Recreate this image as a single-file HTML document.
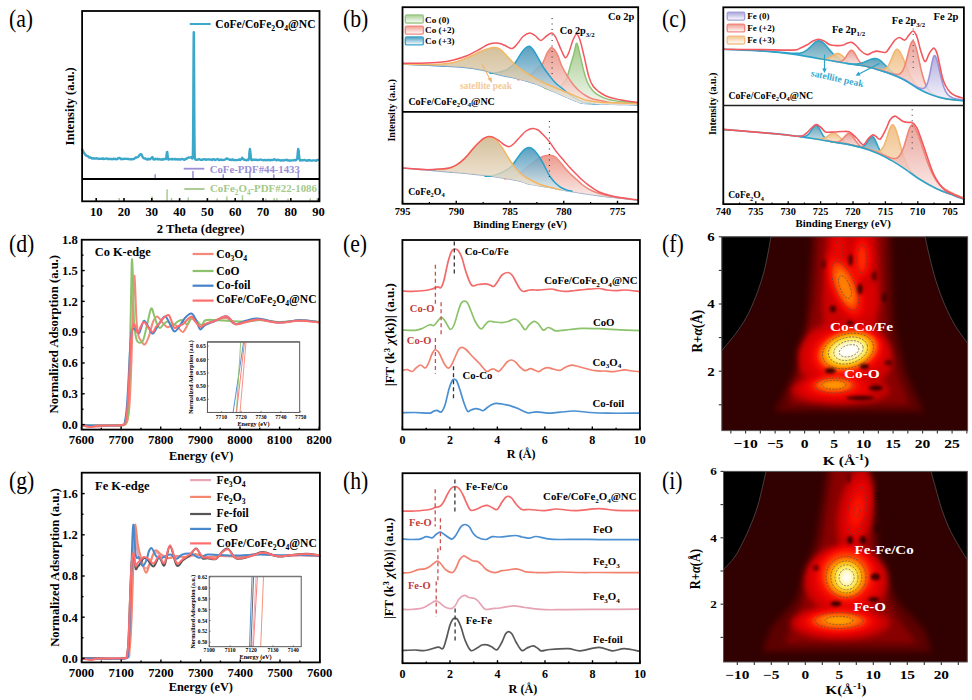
<!DOCTYPE html>
<html><head><meta charset="utf-8"><style>html,body{margin:0;padding:0;background:#fff;}svg{display:block;}
text{font-family:"Liberation Serif", serif;}</style></head><body>
<svg width="972" height="700" viewBox="0 0 972 700">
<defs><linearGradient id="g1" gradientUnits="userSpaceOnUse" x1="0" y1="43.3" x2="0" y2="105"><stop offset="0" stop-color="#93c177" stop-opacity="1.0"/><stop offset="1" stop-color="#f2f6ee" stop-opacity="1.0"/></linearGradient>
<linearGradient id="g2" gradientUnits="userSpaceOnUse" x1="0" y1="47.6" x2="0" y2="104.71"><stop offset="0" stop-color="#e98a7a" stop-opacity="1.0"/><stop offset="1" stop-color="#fbecea" stop-opacity="1.0"/></linearGradient>
<linearGradient id="g3" gradientUnits="userSpaceOnUse" x1="0" y1="46.2" x2="0" y2="103.99"><stop offset="0" stop-color="#3d8fb6" stop-opacity="1.0"/><stop offset="1" stop-color="#e3eff3" stop-opacity="1.0"/></linearGradient>
<linearGradient id="g4" gradientUnits="userSpaceOnUse" x1="0" y1="47.5" x2="0" y2="105"><stop offset="0" stop-color="#c9b184" stop-opacity="1.0"/><stop offset="1" stop-color="#f3e6d6" stop-opacity="1.0"/></linearGradient>
<linearGradient id="g5" gradientUnits="userSpaceOnUse" x1="0" y1="155.2" x2="0" y2="199.41"><stop offset="0" stop-color="#e98a7a" stop-opacity="1.0"/><stop offset="1" stop-color="#fbecea" stop-opacity="1.0"/></linearGradient>
<linearGradient id="g6" gradientUnits="userSpaceOnUse" x1="0" y1="147.4" x2="0" y2="191.72"><stop offset="0" stop-color="#3d8fb6" stop-opacity="1.0"/><stop offset="1" stop-color="#e3eff3" stop-opacity="1.0"/></linearGradient>
<linearGradient id="g7" gradientUnits="userSpaceOnUse" x1="0" y1="137.2" x2="0" y2="189.63"><stop offset="0" stop-color="#c9b184" stop-opacity="1.0"/><stop offset="1" stop-color="#f3e6d6" stop-opacity="1.0"/></linearGradient>
<linearGradient id="g8" gradientUnits="userSpaceOnUse" x1="0" y1="15" x2="0" y2="23"><stop offset="0" stop-color="#a9cf90" stop-opacity="1.0"/><stop offset="1" stop-color="#ffffff" stop-opacity="1.0"/></linearGradient>
<linearGradient id="g9" gradientUnits="userSpaceOnUse" x1="0" y1="26.1" x2="0" y2="34.1"><stop offset="0" stop-color="#f29a8e" stop-opacity="1.0"/><stop offset="1" stop-color="#ffffff" stop-opacity="1.0"/></linearGradient>
<linearGradient id="g10" gradientUnits="userSpaceOnUse" x1="0" y1="36.9" x2="0" y2="44.9"><stop offset="0" stop-color="#4a9cc0" stop-opacity="1.0"/><stop offset="1" stop-color="#ffffff" stop-opacity="1.0"/></linearGradient>
<linearGradient id="g11" gradientUnits="userSpaceOnUse" x1="0" y1="40.79" x2="0" y2="74.08"><stop offset="0" stop-color="#4f98b3" stop-opacity="1.0"/><stop offset="1" stop-color="#cfe3ea" stop-opacity="1.0"/></linearGradient>
<linearGradient id="g12" gradientUnits="userSpaceOnUse" x1="0" y1="53.49" x2="0" y2="65.12"><stop offset="0" stop-color="#efb878" stop-opacity="1.0"/><stop offset="1" stop-color="#fbefe2" stop-opacity="1.0"/></linearGradient>
<linearGradient id="g13" gradientUnits="userSpaceOnUse" x1="0" y1="50.35" x2="0" y2="67.36"><stop offset="0" stop-color="#e58f85" stop-opacity="1.0"/><stop offset="1" stop-color="#fcefed" stop-opacity="1.0"/></linearGradient>
<linearGradient id="g14" gradientUnits="userSpaceOnUse" x1="0" y1="58.56" x2="0" y2="82.21"><stop offset="0" stop-color="#4f98b3" stop-opacity="1.0"/><stop offset="1" stop-color="#cfe3ea" stop-opacity="1.0"/></linearGradient>
<linearGradient id="g15" gradientUnits="userSpaceOnUse" x1="0" y1="49.22" x2="0" y2="100"><stop offset="0" stop-color="#efb878" stop-opacity="1.0"/><stop offset="1" stop-color="#fbefe2" stop-opacity="1.0"/></linearGradient>
<linearGradient id="g16" gradientUnits="userSpaceOnUse" x1="0" y1="41.07" x2="0" y2="100.89"><stop offset="0" stop-color="#e58f85" stop-opacity="1.0"/><stop offset="1" stop-color="#fcefed" stop-opacity="1.0"/></linearGradient>
<linearGradient id="g17" gradientUnits="userSpaceOnUse" x1="0" y1="55.67" x2="0" y2="100.89"><stop offset="0" stop-color="#a7a3d8" stop-opacity="1.0"/><stop offset="1" stop-color="#f3f2fa" stop-opacity="1.0"/></linearGradient>
<linearGradient id="g18" gradientUnits="userSpaceOnUse" x1="0" y1="125.23" x2="0" y2="142.34"><stop offset="0" stop-color="#4f98b3" stop-opacity="1.0"/><stop offset="1" stop-color="#cfe3ea" stop-opacity="1.0"/></linearGradient>
<linearGradient id="g19" gradientUnits="userSpaceOnUse" x1="0" y1="133.17" x2="0" y2="145.96"><stop offset="0" stop-color="#efb878" stop-opacity="1.0"/><stop offset="1" stop-color="#fbefe2" stop-opacity="1.0"/></linearGradient>
<linearGradient id="g20" gradientUnits="userSpaceOnUse" x1="0" y1="133.5" x2="0" y2="149.6"><stop offset="0" stop-color="#e58f85" stop-opacity="1.0"/><stop offset="1" stop-color="#fcefed" stop-opacity="1.0"/></linearGradient>
<linearGradient id="g21" gradientUnits="userSpaceOnUse" x1="0" y1="136.6" x2="0" y2="160.17"><stop offset="0" stop-color="#4f98b3" stop-opacity="1.0"/><stop offset="1" stop-color="#cfe3ea" stop-opacity="1.0"/></linearGradient>
<linearGradient id="g22" gradientUnits="userSpaceOnUse" x1="0" y1="124.85" x2="0" y2="194.11"><stop offset="0" stop-color="#efb878" stop-opacity="1.0"/><stop offset="1" stop-color="#fbefe2" stop-opacity="1.0"/></linearGradient>
<linearGradient id="g23" gradientUnits="userSpaceOnUse" x1="0" y1="124.84" x2="0" y2="198.88"><stop offset="0" stop-color="#e58f85" stop-opacity="1.0"/><stop offset="1" stop-color="#fcefed" stop-opacity="1.0"/></linearGradient>
<linearGradient id="g24" gradientUnits="userSpaceOnUse" x1="0" y1="12.3" x2="0" y2="20.1"><stop offset="0" stop-color="#a9a5dc" stop-opacity="1.0"/><stop offset="1" stop-color="#ffffff" stop-opacity="1.0"/></linearGradient>
<linearGradient id="g25" gradientUnits="userSpaceOnUse" x1="0" y1="24.3" x2="0" y2="31.9"><stop offset="0" stop-color="#f29a8e" stop-opacity="1.0"/><stop offset="1" stop-color="#ffffff" stop-opacity="1.0"/></linearGradient>
<linearGradient id="g26" gradientUnits="userSpaceOnUse" x1="0" y1="36.2" x2="0" y2="44"><stop offset="0" stop-color="#f4c38c" stop-opacity="1.0"/><stop offset="1" stop-color="#ffffff" stop-opacity="1.0"/></linearGradient>
<filter id="bl15" x="-50%" y="-50%" width="200%" height="200%"><feGaussianBlur stdDeviation="1.4"/></filter>
<clipPath id="clipf"><rect x="721.8" y="236.8" width="245.80000000000007" height="193.8"/></clipPath>
<filter id="hotf" x="0" y="0" width="972" height="700" filterUnits="userSpaceOnUse" color-interpolation-filters="sRGB"><feGaussianBlur stdDeviation="3.2"/><feComponentTransfer><feFuncR type="table" tableValues="0.196 0.294 0.412 0.569 0.745 0.902 0.988 1.000 1.000 1.000 1.000"/><feFuncG type="table" tableValues="0.000 0.000 0.000 0.000 0.000 0.000 0.078 0.353 0.667 0.922 1.000"/><feFuncB type="table" tableValues="0.000 0.000 0.000 0.000 0.000 0.000 0.000 0.000 0.000 0.353 1.000"/></feComponentTransfer></filter>
<clipPath id="clipi"><rect x="723.5" y="471.4" width="243.79999999999995" height="190.60000000000002"/></clipPath>
<filter id="hoti" x="0" y="0" width="972" height="700" filterUnits="userSpaceOnUse" color-interpolation-filters="sRGB"><feGaussianBlur stdDeviation="3.2"/><feComponentTransfer><feFuncR type="table" tableValues="0.196 0.294 0.412 0.569 0.745 0.902 0.988 1.000 1.000 1.000 1.000"/><feFuncG type="table" tableValues="0.000 0.000 0.000 0.000 0.000 0.000 0.078 0.353 0.667 0.922 1.000"/><feFuncB type="table" tableValues="0.000 0.000 0.000 0.000 0.000 0.000 0.000 0.000 0.000 0.353 1.000"/></feComponentTransfer></filter></defs>
<rect x="0" y="0" width="972" height="700" fill="#fff"/>
<path d="M82.3,149.36 L83.27,151.77 L84.25,153.24 L85.22,154.7 L86.19,155.68 L87.16,155.9 L88.14,156.42 L89.11,157.59 L90.08,157.4 L91.06,157.63 L92.03,158.51 L93,158.19 L93.98,158.64 L94.95,158.4 L95.92,158.62 L96.89,158.24 L97.87,158.72 L98.84,158.96 L99.81,158.68 L100.79,158.9 L101.76,158.86 L102.73,158.33 L103.71,158.97 L104.68,158.83 L105.65,158.58 L106.62,158.35 L107.6,159.11 L108.57,158.77 L109.54,159 L110.52,159.15 L111.49,159.01 L112.46,159.21 L113.44,158.74 L114.41,159.11 L115.38,158.8 L116.35,159.25 L117.33,159.17 L118.3,158.21 L119.27,157.95 L120.25,158.33 L121.22,159.28 L122.19,158.84 L123.17,159.03 L124.14,158.74 L125.11,158.93 L126.09,158.83 L127.06,158.81 L128.03,159.02 L129,159.03 L129.98,159.31 L130.95,159.1 L131.92,159.27 L132.9,159.08 L133.87,158.98 L134.84,158.34 L135.82,157.41 L136.79,157.51 L137.76,157.07 L138.73,156.29 L139.71,154.86 L140.68,154.22 L141.65,154.63 L142.63,157.05 L143.6,158.17 L144.57,158.5 L145.55,158.53 L146.52,159.34 L147.49,159.51 L148.46,158.73 L149.44,159.38 L150.41,159.03 L151.38,157.97 L152.36,157.06 L153.33,159.29 L154.3,159.48 L155.28,158.75 L156.25,159.27 L157.22,158.76 L158.19,159.37 L159.17,159.03 L160.14,159.54 L161.11,159.63 L162.09,159.21 L163.06,159.66 L164.03,159.05 L165.01,158.85 L165.98,159.11 L166.09,158.4 L166.2,158.2 L166.31,157.84 L166.42,157.25 L166.53,155.85 L166.65,154.58 L166.76,154.13 L166.87,152.57 L166.98,152.42 L167.09,152.1 L167.2,151.9 L167.31,152.71 L167.42,153.82 L167.53,155.13 L167.65,156.25 L167.76,157.22 L167.87,158.05 L167.98,158.88 L168.09,158.84 L168.2,158.98 L168.31,159.35 L168.42,158.98 L168.54,159.06 L168.65,159.68 L168.76,159.28 L168.87,159.3 L168.98,158.82 L169.95,159.19 L170.93,159.35 L171.9,158.85 L172.87,159.39 L173.85,159.42 L174.82,158.91 L175.79,159.43 L176.76,159.29 L177.74,159.49 L178.71,159.2 L179.68,159.53 L180.66,159.56 L181.63,158.93 L182.6,158.97 L183.58,159.53 L184.55,159.76 L185.52,158.98 L186.49,158.72 L187.47,158.12 L188.44,157.44 L189.41,157.68 L190.39,157.41 L191.36,157.11 L192.33,158.54 L192.44,158.34 L192.55,158.27 L192.67,158.05 L192.78,155.85 L192.89,153.02 L193,146.87 L193.11,135.89 L193.22,120.01 L193.33,99.84 L193.44,75.87 L193.56,53.61 L193.67,37.75 L193.78,32.1 L193.89,37.47 L194,53.77 L194.11,76.03 L194.22,99.97 L194.33,120.35 L194.45,136.58 L194.56,146.62 L194.67,153.15 L194.78,156.84 L194.89,158.68 L195,159 L195.11,159.07 L195.22,159.08 L195.33,159.48 L195.45,159.18 L196.42,159.75 L197.39,159.78 L198.37,159.2 L199.34,159.29 L200.31,159.78 L201.28,159.63 L202.26,159.79 L203.23,159.38 L204.2,159.2 L205.18,159.35 L206.15,159.81 L207.12,159.34 L208.1,159.42 L209.07,159.49 L210.04,159.5 L211.01,159.5 L211.99,159.97 L212.96,159.29 L213.93,159.16 L214.91,159.99 L215.88,159.7 L216.85,159.31 L217.83,159.01 L218.8,159.94 L219.77,160.03 L220.74,159.4 L221.72,159.88 L222.69,159.97 L223.66,159.82 L224.64,159.69 L225.61,159.26 L226.58,158.45 L227.56,158.73 L228.53,159.26 L229.5,159.8 L230.47,159.54 L231.45,160.02 L232.42,159.33 L233.39,160.11 L234.37,159.93 L235.34,160.15 L236.31,160.13 L237.29,160.14 L238.26,159.86 L239.23,159.36 L240.2,160.02 L241.18,159.36 L242.15,157.87 L243.12,159.06 L244.1,159.83 L245.07,159.76 L246.04,160.24 L247.02,159.96 L247.99,159.71 L248.1,159.62 L248.21,160.14 L248.32,159.74 L248.43,159.93 L248.54,159.4 L248.66,159.03 L248.77,158.99 L248.88,158.73 L248.99,157.46 L249.1,157.11 L249.21,156.13 L249.32,154.78 L249.43,153.46 L249.54,151.43 L249.66,150.85 L249.77,150.21 L249.88,149.03 L249.99,149.23 L250.1,149.68 L250.21,150.76 L250.32,151.81 L250.43,153.15 L250.55,154.76 L250.66,155.32 L250.77,156.46 L250.88,157.43 L250.99,158.13 L251.1,158.59 L251.21,159.75 L251.32,159.88 L251.44,159.33 L251.55,159.79 L251.66,159.67 L251.77,159.7 L251.88,159.75 L251.99,160.02 L252.1,159.97 L253.08,159.78 L254.05,159.63 L255.02,159.76 L255.99,159.58 L256.97,159.98 L257.94,160.13 L258.91,159.84 L259.89,159.57 L260.86,159.67 L261.83,159.85 L262.81,160.07 L263.78,160.24 L264.75,159.88 L265.72,160.27 L266.7,160.12 L267.67,159.95 L268.64,159.9 L269.62,160.02 L270.59,160.22 L271.56,159.96 L272.54,160.13 L273.51,159.56 L274.48,159.29 L275.45,159.94 L276.43,160.24 L277.4,159.7 L278.37,160.03 L279.35,160.03 L280.32,160.45 L281.29,160.51 L282.27,160.01 L283.24,160.49 L284.21,160.4 L285.18,159.93 L286.16,160.12 L287.13,159.82 L288.1,160.45 L289.08,160.32 L290.05,160.53 L291.02,160.45 L292,160.35 L292.97,160.42 L293.94,160.27 L294.91,159.86 L295.89,160.3 L296.86,159.25 L296.97,159.07 L297.08,159.2 L297.19,157.95 L297.31,157.22 L297.42,156.28 L297.53,155.85 L297.64,153.97 L297.75,152.51 L297.86,151.95 L297.97,150.13 L298.08,149.86 L298.19,149.11 L298.31,149.05 L298.42,149.36 L298.53,149.62 L298.64,150.75 L298.75,151.23 L298.86,153.18 L298.97,154.28 L299.08,155.72 L299.2,156.3 L299.31,157.83 L299.42,158.77 L299.53,158.58 L299.64,159.25 L299.75,159.78 L299.86,160.22 L299.97,159.83 L300.09,159.86 L300.2,159.97 L300.31,160.33 L300.42,160.47 L300.53,160.16 L300.64,160.14 L301.61,160.18 L302.59,160.14 L303.56,160.21 L304.53,159.92 L305.51,160.3 L306.48,160.73 L307.45,160.24 L308.43,160.55 L309.4,160.02 L310.37,160.51 L311.34,160.58 L312.32,160.51 L313.29,160.37 L314.26,160.35 L315.24,160.5 L316.21,160.74 L317.18,160.07 L318.16,160.03" stroke="#3ba7c9" stroke-width="2.4" fill="none" stroke-linejoin="round" stroke-linecap="round"/>
<line x1="155.14" y1="174.3" x2="155.14" y2="179" stroke="#9a8ed6" stroke-width="1.5" stroke-linecap="butt"/>
<line x1="192.94" y1="171" x2="192.94" y2="179" stroke="#9a8ed6" stroke-width="1.5" stroke-linecap="butt"/>
<line x1="223.25" y1="174.3" x2="223.25" y2="179" stroke="#9a8ed6" stroke-width="1.5" stroke-linecap="butt"/>
<line x1="249.93" y1="171" x2="249.93" y2="179" stroke="#9a8ed6" stroke-width="1.5" stroke-linecap="butt"/>
<line x1="273.84" y1="174.3" x2="273.84" y2="179" stroke="#9a8ed6" stroke-width="1.5" stroke-linecap="butt"/>
<line x1="298.31" y1="171" x2="298.31" y2="179" stroke="#9a8ed6" stroke-width="1.5" stroke-linecap="butt"/>
<line x1="183.7" y1="168.7" x2="204.3" y2="168.7" stroke="#9a8ed6" stroke-width="1.8" stroke-linecap="butt"/>
<text x="209.7" y="172.6" font-size="10.75" font-weight="bold" text-anchor="start" fill="#9a8ed6">CoFe-PDF#44-1433</text>
<line x1="119.27" y1="198" x2="119.27" y2="201.3" stroke="#a3c98a" stroke-width="1.4" stroke-linecap="butt"/>
<line x1="152.08" y1="196.5" x2="152.08" y2="201.3" stroke="#a3c98a" stroke-width="1.4" stroke-linecap="butt"/>
<line x1="167.09" y1="189.3" x2="167.09" y2="201.3" stroke="#a3c98a" stroke-width="1.4" stroke-linecap="butt"/>
<line x1="171.54" y1="198" x2="171.54" y2="201.3" stroke="#a3c98a" stroke-width="1.4" stroke-linecap="butt"/>
<line x1="188.22" y1="197.5" x2="188.22" y2="201.3" stroke="#a3c98a" stroke-width="1.4" stroke-linecap="butt"/>
<line x1="217.13" y1="198.3" x2="217.13" y2="201.3" stroke="#a3c98a" stroke-width="1.4" stroke-linecap="butt"/>
<line x1="226.86" y1="196.5" x2="226.86" y2="201.3" stroke="#a3c98a" stroke-width="1.4" stroke-linecap="butt"/>
<line x1="242.43" y1="195.3" x2="242.43" y2="201.3" stroke="#a3c98a" stroke-width="1.4" stroke-linecap="butt"/>
<line x1="265.78" y1="198.5" x2="265.78" y2="201.3" stroke="#a3c98a" stroke-width="1.4" stroke-linecap="butt"/>
<line x1="274.12" y1="198" x2="274.12" y2="201.3" stroke="#a3c98a" stroke-width="1.4" stroke-linecap="butt"/>
<line x1="276.9" y1="198.3" x2="276.9" y2="201.3" stroke="#a3c98a" stroke-width="1.4" stroke-linecap="butt"/>
<line x1="288.02" y1="198.5" x2="288.02" y2="201.3" stroke="#a3c98a" stroke-width="1.4" stroke-linecap="butt"/>
<line x1="310.26" y1="198.3" x2="310.26" y2="201.3" stroke="#a3c98a" stroke-width="1.4" stroke-linecap="butt"/>
<line x1="317.21" y1="198.5" x2="317.21" y2="201.3" stroke="#a3c98a" stroke-width="1.4" stroke-linecap="butt"/>
<line x1="184.3" y1="189" x2="204.5" y2="189" stroke="#a3c98a" stroke-width="1.8" stroke-linecap="butt"/>
<text x="210" y="192.3" font-size="10.9" font-weight="bold" text-anchor="start" fill="#a3c98a">CoFe<tspan font-size="7.19" dy="2.83">2</tspan><tspan dy="-2.83">O</tspan><tspan font-size="7.19" dy="2.83">4</tspan><tspan dy="-2.83">-PDF#22-1086</tspan></text>
<line x1="189.8" y1="24" x2="210.7" y2="24" stroke="#3ba7c9" stroke-width="2" stroke-linecap="butt"/>
<text x="215.3" y="27.6" font-size="11.6" font-weight="bold" text-anchor="start" fill="#000">CoFe/CoFe<tspan font-size="7.66" dy="3.02">2</tspan><tspan dy="-3.02">O</tspan><tspan font-size="7.66" dy="3.02">4</tspan><tspan dy="-3.02">@NC</tspan></text>
<rect x="82.1" y="11" width="237.4" height="190.3" stroke="#000" stroke-width="1.8" fill="none"/>
<line x1="82.1" y1="179" x2="319.5" y2="179" stroke="#000" stroke-width="1.8" stroke-linecap="butt"/>
<line x1="96.2" y1="201.3" x2="96.2" y2="198.1" stroke="#000" stroke-width="1.6" stroke-linecap="butt"/>
<text x="96.2" y="215.8" font-size="12.6" font-weight="bold" text-anchor="middle" fill="#000">10</text>
<line x1="124" y1="201.3" x2="124" y2="198.1" stroke="#000" stroke-width="1.6" stroke-linecap="butt"/>
<text x="124" y="215.8" font-size="12.6" font-weight="bold" text-anchor="middle" fill="#000">20</text>
<line x1="151.8" y1="201.3" x2="151.8" y2="198.1" stroke="#000" stroke-width="1.6" stroke-linecap="butt"/>
<text x="151.8" y="215.8" font-size="12.6" font-weight="bold" text-anchor="middle" fill="#000">30</text>
<line x1="179.6" y1="201.3" x2="179.6" y2="198.1" stroke="#000" stroke-width="1.6" stroke-linecap="butt"/>
<text x="179.6" y="215.8" font-size="12.6" font-weight="bold" text-anchor="middle" fill="#000">40</text>
<line x1="207.4" y1="201.3" x2="207.4" y2="198.1" stroke="#000" stroke-width="1.6" stroke-linecap="butt"/>
<text x="207.4" y="215.8" font-size="12.6" font-weight="bold" text-anchor="middle" fill="#000">50</text>
<line x1="235.2" y1="201.3" x2="235.2" y2="198.1" stroke="#000" stroke-width="1.6" stroke-linecap="butt"/>
<text x="235.2" y="215.8" font-size="12.6" font-weight="bold" text-anchor="middle" fill="#000">60</text>
<line x1="263" y1="201.3" x2="263" y2="198.1" stroke="#000" stroke-width="1.6" stroke-linecap="butt"/>
<text x="263" y="215.8" font-size="12.6" font-weight="bold" text-anchor="middle" fill="#000">70</text>
<line x1="290.8" y1="201.3" x2="290.8" y2="198.1" stroke="#000" stroke-width="1.6" stroke-linecap="butt"/>
<text x="290.8" y="215.8" font-size="12.6" font-weight="bold" text-anchor="middle" fill="#000">80</text>
<line x1="318.6" y1="201.3" x2="318.6" y2="198.1" stroke="#000" stroke-width="1.6" stroke-linecap="butt"/>
<text x="318.6" y="215.8" font-size="12.6" font-weight="bold" text-anchor="middle" fill="#000">90</text>
<text x="200.7" y="232.5" font-size="12.6" font-weight="bold" text-anchor="middle" fill="#000">2 Theta (degree)</text>
<text x="74.5" y="106.3" font-size="12.5" font-weight="bold" text-anchor="middle" fill="#000" transform="rotate(-90 74.5 106.3)">Intensity (a.u.)</text>
<text x="8.9" y="26.7" font-size="24.7" font-weight="normal" text-anchor="start" fill="#000" transform="translate(8.9 0) scale(0.88 1) translate(-8.9 0)">(a)</text>
<path d="M402.5,64.2 C408.75,64.5 428.08,65.25 440,66 C451.92,66.75 464,67.2 474,68.7 C484,70.2 493.2,73.42 500,75 C506.8,76.58 510.68,77.27 514.8,78.2 C518.92,79.13 521,79.55 524.7,80.6 C528.4,81.65 532.88,82.97 537,84.5 C541.12,86.03 545.28,88.02 549.4,89.8 C553.52,91.58 557.6,93.45 561.7,95.2 C565.8,96.95 570.92,99.03 574,100.3 C577.08,101.57 578.13,102.25 580.2,102.8 C582.27,103.35 583.3,103.38 586.4,103.6 C589.5,103.82 593.2,103.93 598.8,104.1 C604.4,104.27 613.43,104.45 620,104.6 C626.57,104.75 635.17,104.93 638.2,105" stroke="#5b9bd5" stroke-width="1.3" fill="none" stroke-linejoin="round" stroke-linecap="round"/>
<path d="M545,88.5 C545.83,88.67 548.23,89.18 550,89.5 C551.77,89.82 553.65,91.07 555.6,90.4 C557.55,89.73 559.85,87.55 561.7,85.5 C563.55,83.45 565.25,81.4 566.7,78.1 C568.15,74.8 569.18,69.82 570.4,65.7 C571.62,61.58 572.93,57.13 574,53.4 C575.07,49.67 575.77,42.88 576.8,43.3 C577.83,43.72 579,51.13 580.2,55.9 C581.4,60.67 582.75,67.38 584,71.9 C585.25,76.42 586.27,79.92 587.7,83 C589.13,86.08 590.75,88.33 592.6,90.4 C594.45,92.47 596.33,93.95 598.8,95.4 C601.27,96.85 603.87,98.08 607.4,99.1 C610.93,100.12 614.9,100.8 620,101.5 C625.1,102.2 635,103 638,103.3 L638,105 L636,104.95 L634,104.91 L632,104.86 L630,104.82 L628,104.78 L626,104.73 L624,104.69 L622,104.65 L620,104.6 L618,104.56 L616,104.51 L614,104.47 L612,104.43 L610,104.38 L608,104.34 L606,104.29 L604,104.24 L602,104.19 L600,104.13 L598,104.08 L596,104.02 L594,103.96 L592,103.89 L590,103.81 L588,103.7 L586,103.57 L584,103.42 L582,103.18 L580,102.75 L578,102.04 L576,101.17 L574,100.3 L572,99.48 L570,98.66 L568,97.84 L566,97.01 L564,96.17 L562,95.33 L560,94.47 L558,93.59 L556,92.71 L554,91.82 L552,90.94 L550,90.06 L548,89.19 L546,88.3 L545,87.85 Z" stroke="none" stroke-width="1" fill="url(#g1)" stroke-linejoin="round" stroke-linecap="round" fill-opacity="0.85"/>
<path d="M545,88.5 C545.83,88.67 548.23,89.18 550,89.5 C551.77,89.82 553.65,91.07 555.6,90.4 C557.55,89.73 559.85,87.55 561.7,85.5 C563.55,83.45 565.25,81.4 566.7,78.1 C568.15,74.8 569.18,69.82 570.4,65.7 C571.62,61.58 572.93,57.13 574,53.4 C575.07,49.67 575.77,42.88 576.8,43.3 C577.83,43.72 579,51.13 580.2,55.9 C581.4,60.67 582.75,67.38 584,71.9 C585.25,76.42 586.27,79.92 587.7,83 C589.13,86.08 590.75,88.33 592.6,90.4 C594.45,92.47 596.33,93.95 598.8,95.4 C601.27,96.85 603.87,98.08 607.4,99.1 C610.93,100.12 614.9,100.8 620,101.5 C625.1,102.2 635,103 638,103.3" stroke="#8dc274" stroke-width="1.5" fill="none" stroke-linejoin="round" stroke-linecap="round"/>
<path d="M518,79.8 C519.33,79.42 523.67,78.55 526,77.5 C528.33,76.45 530.17,75 532,73.5 C533.83,72 535.33,70 537,68.5 C538.67,67 540.35,67.02 542,64.5 C543.65,61.98 545.57,56.02 546.9,53.4 C548.23,50.78 549.13,49.77 550,48.8 C550.87,47.83 551.27,47.32 552.1,47.6 C552.93,47.88 554.02,49.12 555,50.5 C555.98,51.88 556.88,53.37 558,55.9 C559.12,58.43 560.05,62.2 561.7,65.7 C563.35,69.2 565.85,73.6 567.9,76.9 C569.95,80.2 571.95,83.03 574,85.5 C576.05,87.97 578.13,89.95 580.2,91.7 C582.27,93.45 584.43,94.82 586.4,96 C588.37,97.18 589.93,98.08 592,98.8 C594.07,99.52 595.8,99.68 598.8,100.3 C601.8,100.92 605.63,101.88 610,102.5 C614.37,103.12 622.5,103.75 625,104 L625,104.71 L623,104.67 L621,104.62 L619,104.58 L617,104.53 L615,104.49 L613,104.45 L611,104.4 L609,104.36 L607,104.31 L605,104.27 L603,104.22 L601,104.16 L599,104.11 L597,104.05 L595,103.99 L593,103.93 L591,103.85 L589,103.76 L587,103.64 L585,103.5 L583,103.32 L581,102.99 L579,102.42 L577,101.62 L575,100.73 L573,99.89 L571,99.07 L569,98.25 L567,97.42 L565,96.59 L563,95.75 L561,94.9 L559,94.03 L557,93.15 L555,92.27 L553,91.38 L551,90.5 L549,89.63 L547,88.74 L545,87.85 L543,86.97 L541,86.1 L539,85.28 L537,84.5 L535,83.78 L533,83.1 L531,82.46 L529,81.85 L527,81.26 L525,80.69 L523,80.14 L521,79.63 L519,79.15 L518,78.92 Z" stroke="none" stroke-width="1" fill="url(#g2)" stroke-linejoin="round" stroke-linecap="round" fill-opacity="0.85"/>
<path d="M518,79.8 C519.33,79.42 523.67,78.55 526,77.5 C528.33,76.45 530.17,75 532,73.5 C533.83,72 535.33,70 537,68.5 C538.67,67 540.35,67.02 542,64.5 C543.65,61.98 545.57,56.02 546.9,53.4 C548.23,50.78 549.13,49.77 550,48.8 C550.87,47.83 551.27,47.32 552.1,47.6 C552.93,47.88 554.02,49.12 555,50.5 C555.98,51.88 556.88,53.37 558,55.9 C559.12,58.43 560.05,62.2 561.7,65.7 C563.35,69.2 565.85,73.6 567.9,76.9 C569.95,80.2 571.95,83.03 574,85.5 C576.05,87.97 578.13,89.95 580.2,91.7 C582.27,93.45 584.43,94.82 586.4,96 C588.37,97.18 589.93,98.08 592,98.8 C594.07,99.52 595.8,99.68 598.8,100.3 C601.8,100.92 605.63,101.88 610,102.5 C614.37,103.12 622.5,103.75 625,104" stroke="#f0877a" stroke-width="1.5" fill="none" stroke-linejoin="round" stroke-linecap="round"/>
<path d="M490,73.2 C491.17,73.13 494.5,73.25 497,72.8 C499.5,72.35 502.83,71.38 505,70.5 C507.17,69.62 508.37,68.7 510,67.5 C511.63,66.3 512.97,65.65 514.8,63.3 C516.63,60.95 519.22,55.95 521,53.4 C522.78,50.85 524.1,49.2 525.5,48 C526.9,46.8 528.15,45.95 529.4,46.2 C530.65,46.45 531.73,47.88 533,49.5 C534.27,51.12 535.3,52.98 537,55.9 C538.7,58.82 541.13,63.72 543.2,67 C545.27,70.28 547.33,72.93 549.4,75.6 C551.47,78.27 553.55,80.93 555.6,83 C557.65,85.07 559.45,86.15 561.7,88 C563.95,89.85 566.63,92.25 569.1,94.1 C571.57,95.95 573.85,97.7 576.5,99.1 C579.15,100.5 581.92,101.72 585,102.5 C588.08,103.28 593.33,103.58 595,103.8 L595,103.99 L593,103.93 L591,103.85 L589,103.76 L587,103.64 L585,103.5 L583,103.32 L581,102.99 L579,102.42 L577,101.62 L575,100.73 L573,99.89 L571,99.07 L569,98.25 L567,97.42 L565,96.59 L563,95.75 L561,94.9 L559,94.03 L557,93.15 L555,92.27 L553,91.38 L551,90.5 L549,89.63 L547,88.74 L545,87.85 L543,86.97 L541,86.1 L539,85.28 L537,84.5 L535,83.78 L533,83.1 L531,82.46 L529,81.85 L527,81.26 L525,80.69 L523,80.14 L521,79.63 L519,79.15 L517,78.7 L515,78.25 L513,77.8 L511,77.37 L509,76.95 L507,76.53 L505,76.11 L503,75.68 L501,75.23 L499,74.76 L497,74.27 L495,73.75 L493,73.21 L491,72.67 L490,72.39 Z" stroke="none" stroke-width="1" fill="url(#g3)" stroke-linejoin="round" stroke-linecap="round" fill-opacity="0.85"/>
<path d="M490,73.2 C491.17,73.13 494.5,73.25 497,72.8 C499.5,72.35 502.83,71.38 505,70.5 C507.17,69.62 508.37,68.7 510,67.5 C511.63,66.3 512.97,65.65 514.8,63.3 C516.63,60.95 519.22,55.95 521,53.4 C522.78,50.85 524.1,49.2 525.5,48 C526.9,46.8 528.15,45.95 529.4,46.2 C530.65,46.45 531.73,47.88 533,49.5 C534.27,51.12 535.3,52.98 537,55.9 C538.7,58.82 541.13,63.72 543.2,67 C545.27,70.28 547.33,72.93 549.4,75.6 C551.47,78.27 553.55,80.93 555.6,83 C557.65,85.07 559.45,86.15 561.7,88 C563.95,89.85 566.63,92.25 569.1,94.1 C571.57,95.95 573.85,97.7 576.5,99.1 C579.15,100.5 581.92,101.72 585,102.5 C588.08,103.28 593.33,103.58 595,103.8" stroke="#27a0c9" stroke-width="1.5" fill="none" stroke-linejoin="round" stroke-linecap="round"/>
<path d="M403,64 C405.83,64.07 413.82,64.37 420,64.4 C426.18,64.43 434.52,64.52 440.1,64.2 C445.68,63.88 449.03,63.57 453.5,62.5 C457.97,61.43 462.45,59.58 466.9,57.8 C471.35,56.02 476.68,53.33 480.2,51.8 C483.72,50.27 485.53,49.32 488,48.6 C490.47,47.88 493,47.4 495,47.5 C497,47.6 497.93,47.7 500,49.2 C502.07,50.7 504.93,53.95 507.4,56.5 C509.87,59.05 511.92,61.93 514.8,64.5 C517.68,67.07 521,69.43 524.7,71.9 C528.4,74.37 532.88,77.07 537,79.3 C541.12,81.53 545.28,83.45 549.4,85.3 C553.52,87.15 557.6,88.72 561.7,90.4 C565.8,92.08 569.88,93.75 574,95.4 C578.12,97.05 582.07,99.17 586.4,100.3 C590.73,101.43 594.4,101.75 600,102.2 C605.6,102.65 613.67,102.7 620,103 C626.33,103.3 635,103.83 638,104 L638,105 L636,104.95 L634,104.91 L632,104.86 L630,104.82 L628,104.78 L626,104.73 L624,104.69 L622,104.65 L620,104.6 L618,104.56 L616,104.51 L614,104.47 L612,104.43 L610,104.38 L608,104.34 L606,104.29 L604,104.24 L602,104.19 L600,104.13 L598,104.08 L596,104.02 L594,103.96 L592,103.89 L590,103.81 L588,103.7 L586,103.57 L584,103.42 L582,103.18 L580,102.75 L578,102.04 L576,101.17 L574,100.3 L572,99.48 L570,98.66 L568,97.84 L566,97.01 L564,96.17 L562,95.33 L560,94.47 L558,93.59 L556,92.71 L554,91.82 L552,90.94 L550,90.06 L548,89.19 L546,88.3 L544,87.41 L542,86.53 L540,85.68 L538,84.88 L536,84.13 L534,83.44 L532,82.78 L530,82.15 L528,81.55 L526,80.97 L524,80.4 L522,79.88 L520,79.39 L518,78.92 L516,78.47 L514,78.02 L512,77.58 L510,77.16 L508,76.74 L506,76.32 L504,75.89 L502,75.45 L500,75 L498,74.52 L496,74.01 L494,73.48 L492,72.94 L490,72.39 L488,71.85 L486,71.31 L484,70.8 L482,70.3 L480,69.84 L478,69.41 L476,69.03 L474,68.7 L472,68.41 L470,68.16 L468,67.92 L466,67.71 L464,67.52 L462,67.35 L460,67.19 L458,67.05 L456,66.92 L454,66.79 L452,66.68 L450,66.57 L448,66.46 L446,66.35 L444,66.24 L442,66.12 L440,66 L438,65.88 L436,65.76 L434,65.65 L432,65.54 L430,65.44 L428,65.34 L426,65.25 L424,65.15 L422,65.06 L420,64.97 L418,64.89 L416,64.8 L414,64.72 L412,64.63 L410,64.54 L408,64.45 L406,64.36 L404,64.27 L403,64.22 Z" stroke="none" stroke-width="1" fill="url(#g4)" stroke-linejoin="round" stroke-linecap="round" fill-opacity="0.8"/>
<path d="M403,64 C405.83,64.07 413.82,64.37 420,64.4 C426.18,64.43 434.52,64.52 440.1,64.2 C445.68,63.88 449.03,63.57 453.5,62.5 C457.97,61.43 462.45,59.58 466.9,57.8 C471.35,56.02 476.68,53.33 480.2,51.8 C483.72,50.27 485.53,49.32 488,48.6 C490.47,47.88 493,47.4 495,47.5 C497,47.6 497.93,47.7 500,49.2 C502.07,50.7 504.93,53.95 507.4,56.5 C509.87,59.05 511.92,61.93 514.8,64.5 C517.68,67.07 521,69.43 524.7,71.9 C528.4,74.37 532.88,77.07 537,79.3 C541.12,81.53 545.28,83.45 549.4,85.3 C553.52,87.15 557.6,88.72 561.7,90.4 C565.8,92.08 569.88,93.75 574,95.4 C578.12,97.05 582.07,99.17 586.4,100.3 C590.73,101.43 594.4,101.75 600,102.2 C605.6,102.65 613.67,102.7 620,103 C626.33,103.3 635,103.83 638,104" stroke="#f3b763" stroke-width="1.5" fill="none" stroke-linejoin="round" stroke-linecap="round"/>
<path d="M402.5,63.3 C405.42,63.3 413.75,63.47 420,63.3 C426.25,63.13 434.42,62.85 440,62.3 C445.58,61.75 449.02,61.08 453.5,60 C457.98,58.92 462.45,57.63 466.9,55.8 C471.35,53.97 476.68,50.88 480.2,49 C483.72,47.12 485.53,45.5 488,44.5 C490.47,43.5 493,43.17 495,43 C497,42.83 498.17,43 500,43.5 C501.83,44 503.95,45.17 506,46 C508.05,46.83 510.3,49 512.3,48.5 C514.3,48 516.22,45 518,43 C519.78,41 521.07,38.17 523,36.5 C524.93,34.83 527.6,33.17 529.6,33 C531.6,32.83 533.15,34.27 535,35.5 C536.85,36.73 538.87,40.23 540.7,40.4 C542.53,40.57 544.13,37.73 546,36.5 C547.87,35.27 550.23,32.75 551.9,33 C553.57,33.25 554.48,35.25 556,38 C557.52,40.75 559.43,46.22 561,49.5 C562.57,52.78 564.07,57.28 565.4,57.7 C566.73,58.12 567.73,54.95 569,52 C570.27,49.05 571.75,42.95 573,40 C574.25,37.05 575.33,34.3 576.5,34.3 C577.67,34.3 578.75,36.4 580,40 C581.25,43.6 582.52,49.75 584,55.9 C585.48,62.05 587.4,71.88 588.9,76.9 C590.4,81.92 591.35,83.53 593,86 C594.65,88.47 596.8,90.12 598.8,91.7 C600.8,93.28 602.95,94.48 605,95.5 C607.05,96.52 608.6,97.1 611.1,97.8 C613.6,98.5 616.85,99.08 620,99.7 C623.15,100.32 627,101.03 630,101.5 C633,101.97 636.67,102.33 638,102.5" stroke="#f2585e" stroke-width="1.5" fill="none" stroke-linejoin="round" stroke-linecap="round"/>
<line x1="552.1" y1="18" x2="552.1" y2="75" stroke="#333" stroke-width="1.1" stroke-dasharray="1 4.5" stroke-linecap="butt"/>
<path d="M402.5,168.1 C406.2,168.4 416.88,169.25 424.7,169.9 C432.52,170.55 441.18,171.27 449.4,172 C457.62,172.73 465.77,173.42 474,174.3 C482.23,175.18 491.13,176.18 498.8,177.3 C506.47,178.42 515.3,179.95 520,181 C524.7,182.05 523.77,182.8 527,183.6 C530.23,184.4 535.57,185.13 539.4,185.8 C543.23,186.47 545.9,186.83 550,187.6 C554.1,188.37 559.6,189.6 564,190.4 C568.4,191.2 572.27,191.75 576.4,192.4 C580.53,193.05 584.7,193.7 588.8,194.3 C592.9,194.9 597.47,195.52 601,196 C604.53,196.48 603.8,196.48 610,197.2 C616.2,197.92 633.5,199.78 638.2,200.3" stroke="#8fa9c8" stroke-width="1.3" fill="none" stroke-linejoin="round" stroke-linecap="round"/>
<path d="M505,179 C506.67,178.5 512,177.42 515,176 C518,174.58 520.38,172.43 523,170.5 C525.62,168.57 528.2,166.32 530.7,164.4 C533.2,162.48 535.78,160.4 538,159 C540.22,157.6 542.02,156.63 544,156 C545.98,155.37 547.9,154.95 549.9,155.2 C551.9,155.45 553.65,155.55 556,157.5 C558.35,159.45 561.67,164.23 564,166.9 C566.33,169.57 567.93,171.43 570,173.5 C572.07,175.57 574.4,177.47 576.4,179.3 C578.4,181.13 579.93,182.87 582,184.5 C584.07,186.13 586.63,187.85 588.8,189.1 C590.97,190.35 592.97,191.18 595,192 C597.03,192.82 598.5,193.3 601,194 C603.5,194.7 606.83,195.57 610,196.2 C613.17,196.83 616.67,197.3 620,197.8 C623.33,198.3 628.33,198.97 630,199.2 L630,199.41 L628,199.19 L626,198.98 L624,198.76 L622,198.54 L620,198.32 L618,198.1 L616,197.88 L614,197.66 L612,197.43 L610,197.2 L608,196.96 L606,196.69 L604,196.42 L602,196.14 L600,195.86 L598,195.59 L596,195.32 L594,195.04 L592,194.76 L590,194.47 L588,194.18 L586,193.88 L584,193.58 L582,193.27 L580,192.96 L578,192.65 L576,192.34 L574,192.03 L572,191.72 L570,191.41 L568,191.09 L566,190.75 L564,190.4 L562,190.02 L560,189.63 L558,189.22 L556,188.8 L554,188.39 L552,187.99 L550,187.6 L548,187.24 L546,186.9 L544,186.57 L542,186.24 L540,185.9 L538,185.57 L536,185.25 L534,184.94 L532,184.62 L530,184.25 L528,183.84 L526,183.3 L524,182.5 L522,181.64 L520,181 L518,180.57 L516,180.16 L514,179.77 L512,179.4 L510,179.05 L508,178.71 L506,178.39 L505,178.23 Z" stroke="none" stroke-width="1" fill="url(#g5)" stroke-linejoin="round" stroke-linecap="round" fill-opacity="0.85"/>
<path d="M505,179 C506.67,178.5 512,177.42 515,176 C518,174.58 520.38,172.43 523,170.5 C525.62,168.57 528.2,166.32 530.7,164.4 C533.2,162.48 535.78,160.4 538,159 C540.22,157.6 542.02,156.63 544,156 C545.98,155.37 547.9,154.95 549.9,155.2 C551.9,155.45 553.65,155.55 556,157.5 C558.35,159.45 561.67,164.23 564,166.9 C566.33,169.57 567.93,171.43 570,173.5 C572.07,175.57 574.4,177.47 576.4,179.3 C578.4,181.13 579.93,182.87 582,184.5 C584.07,186.13 586.63,187.85 588.8,189.1 C590.97,190.35 592.97,191.18 595,192 C597.03,192.82 598.5,193.3 601,194 C603.5,194.7 606.83,195.57 610,196.2 C613.17,196.83 616.67,197.3 620,197.8 C623.33,198.3 628.33,198.97 630,199.2" stroke="#f0877a" stroke-width="1.5" fill="none" stroke-linejoin="round" stroke-linecap="round"/>
<path d="M485,176.2 C486.47,176.08 490.8,176.2 493.8,175.5 C496.8,174.8 500.13,173.43 503,172 C505.87,170.57 509.33,168.17 511,166.9 C512.67,165.63 511.5,166.47 513,164.4 C514.5,162.33 518.08,157.02 520,154.5 C521.92,151.98 522.95,150.48 524.5,149.3 C526.05,148.12 527.72,147.28 529.3,147.4 C530.88,147.52 532.32,148.4 534,150 C535.68,151.6 537.73,154.5 539.4,157 C541.07,159.5 542.57,162.33 544,165 C545.43,167.67 546.75,170.75 548,173 C549.25,175.25 550.27,176.83 551.5,178.5 C552.73,180.17 553.98,181.62 555.4,183 C556.82,184.38 558.57,185.8 560,186.8 C561.43,187.8 562.67,188.4 564,189 C565.33,189.6 566.67,190.03 568,190.4 C569.33,190.77 571.33,191.07 572,191.2 L572,191.72 L570,191.41 L568,191.09 L566,190.75 L564,190.4 L562,190.02 L560,189.63 L558,189.22 L556,188.8 L554,188.39 L552,187.99 L550,187.6 L548,187.24 L546,186.9 L544,186.57 L542,186.24 L540,185.9 L538,185.57 L536,185.25 L534,184.94 L532,184.62 L530,184.25 L528,183.84 L526,183.3 L524,182.5 L522,181.64 L520,181 L518,180.57 L516,180.16 L514,179.77 L512,179.4 L510,179.05 L508,178.71 L506,178.39 L504,178.07 L502,177.77 L500,177.48 L498,177.18 L496,176.9 L494,176.63 L492,176.37 L490,176.12 L488,175.87 L486,175.63 L485,175.52 Z" stroke="none" stroke-width="1" fill="url(#g6)" stroke-linejoin="round" stroke-linecap="round" fill-opacity="0.85"/>
<path d="M485,176.2 C486.47,176.08 490.8,176.2 493.8,175.5 C496.8,174.8 500.13,173.43 503,172 C505.87,170.57 509.33,168.17 511,166.9 C512.67,165.63 511.5,166.47 513,164.4 C514.5,162.33 518.08,157.02 520,154.5 C521.92,151.98 522.95,150.48 524.5,149.3 C526.05,148.12 527.72,147.28 529.3,147.4 C530.88,147.52 532.32,148.4 534,150 C535.68,151.6 537.73,154.5 539.4,157 C541.07,159.5 542.57,162.33 544,165 C545.43,167.67 546.75,170.75 548,173 C549.25,175.25 550.27,176.83 551.5,178.5 C552.73,180.17 553.98,181.62 555.4,183 C556.82,184.38 558.57,185.8 560,186.8 C561.43,187.8 562.67,188.4 564,189 C565.33,189.6 566.67,190.03 568,190.4 C569.33,190.77 571.33,191.07 572,191.2" stroke="#27a0c9" stroke-width="1.5" fill="none" stroke-linejoin="round" stroke-linecap="round"/>
<path d="M436,169.6 C436.78,169.53 438.47,169.45 440.7,169.2 C442.93,168.95 446.92,168.7 449.4,168.1 C451.88,167.5 453.55,166.73 455.6,165.6 C457.65,164.47 459.65,163.05 461.7,161.3 C463.75,159.55 465.83,157.37 467.9,155.1 C469.97,152.83 472.05,149.97 474.1,147.7 C476.15,145.43 478.15,143.2 480.2,141.5 C482.25,139.8 484.75,138.22 486.4,137.5 C488.05,136.78 488.45,136.73 490.1,137.2 C491.75,137.67 494.23,138.45 496.3,140.3 C498.37,142.15 500.45,145.32 502.5,148.3 C504.55,151.28 506.75,155.32 508.6,158.2 C510.45,161.08 511.7,163.13 513.6,165.6 C515.5,168.07 517.77,170.93 520,173 C522.23,175.07 523.77,176.13 527,178 C530.23,179.87 535.57,182.67 539.4,184.2 C543.23,185.73 546.57,186.3 550,187.2 C553.43,188.1 558.33,189.2 560,189.6 L560,189.63 L558,189.22 L556,188.8 L554,188.39 L552,187.99 L550,187.6 L548,187.24 L546,186.9 L544,186.57 L542,186.24 L540,185.9 L538,185.57 L536,185.25 L534,184.94 L532,184.62 L530,184.25 L528,183.84 L526,183.3 L524,182.5 L522,181.64 L520,181 L518,180.57 L516,180.16 L514,179.77 L512,179.4 L510,179.05 L508,178.71 L506,178.39 L504,178.07 L502,177.77 L500,177.48 L498,177.18 L496,176.9 L494,176.63 L492,176.37 L490,176.12 L488,175.87 L486,175.63 L484,175.4 L482,175.17 L480,174.95 L478,174.73 L476,174.52 L474,174.3 L472,174.09 L470,173.89 L468,173.69 L466,173.49 L464,173.31 L462,173.12 L460,172.94 L458,172.76 L456,172.58 L454,172.41 L452,172.23 L450,172.05 L448,171.88 L446,171.7 L444,171.53 L442,171.35 L440,171.18 L438,171.01 L436,170.84 Z" stroke="none" stroke-width="1" fill="url(#g7)" stroke-linejoin="round" stroke-linecap="round" fill-opacity="0.8"/>
<path d="M436,169.6 C436.78,169.53 438.47,169.45 440.7,169.2 C442.93,168.95 446.92,168.7 449.4,168.1 C451.88,167.5 453.55,166.73 455.6,165.6 C457.65,164.47 459.65,163.05 461.7,161.3 C463.75,159.55 465.83,157.37 467.9,155.1 C469.97,152.83 472.05,149.97 474.1,147.7 C476.15,145.43 478.15,143.2 480.2,141.5 C482.25,139.8 484.75,138.22 486.4,137.5 C488.05,136.78 488.45,136.73 490.1,137.2 C491.75,137.67 494.23,138.45 496.3,140.3 C498.37,142.15 500.45,145.32 502.5,148.3 C504.55,151.28 506.75,155.32 508.6,158.2 C510.45,161.08 511.7,163.13 513.6,165.6 C515.5,168.07 517.77,170.93 520,173 C522.23,175.07 523.77,176.13 527,178 C530.23,179.87 535.57,182.67 539.4,184.2 C543.23,185.73 546.57,186.3 550,187.2 C553.43,188.1 558.33,189.2 560,189.6" stroke="#f3b763" stroke-width="1.5" fill="none" stroke-linejoin="round" stroke-linecap="round"/>
<path d="M402.5,168 C406.2,168.27 418.33,169.43 424.7,169.6 C431.07,169.77 436.58,169.28 440.7,169 C444.82,168.72 446.92,168.5 449.4,167.9 C451.88,167.3 453.55,166.53 455.6,165.4 C457.65,164.27 459.65,162.85 461.7,161.1 C463.75,159.35 465.83,157.18 467.9,154.9 C469.97,152.62 472.05,149.68 474.1,147.4 C476.15,145.12 478.47,142.77 480.2,141.2 C481.93,139.63 483.05,138.77 484.5,138 C485.95,137.23 487.32,136.67 488.9,136.6 C490.48,136.53 492.15,136.78 494,137.6 C495.85,138.42 498.25,140.27 500,141.5 C501.75,142.73 502.92,144.15 504.5,145 C506.08,145.85 507.92,146.85 509.5,146.6 C511.08,146.35 512.17,145.18 514,143.5 C515.83,141.82 518.5,138.58 520.5,136.5 C522.5,134.42 524.03,132.33 526,131 C527.97,129.67 530.3,128.67 532.3,128.5 C534.3,128.33 536.38,129.15 538,130 C539.62,130.85 540.12,131.67 542,133.6 C543.88,135.53 546.85,138.52 549.3,141.6 C551.75,144.68 554.25,148.92 556.7,152.1 C559.15,155.28 561.78,158.08 564,160.7 C566.22,163.32 567.93,165.53 570,167.8 C572.07,170.07 574.32,172.22 576.4,174.3 C578.48,176.38 580.43,178.45 582.5,180.3 C584.57,182.15 586.72,183.85 588.8,185.4 C590.88,186.95 592.97,188.37 595,189.6 C597.03,190.83 598.5,191.82 601,192.8 C603.5,193.78 606.83,194.7 610,195.5 C613.17,196.3 615.33,196.83 620,197.6 C624.67,198.37 635,199.68 638,200.1" stroke="#f2585e" stroke-width="1.5" fill="none" stroke-linejoin="round" stroke-linecap="round"/>
<line x1="549.4" y1="121" x2="549.4" y2="178" stroke="#333" stroke-width="1.1" stroke-dasharray="1 4.5" stroke-linecap="butt"/>
<rect x="405.3" y="15" width="18.1" height="8" rx="1.5" fill="url(#g8)" stroke="#9dc88a" stroke-width="1.4"/>
<rect x="405.3" y="26.1" width="18.1" height="8" rx="1.5" fill="url(#g9)" stroke="#f08a80" stroke-width="1.4"/>
<rect x="405.3" y="36.9" width="18.1" height="8" rx="1.5" fill="url(#g10)" stroke="#3aa5cc" stroke-width="1.4"/>
<text x="425.1" y="22.6" font-size="9.2" font-weight="bold" text-anchor="start" fill="#000">Co (0)</text>
<text x="425.1" y="33.2" font-size="9.2" font-weight="bold" text-anchor="start" fill="#000">Co (+2)</text>
<text x="425.1" y="43.9" font-size="9.2" font-weight="bold" text-anchor="start" fill="#000">Co (+3)</text>
<text x="607.9" y="20" font-size="10.4" font-weight="bold" text-anchor="start" fill="#000">Co 2p</text>
<text x="559.8" y="33.9" font-size="10.3" font-weight="bold" text-anchor="start" fill="#000">Co 2p<tspan font-size="6.8" dy="2.68">3/2</tspan></text>
<text x="460" y="88.9" font-size="9.3" font-weight="bold" text-anchor="start" fill="#f3c99b">satellite peak</text>
<line x1="482" y1="64.2" x2="490.2" y2="79.5" stroke="#f0b56a" stroke-width="1.1" stroke-linecap="butt"/>
<path d="M492,83 L487.4,78.6 L491.6,77.4 Z" stroke="none" stroke-width="1" fill="#f0b56a" stroke-linejoin="round" stroke-linecap="round"/>
<text x="408.4" y="104.8" font-size="10" font-weight="bold" text-anchor="start" fill="#000">CoFe/CoFe<tspan font-size="6.6" dy="2.6">2</tspan><tspan dy="-2.6">O</tspan><tspan font-size="6.6" dy="2.6">4</tspan><tspan dy="-2.6">@NC</tspan></text>
<text x="408.3" y="194.7" font-size="9.8" font-weight="bold" text-anchor="start" fill="#000">CoFe<tspan font-size="6.47" dy="2.55">2</tspan><tspan dy="-2.55">O</tspan><tspan font-size="6.47" dy="2.55">4</tspan></text>
<rect x="402.5" y="7.2" width="235.7" height="196.6" stroke="#000" stroke-width="1.8" fill="none"/>
<line x1="402.5" y1="111.8" x2="638.2" y2="111.8" stroke="#000" stroke-width="1.8" stroke-linecap="butt"/>
<line x1="402.5" y1="203.8" x2="402.5" y2="200.8" stroke="#000" stroke-width="1.4" stroke-linecap="butt"/>
<text x="402.5" y="214.7" font-size="10.5" font-weight="bold" text-anchor="middle" fill="#000">795</text>
<line x1="456.25" y1="203.8" x2="456.25" y2="200.8" stroke="#000" stroke-width="1.4" stroke-linecap="butt"/>
<text x="456.25" y="214.7" font-size="10.5" font-weight="bold" text-anchor="middle" fill="#000">790</text>
<line x1="510" y1="203.8" x2="510" y2="200.8" stroke="#000" stroke-width="1.4" stroke-linecap="butt"/>
<text x="510" y="214.7" font-size="10.5" font-weight="bold" text-anchor="middle" fill="#000">785</text>
<line x1="563.75" y1="203.8" x2="563.75" y2="200.8" stroke="#000" stroke-width="1.4" stroke-linecap="butt"/>
<text x="563.75" y="214.7" font-size="10.5" font-weight="bold" text-anchor="middle" fill="#000">780</text>
<line x1="617.5" y1="203.8" x2="617.5" y2="200.8" stroke="#000" stroke-width="1.4" stroke-linecap="butt"/>
<text x="617.5" y="214.7" font-size="10.5" font-weight="bold" text-anchor="middle" fill="#000">775</text>
<line x1="429.38" y1="203.8" x2="429.38" y2="202" stroke="#000" stroke-width="1.2" stroke-linecap="butt"/>
<line x1="483.12" y1="203.8" x2="483.12" y2="202" stroke="#000" stroke-width="1.2" stroke-linecap="butt"/>
<line x1="536.88" y1="203.8" x2="536.88" y2="202" stroke="#000" stroke-width="1.2" stroke-linecap="butt"/>
<line x1="590.62" y1="203.8" x2="590.62" y2="202" stroke="#000" stroke-width="1.2" stroke-linecap="butt"/>
<text x="520.1" y="227.5" font-size="10.6" font-weight="bold" text-anchor="middle" fill="#000">Binding Energy (eV)</text>
<text x="395.5" y="110.3" font-size="10" font-weight="bold" text-anchor="middle" fill="#000" transform="rotate(-90 395.5 110.3)">Intensity (a.u.)</text>
<text x="343" y="26.7" font-size="24.7" font-weight="normal" text-anchor="start" fill="#000" transform="translate(343 0) scale(0.88 1) translate(-343 0)">(b)</text>
<path d="M759,50.7 L760,50.76 L761,50.81 L762,50.87 L763,50.93 L764,50.99 L765,51.05 L766,51.12 L767,51.18 L768,51.25 L769,51.32 L770,51.39 L771,51.47 L772,51.54 L773,51.62 L774,51.7 L775,51.78 L776,51.86 L777,51.95 L778,52.03 L779,52.12 L780,52.21 L781,52.3 L782,52.39 L783,52.48 L784,52.57 L785,52.66 L786,52.75 L787,52.85 L788,52.94 L789,53.03 L790,53.11 L791,53.19 L792,53.26 L793,53.32 L794,53.37 L795,53.4 L796,53.41 L797,53.39 L798,53.34 L799,53.24 L800,53.09 L801,52.88 L802,52.6 L803,52.24 L804,51.79 L805,51.25 L806,50.62 L807,49.89 L808,49.08 L809,48.18 L810,47.22 L811,46.22 L812,45.2 L813,44.2 L814,43.24 L815,42.38 L816,41.66 L817,41.13 L818,40.83 L819,40.79 L820,41 L821,41.41 L822,41.99 L823,42.74 L824,43.62 L825,44.62 L826,45.7 L827,46.84 L828,48.01 L829,49.2 L830,50.37 L831,51.52 L832,52.64 L833,53.7 L834,54.71 L835,55.66 L836,56.54 L837,57.35 L838,58.09 L839,58.77 L840,59.39 L841,59.96 L842,60.46 L843,60.92 L844,61.34 L845,61.72 L846,62.06 L847,62.38 L848,62.67 L849,62.94 L850,63.19 L851,63.42 L852,63.62 L853,63.79 L854,63.96 L855,64.11 L856,64.25 L857,64.39 L858,64.52 L859,64.66 L860,64.81 L861,64.96 L862,65.13 L863,65.32 L864,65.52 L865,65.74 L866,65.99 L867,66.26 L868,66.53 L869,66.8 L870,67.08 L871,67.36 L872,67.65 L873,67.95 L874,68.25 L875,68.55 L876,68.86 L877,69.17 L878,69.49 L879,69.81 L880,70.13 L881,70.46 L882,70.79 L883,71.13 L884,71.47 L885,71.81 L886,72.16 L887,72.51 L888,72.86 L889,73.21 L890,73.57 L891,73.93 L891,74.08 L890,73.72 L889,73.37 L888,73.02 L887,72.67 L886,72.32 L885,71.98 L884,71.65 L883,71.31 L882,70.98 L881,70.66 L880,70.33 L879,70.01 L878,69.7 L877,69.39 L876,69.09 L875,68.79 L874,68.49 L873,68.2 L872,67.92 L871,67.64 L870,67.36 L869,67.09 L868,66.83 L867,66.58 L866,66.32 L865,66.09 L864,65.88 L863,65.69 L862,65.52 L861,65.37 L860,65.24 L859,65.12 L858,65 L857,64.89 L856,64.78 L855,64.67 L854,64.56 L853,64.45 L852,64.32 L851,64.18 L850,64.03 L849,63.87 L848,63.7 L847,63.53 L846,63.36 L845,63.19 L844,63.02 L843,62.85 L842,62.67 L841,62.5 L840,62.32 L839,62.14 L838,61.97 L837,61.79 L836,61.61 L835,61.43 L834,61.25 L833,61.07 L832,60.89 L831,60.71 L830,60.53 L829,60.35 L828,60.17 L827,59.99 L826,59.81 L825,59.63 L824,59.46 L823,59.28 L822,59.1 L821,58.93 L820,58.75 L819,58.58 L818,58.4 L817,58.22 L816,58.03 L815,57.85 L814,57.67 L813,57.48 L812,57.3 L811,57.11 L810,56.93 L809,56.75 L808,56.56 L807,56.38 L806,56.2 L805,56.02 L804,55.85 L803,55.67 L802,55.5 L801,55.33 L800,55.17 L799,55 L798,54.84 L797,54.69 L796,54.53 L795,54.38 L794,54.24 L793,54.1 L792,53.96 L791,53.83 L790,53.7 L789,53.57 L788,53.45 L787,53.32 L786,53.2 L785,53.08 L784,52.97 L783,52.86 L782,52.75 L781,52.64 L780,52.53 L779,52.43 L778,52.33 L777,52.23 L776,52.13 L775,52.04 L774,51.95 L773,51.86 L772,51.77 L771,51.69 L770,51.61 L769,51.53 L768,51.45 L767,51.37 L766,51.3 L765,51.23 L764,51.16 L763,51.09 L762,51.03 L761,50.97 L760,50.9 L759,50.85 Z" stroke="none" stroke-width="1" fill="url(#g11)" stroke-linejoin="round" stroke-linecap="round" fill-opacity="0.9"/>
<path d="M759,50.7 L760,50.76 L761,50.81 L762,50.87 L763,50.93 L764,50.99 L765,51.05 L766,51.12 L767,51.18 L768,51.25 L769,51.32 L770,51.39 L771,51.47 L772,51.54 L773,51.62 L774,51.7 L775,51.78 L776,51.86 L777,51.95 L778,52.03 L779,52.12 L780,52.21 L781,52.3 L782,52.39 L783,52.48 L784,52.57 L785,52.66 L786,52.75 L787,52.85 L788,52.94 L789,53.03 L790,53.11 L791,53.19 L792,53.26 L793,53.32 L794,53.37 L795,53.4 L796,53.41 L797,53.39 L798,53.34 L799,53.24 L800,53.09 L801,52.88 L802,52.6 L803,52.24 L804,51.79 L805,51.25 L806,50.62 L807,49.89 L808,49.08 L809,48.18 L810,47.22 L811,46.22 L812,45.2 L813,44.2 L814,43.24 L815,42.38 L816,41.66 L817,41.13 L818,40.83 L819,40.79 L820,41 L821,41.41 L822,41.99 L823,42.74 L824,43.62 L825,44.62 L826,45.7 L827,46.84 L828,48.01 L829,49.2 L830,50.37 L831,51.52 L832,52.64 L833,53.7 L834,54.71 L835,55.66 L836,56.54 L837,57.35 L838,58.09 L839,58.77 L840,59.39 L841,59.96 L842,60.46 L843,60.92 L844,61.34 L845,61.72 L846,62.06 L847,62.38 L848,62.67 L849,62.94 L850,63.19 L851,63.42 L852,63.62 L853,63.79 L854,63.96 L855,64.11 L856,64.25 L857,64.39 L858,64.52 L859,64.66 L860,64.81 L861,64.96 L862,65.13 L863,65.32 L864,65.52 L865,65.74 L866,65.99 L867,66.26 L868,66.53 L869,66.8 L870,67.08 L871,67.36 L872,67.65 L873,67.95 L874,68.25 L875,68.55 L876,68.86 L877,69.17 L878,69.49 L879,69.81 L880,70.13 L881,70.46 L882,70.79 L883,71.13 L884,71.47 L885,71.81 L886,72.16 L887,72.51 L888,72.86 L889,73.21 L890,73.57 L891,73.93" stroke="#2ea3c9" stroke-width="1.6" fill="none" stroke-linejoin="round" stroke-linecap="round"/>
<path d="M818,58.29 L819,58.44 L820,58.58 L821,58.71 L822,58.8 L823,58.87 L824,58.89 L825,58.85 L826,58.74 L827,58.54 L828,58.25 L829,57.85 L830,57.36 L831,56.78 L832,56.14 L833,55.47 L834,54.82 L835,54.24 L836,53.8 L837,53.53 L838,53.49 L839,53.69 L840,54.14 L841,54.8 L842,55.63 L843,56.58 L844,57.59 L845,58.61 L846,59.6 L847,60.51 L848,61.33 L849,62.05 L850,62.67 L851,63.17 L852,63.59 L853,63.91 L854,64.18 L855,64.39 L856,64.57 L857,64.73 L858,64.87 L859,65.01 L859,65.12 L858,65 L857,64.89 L856,64.78 L855,64.67 L854,64.56 L853,64.45 L852,64.32 L851,64.18 L850,64.03 L849,63.87 L848,63.7 L847,63.53 L846,63.36 L845,63.19 L844,63.02 L843,62.85 L842,62.67 L841,62.5 L840,62.32 L839,62.14 L838,61.97 L837,61.79 L836,61.61 L835,61.43 L834,61.25 L833,61.07 L832,60.89 L831,60.71 L830,60.53 L829,60.35 L828,60.17 L827,59.99 L826,59.81 L825,59.63 L824,59.46 L823,59.28 L822,59.1 L821,58.93 L820,58.75 L819,58.58 L818,58.4 Z" stroke="none" stroke-width="1" fill="url(#g12)" stroke-linejoin="round" stroke-linecap="round" fill-opacity="0.85"/>
<path d="M818,58.29 L819,58.44 L820,58.58 L821,58.71 L822,58.8 L823,58.87 L824,58.89 L825,58.85 L826,58.74 L827,58.54 L828,58.25 L829,57.85 L830,57.36 L831,56.78 L832,56.14 L833,55.47 L834,54.82 L835,54.24 L836,53.8 L837,53.53 L838,53.49 L839,53.69 L840,54.14 L841,54.8 L842,55.63 L843,56.58 L844,57.59 L845,58.61 L846,59.6 L847,60.51 L848,61.33 L849,62.05 L850,62.67 L851,63.17 L852,63.59 L853,63.91 L854,64.18 L855,64.39 L856,64.57 L857,64.73 L858,64.87 L859,65.01" stroke="#f0b870" stroke-width="1.6" fill="none" stroke-linejoin="round" stroke-linecap="round"/>
<path d="M833,60.95 L834,61.12 L835,61.27 L836,61.41 L837,61.53 L838,61.6 L839,61.61 L840,61.52 L841,61.29 L842,60.87 L843,60.22 L844,59.31 L845,58.13 L846,56.7 L847,55.13 L848,53.53 L849,52.08 L850,50.96 L851,50.35 L852,50.35 L853,51 L854,52.21 L855,53.83 L856,55.67 L857,57.54 L858,59.32 L859,60.89 L860,62.21 L861,63.28 L862,64.11 L863,64.75 L864,65.25 L865,65.67 L866,66.03 L867,66.36 L868,66.66 L869,66.95 L870,67.24 L870,67.36 L869,67.09 L868,66.83 L867,66.58 L866,66.32 L865,66.09 L864,65.88 L863,65.69 L862,65.52 L861,65.37 L860,65.24 L859,65.12 L858,65 L857,64.89 L856,64.78 L855,64.67 L854,64.56 L853,64.45 L852,64.32 L851,64.18 L850,64.03 L849,63.87 L848,63.7 L847,63.53 L846,63.36 L845,63.19 L844,63.02 L843,62.85 L842,62.67 L841,62.5 L840,62.32 L839,62.14 L838,61.97 L837,61.79 L836,61.61 L835,61.43 L834,61.25 L833,61.07 Z" stroke="none" stroke-width="1" fill="url(#g13)" stroke-linejoin="round" stroke-linecap="round" fill-opacity="0.85"/>
<path d="M833,60.95 L834,61.12 L835,61.27 L836,61.41 L837,61.53 L838,61.6 L839,61.61 L840,61.52 L841,61.29 L842,60.87 L843,60.22 L844,59.31 L845,58.13 L846,56.7 L847,55.13 L848,53.53 L849,52.08 L850,50.96 L851,50.35 L852,50.35 L853,51 L854,52.21 L855,53.83 L856,55.67 L857,57.54 L858,59.32 L859,60.89 L860,62.21 L861,63.28 L862,64.11 L863,64.75 L864,65.25 L865,65.67 L866,66.03 L867,66.36 L868,66.66 L869,66.95 L870,67.24" stroke="#ee8676" stroke-width="1.6" fill="none" stroke-linejoin="round" stroke-linecap="round"/>
<path d="M846,63.23 L847,63.39 L848,63.53 L849,63.67 L850,63.8 L851,63.9 L852,63.98 L853,64.03 L854,64.04 L855,64.03 L856,63.98 L857,63.9 L858,63.78 L859,63.62 L860,63.41 L861,63.17 L862,62.88 L863,62.56 L864,62.2 L865,61.81 L866,61.41 L867,60.99 L868,60.55 L869,60.11 L870,59.69 L871,59.31 L872,58.99 L873,58.74 L874,58.59 L875,58.56 L876,58.66 L877,58.89 L878,59.27 L879,59.79 L880,60.43 L881,61.19 L882,62.05 L883,62.98 L884,63.97 L885,65 L886,66.04 L887,67.08 L888,68.1 L889,69.09 L890,70.04 L891,70.94 L892,71.79 L893,72.6 L894,73.37 L895,74.1 L896,74.79 L897,75.45 L898,76.09 L899,76.71 L900,77.31 L901,77.9 L902,78.48 L903,79.06 L904,79.63 L905,80.21 L906,80.81 L907,81.43 L908,82.08 L908,82.21 L907,81.58 L906,80.98 L905,80.41 L904,79.87 L903,79.34 L902,78.82 L901,78.32 L900,77.83 L899,77.35 L898,76.89 L897,76.44 L896,76.01 L895,75.59 L894,75.19 L893,74.81 L892,74.44 L891,74.08 L890,73.72 L889,73.37 L888,73.02 L887,72.67 L886,72.32 L885,71.98 L884,71.65 L883,71.31 L882,70.98 L881,70.66 L880,70.33 L879,70.01 L878,69.7 L877,69.39 L876,69.09 L875,68.79 L874,68.49 L873,68.2 L872,67.92 L871,67.64 L870,67.36 L869,67.09 L868,66.83 L867,66.58 L866,66.32 L865,66.09 L864,65.88 L863,65.69 L862,65.52 L861,65.37 L860,65.24 L859,65.12 L858,65 L857,64.89 L856,64.78 L855,64.67 L854,64.56 L853,64.45 L852,64.32 L851,64.18 L850,64.03 L849,63.87 L848,63.7 L847,63.53 L846,63.36 Z" stroke="none" stroke-width="1" fill="url(#g14)" stroke-linejoin="round" stroke-linecap="round" fill-opacity="0.9"/>
<path d="M846,63.23 L847,63.39 L848,63.53 L849,63.67 L850,63.8 L851,63.9 L852,63.98 L853,64.03 L854,64.04 L855,64.03 L856,63.98 L857,63.9 L858,63.78 L859,63.62 L860,63.41 L861,63.17 L862,62.88 L863,62.56 L864,62.2 L865,61.81 L866,61.41 L867,60.99 L868,60.55 L869,60.11 L870,59.69 L871,59.31 L872,58.99 L873,58.74 L874,58.59 L875,58.56 L876,58.66 L877,58.89 L878,59.27 L879,59.79 L880,60.43 L881,61.19 L882,62.05 L883,62.98 L884,63.97 L885,65 L886,66.04 L887,67.08 L888,68.1 L889,69.09 L890,70.04 L891,70.94 L892,71.79 L893,72.6 L894,73.37 L895,74.1 L896,74.79 L897,75.45 L898,76.09 L899,76.71 L900,77.31 L901,77.9 L902,78.48 L903,79.06 L904,79.63 L905,80.21 L906,80.81 L907,81.43 L908,82.08" stroke="#2ea3c9" stroke-width="1.6" fill="none" stroke-linejoin="round" stroke-linecap="round"/>
<path d="M857,64.75 L858,64.86 L859,64.96 L860,65.08 L861,65.21 L862,65.35 L863,65.5 L864,65.68 L865,65.88 L866,66.1 L867,66.34 L868,66.58 L869,66.82 L870,67.07 L871,67.33 L872,67.58 L873,67.84 L874,68.1 L875,68.36 L876,68.61 L877,68.86 L878,69.1 L879,69.32 L880,69.51 L881,69.65 L882,69.71 L883,69.66 L884,69.46 L885,69.05 L886,68.4 L887,67.43 L888,66.13 L889,64.46 L890,62.45 L891,60.15 L892,57.67 L893,55.16 L894,52.84 L895,50.92 L896,49.65 L897,49.22 L898,49.67 L899,50.63 L900,52.02 L901,53.78 L902,55.84 L903,58.12 L904,60.56 L905,63.07 L906,65.6 L907,68.12 L908,70.56 L909,72.9 L910,75.09 L911,77.13 L912,78.99 L913,80.69 L914,82.21 L915,83.58 L916,84.79 L917,85.87 L918,86.81 L919,87.66 L920,88.42 L921,89.12 L922,89.77 L923,90.37 L924,90.94 L925,91.47 L926,91.98 L927,92.46 L928,92.92 L929,93.37 L930,93.8 L931,94.21 L932,94.6 L933,94.99 L934,95.36 L935,95.72 L936,96.06 L937,96.39 L938,96.71 L939,97.01 L940,97.29 L941,97.56 L942,97.8 L943,98.03 L944,98.24 L945,98.43 L946,98.62 L947,98.79 L948,98.95 L949,99.1 L950,99.24 L951,99.37 L952,99.5 L953,99.62 L954,99.74 L955,99.86 L955,100 L954,99.89 L953,99.78 L952,99.66 L951,99.54 L950,99.41 L949,99.28 L948,99.13 L947,98.98 L946,98.82 L945,98.64 L944,98.46 L943,98.26 L942,98.04 L941,97.8 L940,97.55 L939,97.28 L938,96.99 L937,96.69 L936,96.38 L935,96.05 L934,95.71 L933,95.35 L932,94.99 L931,94.61 L930,94.23 L929,93.83 L928,93.42 L927,93 L926,92.56 L925,92.11 L924,91.65 L923,91.18 L922,90.69 L921,90.19 L920,89.67 L919,89.15 L918,88.61 L917,88.05 L916,87.46 L915,86.84 L914,86.19 L913,85.53 L912,84.86 L911,84.19 L910,83.52 L909,82.86 L908,82.21 L907,81.58 L906,80.98 L905,80.41 L904,79.87 L903,79.34 L902,78.82 L901,78.32 L900,77.83 L899,77.35 L898,76.89 L897,76.44 L896,76.01 L895,75.59 L894,75.19 L893,74.81 L892,74.44 L891,74.08 L890,73.72 L889,73.37 L888,73.02 L887,72.67 L886,72.32 L885,71.98 L884,71.65 L883,71.31 L882,70.98 L881,70.66 L880,70.33 L879,70.01 L878,69.7 L877,69.39 L876,69.09 L875,68.79 L874,68.49 L873,68.2 L872,67.92 L871,67.64 L870,67.36 L869,67.09 L868,66.83 L867,66.58 L866,66.32 L865,66.09 L864,65.88 L863,65.69 L862,65.52 L861,65.37 L860,65.24 L859,65.12 L858,65 L857,64.89 Z" stroke="none" stroke-width="1" fill="url(#g15)" stroke-linejoin="round" stroke-linecap="round" fill-opacity="0.85"/>
<path d="M857,64.75 L858,64.86 L859,64.96 L860,65.08 L861,65.21 L862,65.35 L863,65.5 L864,65.68 L865,65.88 L866,66.1 L867,66.34 L868,66.58 L869,66.82 L870,67.07 L871,67.33 L872,67.58 L873,67.84 L874,68.1 L875,68.36 L876,68.61 L877,68.86 L878,69.1 L879,69.32 L880,69.51 L881,69.65 L882,69.71 L883,69.66 L884,69.46 L885,69.05 L886,68.4 L887,67.43 L888,66.13 L889,64.46 L890,62.45 L891,60.15 L892,57.67 L893,55.16 L894,52.84 L895,50.92 L896,49.65 L897,49.22 L898,49.67 L899,50.63 L900,52.02 L901,53.78 L902,55.84 L903,58.12 L904,60.56 L905,63.07 L906,65.6 L907,68.12 L908,70.56 L909,72.9 L910,75.09 L911,77.13 L912,78.99 L913,80.69 L914,82.21 L915,83.58 L916,84.79 L917,85.87 L918,86.81 L919,87.66 L920,88.42 L921,89.12 L922,89.77 L923,90.37 L924,90.94 L925,91.47 L926,91.98 L927,92.46 L928,92.92 L929,93.37 L930,93.8 L931,94.21 L932,94.6 L933,94.99 L934,95.36 L935,95.72 L936,96.06 L937,96.39 L938,96.71 L939,97.01 L940,97.29 L941,97.56 L942,97.8 L943,98.03 L944,98.24 L945,98.43 L946,98.62 L947,98.79 L948,98.95 L949,99.1 L950,99.24 L951,99.37 L952,99.5 L953,99.62 L954,99.74 L955,99.86" stroke="#f0b870" stroke-width="1.6" fill="none" stroke-linejoin="round" stroke-linecap="round"/>
<path d="M856,64.64 L857,64.74 L858,64.85 L859,64.96 L860,65.08 L861,65.21 L862,65.35 L863,65.51 L864,65.69 L865,65.89 L866,66.12 L867,66.36 L868,66.61 L869,66.86 L870,67.12 L871,67.38 L872,67.65 L873,67.92 L874,68.19 L875,68.47 L876,68.76 L877,69.04 L878,69.33 L879,69.63 L880,69.92 L881,70.22 L882,70.52 L883,70.82 L884,71.12 L885,71.42 L886,71.72 L887,72.02 L888,72.32 L889,72.62 L890,72.91 L891,73.19 L892,73.46 L893,73.72 L894,73.97 L895,74.19 L896,74.36 L897,74.45 L898,74.42 L899,74.21 L900,73.75 L901,72.96 L902,71.76 L903,70.07 L904,67.84 L905,65.04 L906,61.73 L907,57.99 L908,54.01 L909,50.02 L910,46.35 L911,43.38 L912,41.51 L913,41.07 L914,42.08 L915,44.25 L916,47.39 L917,51.26 L918,55.59 L919,60.14 L920,64.69 L921,69.07 L922,73.16 L923,76.85 L924,80.1 L925,82.91 L926,85.29 L927,87.27 L928,88.9 L929,90.25 L930,91.35 L931,92.26 L932,93.03 L933,93.69 L934,94.26 L935,94.77 L936,95.23 L937,95.66 L938,96.04 L939,96.4 L940,96.74 L941,97.05 L942,97.33 L943,97.59 L944,97.84 L945,98.06 L946,98.26 L947,98.46 L948,98.64 L949,98.81 L950,98.97 L951,99.12 L952,99.26 L953,99.4 L954,99.53 L955,99.65 L956,99.78 L957,99.9 L958,100.02 L959,100.14 L960,100.26 L961,100.38 L962,100.51 L963,100.64 L963,100.89 L962,100.77 L961,100.65 L960,100.54 L959,100.43 L958,100.32 L957,100.22 L956,100.11 L955,100 L954,99.89 L953,99.78 L952,99.66 L951,99.54 L950,99.41 L949,99.28 L948,99.13 L947,98.98 L946,98.82 L945,98.64 L944,98.46 L943,98.26 L942,98.04 L941,97.8 L940,97.55 L939,97.28 L938,96.99 L937,96.69 L936,96.38 L935,96.05 L934,95.71 L933,95.35 L932,94.99 L931,94.61 L930,94.23 L929,93.83 L928,93.42 L927,93 L926,92.56 L925,92.11 L924,91.65 L923,91.18 L922,90.69 L921,90.19 L920,89.67 L919,89.15 L918,88.61 L917,88.05 L916,87.46 L915,86.84 L914,86.19 L913,85.53 L912,84.86 L911,84.19 L910,83.52 L909,82.86 L908,82.21 L907,81.58 L906,80.98 L905,80.41 L904,79.87 L903,79.34 L902,78.82 L901,78.32 L900,77.83 L899,77.35 L898,76.89 L897,76.44 L896,76.01 L895,75.59 L894,75.19 L893,74.81 L892,74.44 L891,74.08 L890,73.72 L889,73.37 L888,73.02 L887,72.67 L886,72.32 L885,71.98 L884,71.65 L883,71.31 L882,70.98 L881,70.66 L880,70.33 L879,70.01 L878,69.7 L877,69.39 L876,69.09 L875,68.79 L874,68.49 L873,68.2 L872,67.92 L871,67.64 L870,67.36 L869,67.09 L868,66.83 L867,66.58 L866,66.32 L865,66.09 L864,65.88 L863,65.69 L862,65.52 L861,65.37 L860,65.24 L859,65.12 L858,65 L857,64.89 L856,64.78 Z" stroke="none" stroke-width="1" fill="url(#g16)" stroke-linejoin="round" stroke-linecap="round" fill-opacity="0.8"/>
<path d="M856,64.64 L857,64.74 L858,64.85 L859,64.96 L860,65.08 L861,65.21 L862,65.35 L863,65.51 L864,65.69 L865,65.89 L866,66.12 L867,66.36 L868,66.61 L869,66.86 L870,67.12 L871,67.38 L872,67.65 L873,67.92 L874,68.19 L875,68.47 L876,68.76 L877,69.04 L878,69.33 L879,69.63 L880,69.92 L881,70.22 L882,70.52 L883,70.82 L884,71.12 L885,71.42 L886,71.72 L887,72.02 L888,72.32 L889,72.62 L890,72.91 L891,73.19 L892,73.46 L893,73.72 L894,73.97 L895,74.19 L896,74.36 L897,74.45 L898,74.42 L899,74.21 L900,73.75 L901,72.96 L902,71.76 L903,70.07 L904,67.84 L905,65.04 L906,61.73 L907,57.99 L908,54.01 L909,50.02 L910,46.35 L911,43.38 L912,41.51 L913,41.07 L914,42.08 L915,44.25 L916,47.39 L917,51.26 L918,55.59 L919,60.14 L920,64.69 L921,69.07 L922,73.16 L923,76.85 L924,80.1 L925,82.91 L926,85.29 L927,87.27 L928,88.9 L929,90.25 L930,91.35 L931,92.26 L932,93.03 L933,93.69 L934,94.26 L935,94.77 L936,95.23 L937,95.66 L938,96.04 L939,96.4 L940,96.74 L941,97.05 L942,97.33 L943,97.59 L944,97.84 L945,98.06 L946,98.26 L947,98.46 L948,98.64 L949,98.81 L950,98.97 L951,99.12 L952,99.26 L953,99.4 L954,99.53 L955,99.65 L956,99.78 L957,99.9 L958,100.02 L959,100.14 L960,100.26 L961,100.38 L962,100.51 L963,100.64" stroke="#ee8676" stroke-width="1.6" fill="none" stroke-linejoin="round" stroke-linecap="round"/>
<path d="M884,71.5 L885,71.84 L886,72.17 L887,72.51 L888,72.85 L889,73.19 L890,73.54 L891,73.89 L892,74.24 L893,74.6 L894,74.97 L895,75.36 L896,75.77 L897,76.19 L898,76.62 L899,77.07 L900,77.53 L901,78 L902,78.49 L903,78.98 L904,79.49 L905,80 L906,80.54 L907,81.12 L908,81.71 L909,82.32 L910,82.94 L911,83.56 L912,84.18 L913,84.79 L914,85.37 L915,85.94 L916,86.46 L917,86.95 L918,87.38 L919,87.76 L920,88.09 L921,88.34 L922,88.49 L923,88.46 L924,88.17 L925,87.49 L926,86.27 L927,84.33 L928,81.52 L929,77.78 L930,73.18 L931,68.01 L932,62.78 L933,58.34 L934,55.73 L935,55.67 L936,57.36 L937,60.33 L938,64.17 L939,68.48 L940,72.9 L941,77.17 L942,81.09 L943,84.55 L944,87.52 L945,89.97 L946,91.96 L947,93.54 L948,94.77 L949,95.72 L950,96.46 L951,97.05 L952,97.51 L953,97.89 L954,98.21 L955,98.48 L956,98.73 L957,98.95 L958,99.16 L959,99.35 L960,99.54 L961,99.72 L962,99.9 L963,100.08 L963,100.89 L962,100.77 L961,100.65 L960,100.54 L959,100.43 L958,100.32 L957,100.22 L956,100.11 L955,100 L954,99.89 L953,99.78 L952,99.66 L951,99.54 L950,99.41 L949,99.28 L948,99.13 L947,98.98 L946,98.82 L945,98.64 L944,98.46 L943,98.26 L942,98.04 L941,97.8 L940,97.55 L939,97.28 L938,96.99 L937,96.69 L936,96.38 L935,96.05 L934,95.71 L933,95.35 L932,94.99 L931,94.61 L930,94.23 L929,93.83 L928,93.42 L927,93 L926,92.56 L925,92.11 L924,91.65 L923,91.18 L922,90.69 L921,90.19 L920,89.67 L919,89.15 L918,88.61 L917,88.05 L916,87.46 L915,86.84 L914,86.19 L913,85.53 L912,84.86 L911,84.19 L910,83.52 L909,82.86 L908,82.21 L907,81.58 L906,80.98 L905,80.41 L904,79.87 L903,79.34 L902,78.82 L901,78.32 L900,77.83 L899,77.35 L898,76.89 L897,76.44 L896,76.01 L895,75.59 L894,75.19 L893,74.81 L892,74.44 L891,74.08 L890,73.72 L889,73.37 L888,73.02 L887,72.67 L886,72.32 L885,71.98 L884,71.65 Z" stroke="none" stroke-width="1" fill="url(#g17)" stroke-linejoin="round" stroke-linecap="round" fill-opacity="0.85"/>
<path d="M884,71.5 L885,71.84 L886,72.17 L887,72.51 L888,72.85 L889,73.19 L890,73.54 L891,73.89 L892,74.24 L893,74.6 L894,74.97 L895,75.36 L896,75.77 L897,76.19 L898,76.62 L899,77.07 L900,77.53 L901,78 L902,78.49 L903,78.98 L904,79.49 L905,80 L906,80.54 L907,81.12 L908,81.71 L909,82.32 L910,82.94 L911,83.56 L912,84.18 L913,84.79 L914,85.37 L915,85.94 L916,86.46 L917,86.95 L918,87.38 L919,87.76 L920,88.09 L921,88.34 L922,88.49 L923,88.46 L924,88.17 L925,87.49 L926,86.27 L927,84.33 L928,81.52 L929,77.78 L930,73.18 L931,68.01 L932,62.78 L933,58.34 L934,55.73 L935,55.67 L936,57.36 L937,60.33 L938,64.17 L939,68.48 L940,72.9 L941,77.17 L942,81.09 L943,84.55 L944,87.52 L945,89.97 L946,91.96 L947,93.54 L948,94.77 L949,95.72 L950,96.46 L951,97.05 L952,97.51 L953,97.89 L954,98.21 L955,98.48 L956,98.73 L957,98.95 L958,99.16 L959,99.35 L960,99.54 L961,99.72 L962,99.9 L963,100.08" stroke="#9a95d8" stroke-width="1.6" fill="none" stroke-linejoin="round" stroke-linecap="round"/>
<path d="M723.5,49.3 C730.35,49.62 753.02,50.4 764.6,51.2 C776.18,52 783.53,52.8 793,54.1 C802.47,55.4 811.93,57.35 821.4,59 C830.87,60.65 842.38,62.78 849.8,64 C857.22,65.22 858.88,64.57 865.9,66.3 C872.92,68.03 885.42,72.07 891.9,74.4 C898.38,76.73 900.48,77.95 904.8,80.3 C909.12,82.65 913.48,86.13 917.8,88.5 C922.12,90.87 926.38,92.85 930.7,94.5 C935.02,96.15 938.17,97.32 943.7,98.4 C949.23,99.48 960.53,100.57 963.9,101" stroke="#2ea3c9" stroke-width="1.6" fill="none" stroke-linejoin="round" stroke-linecap="round"/>
<path d="M723.5,49.2 C729.58,49.27 748.42,49.45 760,49.6 C771.58,49.75 786.33,50.33 793,50.1 C799.67,49.87 797.63,49.08 800,48.2 C802.37,47.32 805.03,46 807.2,44.8 C809.37,43.6 811.12,41.93 813,41 C814.88,40.07 816.67,39.2 818.5,39.2 C820.33,39.2 822.1,40.07 824,41 C825.9,41.93 827.9,44.03 829.9,44.8 C831.9,45.57 833.87,45.52 836,45.6 C838.13,45.68 840.87,45.68 842.7,45.3 C844.53,44.92 845.5,43.78 847,43.3 C848.5,42.82 850.2,42.03 851.7,42.4 C853.2,42.77 854.45,44.07 856,45.5 C857.55,46.93 859.13,49.48 861,51 C862.87,52.52 865.37,54.35 867.2,54.6 C869.03,54.85 870.37,53.08 872,52.5 C873.63,51.92 874.77,51.12 877,51.1 C879.23,51.08 883.23,53.08 885.4,52.4 C887.57,51.72 888.4,49.07 890,47 C891.6,44.93 893.4,41.58 895,40 C896.6,38.42 897.97,37.48 899.6,37.5 C901.23,37.52 903.23,40.52 904.8,40.1 C906.37,39.68 907.6,36.52 909,35 C910.4,33.48 911.87,30.67 913.2,31 C914.53,31.33 915.78,33.83 917,37 C918.22,40.17 919.18,45.92 920.5,50 C921.82,54.08 923.48,60.83 924.9,61.5 C926.32,62.17 927.82,56 929,54 C930.18,52 931.07,50.42 932,49.5 C932.93,48.58 933.68,47.58 934.6,48.5 C935.52,49.42 936.2,50.17 937.5,55 C938.8,59.83 940.98,72.25 942.4,77.5 C943.82,82.75 944.7,84.03 946,86.5 C947.3,88.97 948.53,90.72 950.2,92.3 C951.87,93.88 953.72,94.98 956,96 C958.28,97.02 962.58,98 963.9,98.4" stroke="#f2585e" stroke-width="1.6" fill="none" stroke-linejoin="round" stroke-linecap="round"/>
<line x1="913.2" y1="28.4" x2="913.2" y2="68.6" stroke="#444" stroke-width="1.1" stroke-dasharray="1 4.5" stroke-linecap="butt"/>
<path d="M798,136.23 L799,136.33 L800,136.43 L801,136.51 L802,136.56 L803,136.57 L804,136.5 L805,136.32 L806,135.98 L807,135.43 L808,134.65 L809,133.6 L810,132.29 L811,130.8 L812,129.21 L813,127.68 L814,126.39 L815,125.52 L816,125.23 L817,125.59 L818,126.57 L819,128.04 L820,129.83 L821,131.75 L822,133.63 L823,135.36 L824,136.85 L825,138.07 L826,139.04 L827,139.78 L828,140.34 L829,140.77 L830,141.11 L831,141.39 L832,141.63 L833,141.84 L834,142.04 L835,142.22 L835,142.34 L834,142.17 L833,141.99 L832,141.82 L831,141.64 L830,141.46 L829,141.28 L828,141.1 L827,140.92 L826,140.74 L825,140.56 L824,140.39 L823,140.21 L822,140.03 L821,139.86 L820,139.69 L819,139.52 L818,139.35 L817,139.18 L816,139.02 L815,138.86 L814,138.69 L813,138.53 L812,138.37 L811,138.21 L810,138.05 L809,137.89 L808,137.74 L807,137.58 L806,137.43 L805,137.29 L804,137.14 L803,137 L802,136.86 L801,136.73 L800,136.6 L799,136.47 L798,136.35 Z" stroke="none" stroke-width="1" fill="url(#g18)" stroke-linejoin="round" stroke-linecap="round" fill-opacity="0.9"/>
<path d="M798,136.23 L799,136.33 L800,136.43 L801,136.51 L802,136.56 L803,136.57 L804,136.5 L805,136.32 L806,135.98 L807,135.43 L808,134.65 L809,133.6 L810,132.29 L811,130.8 L812,129.21 L813,127.68 L814,126.39 L815,125.52 L816,125.23 L817,125.59 L818,126.57 L819,128.04 L820,129.83 L821,131.75 L822,133.63 L823,135.36 L824,136.85 L825,138.07 L826,139.04 L827,139.78 L828,140.34 L829,140.77 L830,141.11 L831,141.39 L832,141.63 L833,141.84 L834,142.04 L835,142.22" stroke="#2ea3c9" stroke-width="1.6" fill="none" stroke-linejoin="round" stroke-linecap="round"/>
<path d="M814,138.57 L815,138.71 L816,138.83 L817,138.93 L818,139.01 L819,139.05 L820,139.04 L821,138.97 L822,138.82 L823,138.58 L824,138.24 L825,137.79 L826,137.23 L827,136.59 L828,135.89 L829,135.18 L830,134.49 L831,133.89 L832,133.43 L833,133.18 L834,133.17 L835,133.42 L836,133.92 L837,134.64 L838,135.52 L839,136.52 L840,137.56 L841,138.61 L842,139.61 L843,140.54 L844,141.37 L845,142.1 L846,142.73 L847,143.26 L848,143.72 L849,144.11 L850,144.46 L851,144.77 L852,145.06 L853,145.34 L854,145.59 L855,145.85 L855,145.96 L854,145.73 L853,145.5 L852,145.28 L851,145.06 L850,144.84 L849,144.64 L848,144.45 L847,144.27 L846,144.09 L845,143.92 L844,143.76 L843,143.6 L842,143.44 L841,143.29 L840,143.13 L839,142.98 L838,142.82 L837,142.66 L836,142.5 L835,142.34 L834,142.17 L833,141.99 L832,141.82 L831,141.64 L830,141.46 L829,141.28 L828,141.1 L827,140.92 L826,140.74 L825,140.56 L824,140.39 L823,140.21 L822,140.03 L821,139.86 L820,139.69 L819,139.52 L818,139.35 L817,139.18 L816,139.02 L815,138.86 L814,138.69 Z" stroke="none" stroke-width="1" fill="url(#g19)" stroke-linejoin="round" stroke-linecap="round" fill-opacity="0.85"/>
<path d="M814,138.57 L815,138.71 L816,138.83 L817,138.93 L818,139.01 L819,139.05 L820,139.04 L821,138.97 L822,138.82 L823,138.58 L824,138.24 L825,137.79 L826,137.23 L827,136.59 L828,135.89 L829,135.18 L830,134.49 L831,133.89 L832,133.43 L833,133.18 L834,133.17 L835,133.42 L836,133.92 L837,134.64 L838,135.52 L839,136.52 L840,137.56 L841,138.61 L842,139.61 L843,140.54 L844,141.37 L845,142.1 L846,142.73 L847,143.26 L848,143.72 L849,144.11 L850,144.46 L851,144.77 L852,145.06 L853,145.34 L854,145.59 L855,145.85" stroke="#f0b870" stroke-width="1.6" fill="none" stroke-linejoin="round" stroke-linecap="round"/>
<path d="M831,141.52 L832,141.67 L833,141.81 L834,141.92 L835,142 L836,142.02 L837,141.96 L838,141.79 L839,141.49 L840,141.04 L841,140.41 L842,139.59 L843,138.61 L844,137.52 L845,136.38 L846,135.29 L847,134.38 L848,133.74 L849,133.5 L850,133.7 L851,134.35 L852,135.39 L853,136.7 L854,138.18 L855,139.72 L856,141.21 L857,142.58 L858,143.79 L859,144.83 L860,145.7 L861,146.42 L862,147.02 L863,147.53 L864,147.97 L865,148.37 L866,148.74 L867,149.11 L868,149.47 L868,149.6 L867,149.25 L866,148.93 L865,148.61 L864,148.31 L863,148.01 L862,147.73 L861,147.45 L860,147.19 L859,146.93 L858,146.67 L857,146.43 L856,146.19 L855,145.96 L854,145.73 L853,145.5 L852,145.28 L851,145.06 L850,144.84 L849,144.64 L848,144.45 L847,144.27 L846,144.09 L845,143.92 L844,143.76 L843,143.6 L842,143.44 L841,143.29 L840,143.13 L839,142.98 L838,142.82 L837,142.66 L836,142.5 L835,142.34 L834,142.17 L833,141.99 L832,141.82 L831,141.64 Z" stroke="none" stroke-width="1" fill="url(#g20)" stroke-linejoin="round" stroke-linecap="round" fill-opacity="0.85"/>
<path d="M831,141.52 L832,141.67 L833,141.81 L834,141.92 L835,142 L836,142.02 L837,141.96 L838,141.79 L839,141.49 L840,141.04 L841,140.41 L842,139.59 L843,138.61 L844,137.52 L845,136.38 L846,135.29 L847,134.38 L848,133.74 L849,133.5 L850,133.7 L851,134.35 L852,135.39 L853,136.7 L854,138.18 L855,139.72 L856,141.21 L857,142.58 L858,143.79 L859,144.83 L860,145.7 L861,146.42 L862,147.02 L863,147.53 L864,147.97 L865,148.37 L866,148.74 L867,149.11 L868,149.47" stroke="#ee8676" stroke-width="1.6" fill="none" stroke-linejoin="round" stroke-linecap="round"/>
<path d="M855,145.83 L856,146.04 L857,146.25 L858,146.45 L859,146.61 L860,146.73 L861,146.76 L862,146.66 L863,146.38 L864,145.86 L865,145.07 L866,143.97 L867,142.6 L868,141.05 L869,139.47 L870,138.05 L871,137.03 L872,136.6 L873,136.92 L874,137.98 L875,139.69 L876,141.83 L877,144.18 L878,146.53 L879,148.72 L880,150.66 L881,152.29 L882,153.63 L883,154.73 L884,155.63 L885,156.4 L886,157.07 L887,157.7 L888,158.29 L889,158.88 L890,159.47 L891,160.06 L891,160.17 L890,159.6 L889,159.03 L888,158.48 L887,157.94 L886,157.41 L885,156.89 L884,156.39 L883,155.89 L882,155.41 L881,154.93 L880,154.46 L879,154 L878,153.55 L877,153.12 L876,152.69 L875,152.27 L874,151.86 L873,151.45 L872,151.06 L871,150.68 L870,150.31 L869,149.95 L868,149.6 L867,149.25 L866,148.93 L865,148.61 L864,148.31 L863,148.01 L862,147.73 L861,147.45 L860,147.19 L859,146.93 L858,146.67 L857,146.43 L856,146.19 L855,145.96 Z" stroke="none" stroke-width="1" fill="url(#g21)" stroke-linejoin="round" stroke-linecap="round" fill-opacity="0.9"/>
<path d="M855,145.83 L856,146.04 L857,146.25 L858,146.45 L859,146.61 L860,146.73 L861,146.76 L862,146.66 L863,146.38 L864,145.86 L865,145.07 L866,143.97 L867,142.6 L868,141.05 L869,139.47 L870,138.05 L871,137.03 L872,136.6 L873,136.92 L874,137.98 L875,139.69 L876,141.83 L877,144.18 L878,146.53 L879,148.72 L880,150.66 L881,152.29 L882,153.63 L883,154.73 L884,155.63 L885,156.4 L886,157.07 L887,157.7 L888,158.29 L889,158.88 L890,159.47 L891,160.06" stroke="#2ea3c9" stroke-width="1.6" fill="none" stroke-linejoin="round" stroke-linecap="round"/>
<path d="M845,143.78 L846,143.95 L847,144.11 L848,144.29 L849,144.48 L850,144.67 L851,144.87 L852,145.08 L853,145.3 L854,145.51 L855,145.73 L856,145.96 L857,146.18 L858,146.41 L859,146.65 L860,146.89 L861,147.14 L862,147.4 L863,147.66 L864,147.93 L865,148.21 L866,148.5 L867,148.8 L868,149.1 L869,149.41 L870,149.73 L871,150.04 L872,150.35 L873,150.65 L874,150.93 L875,151.17 L876,151.36 L877,151.46 L878,151.43 L879,151.22 L880,150.78 L881,150.05 L882,148.95 L883,147.45 L884,145.51 L885,143.14 L886,140.38 L887,137.34 L888,134.18 L889,131.09 L890,128.34 L891,126.21 L892,124.97 L893,124.85 L894,125.79 L895,127.56 L896,130.06 L897,133.12 L898,136.59 L899,140.29 L900,144.07 L901,147.78 L902,151.33 L903,154.64 L904,157.68 L905,160.41 L906,162.84 L907,164.98 L908,166.84 L909,168.48 L910,169.92 L911,171.19 L912,172.32 L913,173.35 L914,174.3 L915,175.19 L916,176.01 L917,176.8 L918,177.55 L919,178.26 L920,178.95 L921,179.61 L922,180.26 L923,180.9 L924,181.52 L925,182.13 L926,182.73 L927,183.32 L928,183.9 L929,184.47 L930,185.03 L931,185.58 L932,186.12 L933,186.65 L934,187.16 L935,187.67 L936,188.17 L937,188.65 L938,189.12 L939,189.58 L940,190.02 L941,190.45 L942,190.87 L943,191.28 L944,191.67 L945,192.07 L946,192.45 L947,192.83 L948,193.21 L949,193.59 L950,193.97 L950,194.11 L949,193.74 L948,193.36 L947,192.99 L946,192.62 L945,192.24 L944,191.85 L943,191.46 L942,191.06 L941,190.65 L940,190.23 L939,189.8 L938,189.35 L937,188.89 L936,188.41 L935,187.93 L934,187.43 L933,186.93 L932,186.41 L931,185.89 L930,185.36 L929,184.82 L928,184.27 L927,183.71 L926,183.14 L925,182.56 L924,181.98 L923,181.38 L922,180.78 L921,180.17 L920,179.55 L919,178.92 L918,178.27 L917,177.6 L916,176.91 L915,176.21 L914,175.49 L913,174.77 L912,174.04 L911,173.31 L910,172.58 L909,171.84 L908,171.12 L907,170.39 L906,169.68 L905,168.98 L904,168.3 L903,167.63 L902,166.98 L901,166.33 L900,165.69 L899,165.05 L898,164.42 L897,163.79 L896,163.17 L895,162.55 L894,161.94 L893,161.34 L892,160.75 L891,160.17 L890,159.6 L889,159.03 L888,158.48 L887,157.94 L886,157.41 L885,156.89 L884,156.39 L883,155.89 L882,155.41 L881,154.93 L880,154.46 L879,154 L878,153.55 L877,153.12 L876,152.69 L875,152.27 L874,151.86 L873,151.45 L872,151.06 L871,150.68 L870,150.31 L869,149.95 L868,149.6 L867,149.25 L866,148.93 L865,148.61 L864,148.31 L863,148.01 L862,147.73 L861,147.45 L860,147.19 L859,146.93 L858,146.67 L857,146.43 L856,146.19 L855,145.96 L854,145.73 L853,145.5 L852,145.28 L851,145.06 L850,144.84 L849,144.64 L848,144.45 L847,144.27 L846,144.09 L845,143.92 Z" stroke="none" stroke-width="1" fill="url(#g22)" stroke-linejoin="round" stroke-linecap="round" fill-opacity="0.85"/>
<path d="M845,143.78 L846,143.95 L847,144.11 L848,144.29 L849,144.48 L850,144.67 L851,144.87 L852,145.08 L853,145.3 L854,145.51 L855,145.73 L856,145.96 L857,146.18 L858,146.41 L859,146.65 L860,146.89 L861,147.14 L862,147.4 L863,147.66 L864,147.93 L865,148.21 L866,148.5 L867,148.8 L868,149.1 L869,149.41 L870,149.73 L871,150.04 L872,150.35 L873,150.65 L874,150.93 L875,151.17 L876,151.36 L877,151.46 L878,151.43 L879,151.22 L880,150.78 L881,150.05 L882,148.95 L883,147.45 L884,145.51 L885,143.14 L886,140.38 L887,137.34 L888,134.18 L889,131.09 L890,128.34 L891,126.21 L892,124.97 L893,124.85 L894,125.79 L895,127.56 L896,130.06 L897,133.12 L898,136.59 L899,140.29 L900,144.07 L901,147.78 L902,151.33 L903,154.64 L904,157.68 L905,160.41 L906,162.84 L907,164.98 L908,166.84 L909,168.48 L910,169.92 L911,171.19 L912,172.32 L913,173.35 L914,174.3 L915,175.19 L916,176.01 L917,176.8 L918,177.55 L919,178.26 L920,178.95 L921,179.61 L922,180.26 L923,180.9 L924,181.52 L925,182.13 L926,182.73 L927,183.32 L928,183.9 L929,184.47 L930,185.03 L931,185.58 L932,186.12 L933,186.65 L934,187.16 L935,187.67 L936,188.17 L937,188.65 L938,189.12 L939,189.58 L940,190.02 L941,190.45 L942,190.87 L943,191.28 L944,191.67 L945,192.07 L946,192.45 L947,192.83 L948,193.21 L949,193.59 L950,193.97" stroke="#f0b870" stroke-width="1.6" fill="none" stroke-linejoin="round" stroke-linecap="round"/>
<path d="M826,140.6 L827,140.77 L828,140.95 L829,141.12 L830,141.3 L831,141.47 L832,141.65 L833,141.82 L834,141.99 L835,142.15 L836,142.32 L837,142.47 L838,142.62 L839,142.78 L840,142.92 L841,143.07 L842,143.22 L843,143.37 L844,143.53 L845,143.68 L846,143.85 L847,144.01 L848,144.19 L849,144.37 L850,144.57 L851,144.77 L852,144.98 L853,145.19 L854,145.41 L855,145.63 L856,145.85 L857,146.08 L858,146.31 L859,146.55 L860,146.8 L861,147.05 L862,147.31 L863,147.57 L864,147.85 L865,148.14 L866,148.43 L867,148.74 L868,149.06 L869,149.39 L870,149.72 L871,150.07 L872,150.42 L873,150.78 L874,151.15 L875,151.52 L876,151.9 L877,152.29 L878,152.68 L879,153.08 L880,153.48 L881,153.89 L882,154.3 L883,154.72 L884,155.14 L885,155.55 L886,155.97 L887,156.38 L888,156.79 L889,157.19 L890,157.56 L891,157.9 L892,158.19 L893,158.41 L894,158.53 L895,158.53 L896,158.36 L897,157.99 L898,157.36 L899,156.43 L900,155.16 L901,153.5 L902,151.45 L903,149 L904,146.18 L905,143.06 L906,139.71 L907,136.27 L908,132.91 L909,129.83 L910,127.29 L911,125.55 L912,124.84 L913,125.29 L914,126.36 L915,127.84 L916,129.69 L917,131.88 L918,134.34 L919,137.03 L920,139.87 L921,142.84 L922,145.88 L923,148.94 L924,151.99 L925,155 L926,157.93 L927,160.76 L928,163.48 L929,166.06 L930,168.49 L931,170.78 L932,172.92 L933,174.9 L934,176.74 L935,178.43 L936,179.98 L937,181.4 L938,182.69 L939,183.87 L940,184.93 L941,185.91 L942,186.8 L943,187.61 L944,188.36 L945,189.05 L946,189.7 L947,190.3 L948,190.87 L949,191.42 L950,191.94 L951,192.44 L952,192.93 L953,193.42 L954,193.89 L955,194.36 L956,194.8 L957,195.24 L958,195.66 L959,196.08 L960,196.49 L961,196.9 L962,197.31 L963,197.71 L963,198.88 L962,198.52 L961,198.16 L960,197.81 L959,197.45 L958,197.09 L957,196.73 L956,196.36 L955,195.99 L954,195.62 L953,195.23 L952,194.85 L951,194.48 L950,194.11 L949,193.74 L948,193.36 L947,192.99 L946,192.62 L945,192.24 L944,191.85 L943,191.46 L942,191.06 L941,190.65 L940,190.23 L939,189.8 L938,189.35 L937,188.89 L936,188.41 L935,187.93 L934,187.43 L933,186.93 L932,186.41 L931,185.89 L930,185.36 L929,184.82 L928,184.27 L927,183.71 L926,183.14 L925,182.56 L924,181.98 L923,181.38 L922,180.78 L921,180.17 L920,179.55 L919,178.92 L918,178.27 L917,177.6 L916,176.91 L915,176.21 L914,175.49 L913,174.77 L912,174.04 L911,173.31 L910,172.58 L909,171.84 L908,171.12 L907,170.39 L906,169.68 L905,168.98 L904,168.3 L903,167.63 L902,166.98 L901,166.33 L900,165.69 L899,165.05 L898,164.42 L897,163.79 L896,163.17 L895,162.55 L894,161.94 L893,161.34 L892,160.75 L891,160.17 L890,159.6 L889,159.03 L888,158.48 L887,157.94 L886,157.41 L885,156.89 L884,156.39 L883,155.89 L882,155.41 L881,154.93 L880,154.46 L879,154 L878,153.55 L877,153.12 L876,152.69 L875,152.27 L874,151.86 L873,151.45 L872,151.06 L871,150.68 L870,150.31 L869,149.95 L868,149.6 L867,149.25 L866,148.93 L865,148.61 L864,148.31 L863,148.01 L862,147.73 L861,147.45 L860,147.19 L859,146.93 L858,146.67 L857,146.43 L856,146.19 L855,145.96 L854,145.73 L853,145.5 L852,145.28 L851,145.06 L850,144.84 L849,144.64 L848,144.45 L847,144.27 L846,144.09 L845,143.92 L844,143.76 L843,143.6 L842,143.44 L841,143.29 L840,143.13 L839,142.98 L838,142.82 L837,142.66 L836,142.5 L835,142.34 L834,142.17 L833,141.99 L832,141.82 L831,141.64 L830,141.46 L829,141.28 L828,141.1 L827,140.92 L826,140.74 Z" stroke="none" stroke-width="1" fill="url(#g23)" stroke-linejoin="round" stroke-linecap="round" fill-opacity="0.8"/>
<path d="M826,140.6 L827,140.77 L828,140.95 L829,141.12 L830,141.3 L831,141.47 L832,141.65 L833,141.82 L834,141.99 L835,142.15 L836,142.32 L837,142.47 L838,142.62 L839,142.78 L840,142.92 L841,143.07 L842,143.22 L843,143.37 L844,143.53 L845,143.68 L846,143.85 L847,144.01 L848,144.19 L849,144.37 L850,144.57 L851,144.77 L852,144.98 L853,145.19 L854,145.41 L855,145.63 L856,145.85 L857,146.08 L858,146.31 L859,146.55 L860,146.8 L861,147.05 L862,147.31 L863,147.57 L864,147.85 L865,148.14 L866,148.43 L867,148.74 L868,149.06 L869,149.39 L870,149.72 L871,150.07 L872,150.42 L873,150.78 L874,151.15 L875,151.52 L876,151.9 L877,152.29 L878,152.68 L879,153.08 L880,153.48 L881,153.89 L882,154.3 L883,154.72 L884,155.14 L885,155.55 L886,155.97 L887,156.38 L888,156.79 L889,157.19 L890,157.56 L891,157.9 L892,158.19 L893,158.41 L894,158.53 L895,158.53 L896,158.36 L897,157.99 L898,157.36 L899,156.43 L900,155.16 L901,153.5 L902,151.45 L903,149 L904,146.18 L905,143.06 L906,139.71 L907,136.27 L908,132.91 L909,129.83 L910,127.29 L911,125.55 L912,124.84 L913,125.29 L914,126.36 L915,127.84 L916,129.69 L917,131.88 L918,134.34 L919,137.03 L920,139.87 L921,142.84 L922,145.88 L923,148.94 L924,151.99 L925,155 L926,157.93 L927,160.76 L928,163.48 L929,166.06 L930,168.49 L931,170.78 L932,172.92 L933,174.9 L934,176.74 L935,178.43 L936,179.98 L937,181.4 L938,182.69 L939,183.87 L940,184.93 L941,185.91 L942,186.8 L943,187.61 L944,188.36 L945,189.05 L946,189.7 L947,190.3 L948,190.87 L949,191.42 L950,191.94 L951,192.44 L952,192.93 L953,193.42 L954,193.89 L955,194.36 L956,194.8 L957,195.24 L958,195.66 L959,196.08 L960,196.49 L961,196.9 L962,197.31 L963,197.71" stroke="#ee8676" stroke-width="1.6" fill="none" stroke-linejoin="round" stroke-linecap="round"/>
<path d="M723.5,129.6 C731.48,130.23 758.65,132.23 771.4,133.4 C784.15,134.57 792.38,135.63 800,136.6 C807.62,137.57 811.4,138.27 817.1,139.2 C822.8,140.13 828.52,141.22 834.2,142.2 C839.88,143.18 845.52,143.85 851.2,145.1 C856.88,146.35 862.6,147.7 868.3,149.7 C874,151.7 879.7,154.17 885.4,157.1 C891.1,160.03 896.8,163.6 902.5,167.3 C908.2,171 913.92,175.73 919.6,179.3 C925.28,182.87 930.92,186 936.6,188.7 C942.28,191.4 949.15,193.75 953.7,195.5 C958.25,197.25 962.2,198.58 963.9,199.2" stroke="#2ea3c9" stroke-width="1.6" fill="none" stroke-linejoin="round" stroke-linecap="round"/>
<path d="M723.5,129.4 C732.92,130.2 767.25,133.05 780,134.2 C792.75,135.35 795.67,136.42 800,136.3 C804.33,136.18 804.17,134.8 806,133.5 C807.83,132.2 809.3,129.98 811,128.5 C812.7,127.02 814.53,124.77 816.2,124.6 C817.87,124.43 819.43,126.27 821,127.5 C822.57,128.73 823.4,131.25 825.6,132 C827.8,132.75 831.47,132.08 834.2,132 C836.93,131.92 839.45,131.5 842,131.5 C844.55,131.5 847.17,131 849.5,132 C851.83,133 853.72,135.37 856,137.5 C858.28,139.63 861.2,144.55 863.2,144.8 C865.2,145.05 866.43,140.65 868,139 C869.57,137.35 871.27,135.32 872.6,134.9 C873.93,134.48 874.72,135.82 876,136.5 C877.28,137.18 878.63,140.25 880.3,139 C881.97,137.75 884.38,132.17 886,129 C887.62,125.83 888.53,122.15 890,120 C891.47,117.85 893.3,116.35 894.8,116.1 C896.3,115.85 897.58,117.58 899,118.5 C900.42,119.42 901.8,120.95 903.3,121.6 C904.8,122.25 906.43,122.18 908,122.4 C909.57,122.62 911.2,121.97 912.7,122.9 C914.2,123.83 915.28,124.43 917,128 C918.72,131.57 921.17,139.13 923,144.3 C924.83,149.47 926.3,154.17 928,159 C929.7,163.83 931.37,169.22 933.2,173.3 C935.03,177.38 937,180.65 939,183.5 C941,186.35 942.75,188.53 945.2,190.4 C947.65,192.27 950.58,193.3 953.7,194.7 C956.82,196.1 962.2,198.12 963.9,198.8" stroke="#f2585e" stroke-width="1.6" fill="none" stroke-linejoin="round" stroke-linecap="round"/>
<line x1="912.2" y1="109.3" x2="912.2" y2="149.4" stroke="#444" stroke-width="1.1" stroke-dasharray="1 4.5" stroke-linecap="butt"/>
<rect x="727.2" y="12.3" width="17.5" height="7.8" rx="1.5" fill="url(#g24)" stroke="#a7a3d8" stroke-width="1.4"/>
<rect x="727.2" y="24.3" width="17.5" height="7.6" rx="1.5" fill="url(#g25)" stroke="#f08a80" stroke-width="1.4"/>
<rect x="727.2" y="36.2" width="17.5" height="7.8" rx="1.5" fill="url(#g26)" stroke="#f2c08a" stroke-width="1.4"/>
<text x="747.3" y="19.3" font-size="9" font-weight="bold" text-anchor="start" fill="#000">Fe (0)</text>
<text x="747.3" y="31.1" font-size="9" font-weight="bold" text-anchor="start" fill="#000">Fe (+2)</text>
<text x="747.3" y="42.7" font-size="9" font-weight="bold" text-anchor="start" fill="#000">Fe (+3)</text>
<text x="933.5" y="20" font-size="10.6" font-weight="bold" text-anchor="start" fill="#000">Fe 2p</text>
<text x="891.8" y="24.3" font-size="10.4" font-weight="bold" text-anchor="start" fill="#000">Fe 2p<tspan font-size="6.86" dy="2.7">3/2</tspan></text>
<text x="831.9" y="33.3" font-size="10.4" font-weight="bold" text-anchor="start" fill="#000">Fe 2p<tspan font-size="6.86" dy="2.7">1/2</tspan></text>
<text x="810.5" y="76" font-size="9.6" font-weight="bold" text-anchor="start" fill="#3aa9cd" transform="rotate(12 810.5 76)">satellite peak</text>
<line x1="824.5" y1="54.5" x2="824.5" y2="69.5" stroke="#2ea3c9" stroke-width="1.2" stroke-linecap="butt"/>
<path d="M824.5,73 L822.2,68.5 L826.8,68.5 Z" stroke="none" stroke-width="1" fill="#2ea3c9" stroke-linejoin="round" stroke-linecap="round"/>
<line x1="879.5" y1="63.4" x2="859" y2="74" stroke="#2ea3c9" stroke-width="1.2" stroke-linecap="butt"/>
<path d="M855.6,75.7 L858.5,71.5 L860.6,75.6 Z" stroke="none" stroke-width="1" fill="#2ea3c9" stroke-linejoin="round" stroke-linecap="round"/>
<text x="728.4" y="98.8" font-size="9.8" font-weight="bold" text-anchor="start" fill="#000">CoFe/CoFe<tspan font-size="6.47" dy="2.55">2</tspan><tspan dy="-2.55">O</tspan><tspan font-size="6.47" dy="2.55">4</tspan><tspan dy="-2.55">@NC</tspan></text>
<text x="728.2" y="198.3" font-size="9.6" font-weight="bold" text-anchor="start" fill="#000">CoFe<tspan font-size="6.34" dy="2.5">2</tspan><tspan dy="-2.5">O</tspan><tspan font-size="6.34" dy="2.5">4</tspan></text>
<rect x="723.3" y="7.3" width="240.6" height="196.8" stroke="#000" stroke-width="1.8" fill="none"/>
<line x1="723.3" y1="105.5" x2="963.9" y2="105.5" stroke="#222" stroke-width="1.3" stroke-linecap="butt"/>
<line x1="723.4" y1="204.1" x2="723.4" y2="201.3" stroke="#000" stroke-width="1.3" stroke-linecap="butt"/>
<text x="723.4" y="214.6" font-size="10.3" font-weight="bold" text-anchor="middle" fill="#000">740</text>
<line x1="755.8" y1="204.1" x2="755.8" y2="201.3" stroke="#000" stroke-width="1.3" stroke-linecap="butt"/>
<text x="755.8" y="214.6" font-size="10.3" font-weight="bold" text-anchor="middle" fill="#000">735</text>
<line x1="788.2" y1="204.1" x2="788.2" y2="201.3" stroke="#000" stroke-width="1.3" stroke-linecap="butt"/>
<text x="788.2" y="214.6" font-size="10.3" font-weight="bold" text-anchor="middle" fill="#000">730</text>
<line x1="820.6" y1="204.1" x2="820.6" y2="201.3" stroke="#000" stroke-width="1.3" stroke-linecap="butt"/>
<text x="820.6" y="214.6" font-size="10.3" font-weight="bold" text-anchor="middle" fill="#000">725</text>
<line x1="853" y1="204.1" x2="853" y2="201.3" stroke="#000" stroke-width="1.3" stroke-linecap="butt"/>
<text x="853" y="214.6" font-size="10.3" font-weight="bold" text-anchor="middle" fill="#000">720</text>
<line x1="885.4" y1="204.1" x2="885.4" y2="201.3" stroke="#000" stroke-width="1.3" stroke-linecap="butt"/>
<text x="885.4" y="214.6" font-size="10.3" font-weight="bold" text-anchor="middle" fill="#000">715</text>
<line x1="917.8" y1="204.1" x2="917.8" y2="201.3" stroke="#000" stroke-width="1.3" stroke-linecap="butt"/>
<text x="917.8" y="214.6" font-size="10.3" font-weight="bold" text-anchor="middle" fill="#000">710</text>
<line x1="950.2" y1="204.1" x2="950.2" y2="201.3" stroke="#000" stroke-width="1.3" stroke-linecap="butt"/>
<text x="950.2" y="214.6" font-size="10.3" font-weight="bold" text-anchor="middle" fill="#000">705</text>
<line x1="739.6" y1="204.1" x2="739.6" y2="202.5" stroke="#000" stroke-width="1.1" stroke-linecap="butt"/>
<line x1="772" y1="204.1" x2="772" y2="202.5" stroke="#000" stroke-width="1.1" stroke-linecap="butt"/>
<line x1="804.4" y1="204.1" x2="804.4" y2="202.5" stroke="#000" stroke-width="1.1" stroke-linecap="butt"/>
<line x1="836.8" y1="204.1" x2="836.8" y2="202.5" stroke="#000" stroke-width="1.1" stroke-linecap="butt"/>
<line x1="869.2" y1="204.1" x2="869.2" y2="202.5" stroke="#000" stroke-width="1.1" stroke-linecap="butt"/>
<line x1="901.6" y1="204.1" x2="901.6" y2="202.5" stroke="#000" stroke-width="1.1" stroke-linecap="butt"/>
<line x1="934" y1="204.1" x2="934" y2="202.5" stroke="#000" stroke-width="1.1" stroke-linecap="butt"/>
<text x="843.2" y="227.3" font-size="10.8" font-weight="bold" text-anchor="middle" fill="#000">Binding Energy (eV)</text>
<text x="716.5" y="103.8" font-size="10" font-weight="bold" text-anchor="middle" fill="#000" transform="rotate(-90 716.5 103.8)">Intensity (a.u.)</text>
<text x="662.1" y="26.7" font-size="24.7" font-weight="normal" text-anchor="start" fill="#000" transform="translate(662.1 0) scale(0.88 1) translate(-662.1 0)">(c)</text>
<path d="M82,425 C84.17,425.25 90.33,426.42 95,426.5 C99.67,426.58 105.5,425.67 110,425.5 C114.5,425.33 119.17,426.08 122,425.5 C124.83,424.92 125.75,425.42 127,422 C128.25,418.58 128.75,415.33 129.5,405 C130.25,394.67 130.88,377.5 131.5,360 C132.12,342.5 132.73,314.05 133.2,300 C133.67,285.95 133.95,277.37 134.3,275.7 C134.65,274.03 134.93,282.62 135.3,290 C135.67,297.38 135.97,312.33 136.5,320 C137.03,327.67 137.58,332.33 138.5,336 C139.42,339.67 140.92,340.62 142,342 C143.08,343.38 143.83,345.3 145,344.3 C146.17,343.3 147.67,339.72 149,336 C150.33,332.28 151.65,325.27 153,322 C154.35,318.73 155.6,316.4 157.1,316.4 C158.6,316.4 160.33,320.22 162,322 C163.67,323.78 165.68,326.43 167.1,327.1 C168.52,327.77 169.3,326.47 170.5,326 C171.7,325.53 172.97,323.97 174.3,324.3 C175.63,324.63 177.07,326.7 178.5,328 C179.93,329.3 181.48,332.43 182.9,332.1 C184.32,331.77 185.58,328.25 187,326 C188.42,323.75 189.9,319.27 191.4,318.6 C192.9,317.93 194.33,320.58 196,322 C197.67,323.42 199.07,327.1 201.4,327.1 C203.73,327.1 205.83,323.52 210,322 C214.17,320.48 222.15,317.67 226.4,318 C230.65,318.33 230.28,323.67 235.5,324 C240.72,324.33 250.52,320.25 257.7,320 C264.88,319.75 271.63,322.45 278.6,322.5 C285.57,322.55 292.73,320.35 299.5,320.3 C306.27,320.25 315.92,321.88 319.2,322.2" stroke="#f4897a" stroke-width="2" fill="none" stroke-linejoin="round" stroke-linecap="round"/>
<path d="M82,425.5 C86.67,425.45 103.33,425.23 110,425.2 C116.67,425.17 119.33,425.67 122,425.3 C124.67,424.93 124.92,425.55 126,423 C127.08,420.45 127.83,422.17 128.5,410 C129.17,397.83 129.55,370 130,350 C130.45,330 130.88,305.05 131.2,290 C131.52,274.95 131.63,262.2 131.9,259.7 C132.17,257.2 132.45,264.95 132.8,275 C133.15,285.05 133.52,309.88 134,320 C134.48,330.12 135.03,332.03 135.7,335.7 C136.37,339.37 136.8,341.17 138,342 C139.2,342.83 141.4,343.53 142.9,340.7 C144.4,337.87 145.63,330.35 147,325 C148.37,319.65 149.93,310.27 151.1,308.6 C152.27,306.93 153,312.38 154,315 C155,317.62 156.1,322.15 157.1,324.3 C158.1,326.45 158.93,327.87 160,327.9 C161.07,327.93 162.32,325.58 163.5,324.5 C164.68,323.42 166.02,321.57 167.1,321.4 C168.18,321.23 169.03,322.78 170,323.5 C170.97,324.22 171.73,325.95 172.9,325.7 C174.07,325.45 175.58,322.95 177,322 C178.42,321.05 180.23,320 181.4,320 C182.57,320 183.05,321.28 184,322 C184.95,322.72 186.1,324.63 187.1,324.3 C188.1,323.97 189.03,321.2 190,320 C190.97,318.8 191.73,316.93 192.9,317.1 C194.07,317.27 195.58,319.68 197,321 C198.42,322.32 199.98,325.12 201.4,325 C202.82,324.88 203.23,321.13 205.5,320.3 C207.77,319.47 210.92,319.88 215,320 C219.08,320.12 225,320.75 230,321 C235,321.25 240,321.67 245,321.5 C250,321.33 254.17,319.92 260,320 C265.83,320.08 273.33,321.92 280,322 C286.67,322.08 293.47,320.53 300,320.5 C306.53,320.47 316,321.58 319.2,321.8" stroke="#8cc26b" stroke-width="2" fill="none" stroke-linejoin="round" stroke-linecap="round"/>
<path d="M82,425 C85,425.08 93.33,425.5 100,425.5 C106.67,425.5 117.83,425.75 122,425 C126.17,424.25 124.17,424.33 125,421 C125.83,417.67 126.42,411.83 127,405 C127.58,398.17 128,389.17 128.5,380 C129,370.83 129.5,358 130,350 C130.5,342 130.9,335.57 131.5,332 C132.1,328.43 132.77,328.77 133.6,328.6 C134.43,328.43 135.55,330.28 136.5,331 C137.45,331.72 138.38,333.9 139.3,332.9 C140.22,331.9 141.17,327.03 142,325 C142.83,322.97 143.22,320.37 144.3,320.7 C145.38,321.03 147.07,324.85 148.5,327 C149.93,329.15 151.15,334.1 152.9,333.6 C154.65,333.1 156.98,326.87 159,324 C161.02,321.13 163.17,316.4 165,316.4 C166.83,316.4 168.45,321.5 170,324 C171.55,326.5 172.8,330.9 174.3,331.4 C175.8,331.9 177.22,329.23 179,327 C180.78,324.77 182.93,320.23 185,318 C187.07,315.77 189.57,313.27 191.4,313.6 C193.23,313.93 194.53,317.37 196,320 C197.47,322.63 198.7,328.57 200.2,329.4 C201.7,330.23 202.53,326.4 205,325 C207.47,323.6 211.43,322.45 215,321 C218.57,319.55 222.98,315.77 226.4,316.3 C229.82,316.83 232.4,323.42 235.5,324.2 C238.6,324.98 241.3,321.95 245,321 C248.7,320.05 252.1,318.25 257.7,318.5 C263.3,318.75 271.63,322.2 278.6,322.5 C285.57,322.8 292.73,320.35 299.5,320.3 C306.27,320.25 315.92,321.88 319.2,322.2" stroke="#4682c8" stroke-width="2" fill="none" stroke-linejoin="round" stroke-linecap="round"/>
<path d="M82,425 C83.33,425.33 87,426.92 90,427 C93,427.08 94.67,425.83 100,425.5 C105.33,425.17 117.67,425.92 122,425 C126.33,424.08 125,424.17 126,420 C127,415.83 127.33,410 128,400 C128.67,390 129.42,370.83 130,360 C130.58,349.17 130.9,340.95 131.5,335 C132.1,329.05 132.88,325.47 133.6,324.3 C134.32,323.13 135.08,326.57 135.8,328 C136.52,329.43 137.03,333.23 137.9,332.9 C138.77,332.57 139.93,327.8 141,326 C142.07,324.2 143.05,321.77 144.3,322.1 C145.55,322.43 147.07,326.33 148.5,328 C149.93,329.67 151.68,332.27 152.9,332.1 C154.12,331.93 154.85,328.3 155.8,327 C156.75,325.7 157.32,325.8 158.6,324.3 C159.88,322.8 161.83,319.55 163.5,318 C165.17,316.45 167.27,314.5 168.6,315 C169.93,315.5 170.55,318.85 171.5,321 C172.45,323.15 173.13,327.07 174.3,327.9 C175.47,328.73 177.07,326.6 178.5,326 C179.93,325.4 181.48,325.3 182.9,324.3 C184.32,323.3 185.58,321.32 187,320 C188.42,318.68 190.07,316.23 191.4,316.4 C192.73,316.57 193.8,319.45 195,321 C196.2,322.55 197.6,324.73 198.6,325.7 C199.6,326.67 199.93,327.08 201,326.8 C202.07,326.52 202.67,324.97 205,324 C207.33,323.03 211.43,322.28 215,321 C218.57,319.72 222.98,315.77 226.4,316.3 C229.82,316.83 232.4,323.25 235.5,324.2 C238.6,325.15 241.3,322.77 245,322 C248.7,321.23 252.1,319.52 257.7,319.6 C263.3,319.68 271.63,322.3 278.6,322.5 C285.57,322.7 292.73,320.8 299.5,320.8 C306.27,320.8 315.92,322.22 319.2,322.5" stroke="#ff6e6e" stroke-width="2" fill="none" stroke-linejoin="round" stroke-linecap="round"/>
<line x1="192.6" y1="254" x2="213.5" y2="254" stroke="#f4897a" stroke-width="2.2" stroke-linecap="butt"/>
<line x1="192.6" y1="271" x2="213.5" y2="271" stroke="#8cc26b" stroke-width="2.2" stroke-linecap="butt"/>
<line x1="192.6" y1="285.7" x2="213.5" y2="285.7" stroke="#4682c8" stroke-width="2.2" stroke-linecap="butt"/>
<line x1="192.6" y1="300.6" x2="213.5" y2="300.6" stroke="#ff6e6e" stroke-width="2.2" stroke-linecap="butt"/>
<text x="216.3" y="257.6" font-size="11.6" font-weight="bold" text-anchor="start" fill="#000">Co<tspan font-size="7.66" dy="3.02">3</tspan><tspan dy="-3.02">O</tspan><tspan font-size="7.66" dy="3.02">4</tspan></text>
<text x="216.3" y="274.6" font-size="11.6" font-weight="bold" text-anchor="start" fill="#000">CoO</text>
<text x="216.3" y="289.2" font-size="11.6" font-weight="bold" text-anchor="start" fill="#000">Co-foil</text>
<text x="216.3" y="303.3" font-size="11.6" font-weight="bold" text-anchor="start" fill="#000">CoFe/CoFe<tspan font-size="7.66" dy="3.02">2</tspan><tspan dy="-3.02">O</tspan><tspan font-size="7.66" dy="3.02">4</tspan><tspan dy="-3.02">@NC</tspan></text>
<text x="94.7" y="256.4" font-size="12.4" font-weight="bold" text-anchor="start" fill="#000">Co K-edge</text>
<rect x="207.4" y="341.9" width="92.29999999999998" height="70.5" fill="#fff"/>
<line x1="233.1" y1="412.4" x2="243.6" y2="341.9" stroke="#4682c8" stroke-width="0.9" stroke-linecap="butt"/>
<line x1="236.4" y1="412.4" x2="240.7" y2="341.9" stroke="#8cc26b" stroke-width="0.9" stroke-linecap="butt"/>
<line x1="236.5" y1="412.4" x2="244.5" y2="341.9" stroke="#ff6e6e" stroke-width="0.9" stroke-linecap="butt"/>
<line x1="240" y1="412.4" x2="246" y2="341.9" stroke="#f4897a" stroke-width="0.9" stroke-linecap="butt"/>
<rect x="207.4" y="341.9" width="92.3" height="70.5" stroke="#444" stroke-width="0.9" fill="none"/>
<line x1="207.4" y1="341.9" x2="299.7" y2="341.9" stroke="#777" stroke-width="1.6" stroke-linecap="butt"/>
<text x="205.7" y="348.1" font-size="5.6" font-weight="bold" text-anchor="end" fill="#000">0.65</text>
<line x1="207.4" y1="346.1" x2="208.9" y2="346.1" stroke="#444" stroke-width="0.6" stroke-linecap="butt"/>
<text x="205.7" y="361.6" font-size="5.6" font-weight="bold" text-anchor="end" fill="#000">0.60</text>
<line x1="207.4" y1="359.6" x2="208.9" y2="359.6" stroke="#444" stroke-width="0.6" stroke-linecap="butt"/>
<text x="205.7" y="374.9" font-size="5.6" font-weight="bold" text-anchor="end" fill="#000">0.55</text>
<line x1="207.4" y1="372.9" x2="208.9" y2="372.9" stroke="#444" stroke-width="0.6" stroke-linecap="butt"/>
<text x="205.7" y="388.1" font-size="5.6" font-weight="bold" text-anchor="end" fill="#000">0.50</text>
<line x1="207.4" y1="386.1" x2="208.9" y2="386.1" stroke="#444" stroke-width="0.6" stroke-linecap="butt"/>
<text x="205.7" y="401.3" font-size="5.6" font-weight="bold" text-anchor="end" fill="#000">0.45</text>
<line x1="207.4" y1="399.3" x2="208.9" y2="399.3" stroke="#444" stroke-width="0.6" stroke-linecap="butt"/>
<text x="221.4" y="418.6" font-size="5.6" font-weight="bold" text-anchor="middle" fill="#000">7710</text>
<line x1="221.4" y1="412.4" x2="221.4" y2="410.9" stroke="#444" stroke-width="0.6" stroke-linecap="butt"/>
<text x="241.1" y="418.6" font-size="5.6" font-weight="bold" text-anchor="middle" fill="#000">7720</text>
<line x1="241.1" y1="412.4" x2="241.1" y2="410.9" stroke="#444" stroke-width="0.6" stroke-linecap="butt"/>
<text x="261" y="418.6" font-size="5.6" font-weight="bold" text-anchor="middle" fill="#000">7730</text>
<line x1="261" y1="412.4" x2="261" y2="410.9" stroke="#444" stroke-width="0.6" stroke-linecap="butt"/>
<text x="280.9" y="418.6" font-size="5.6" font-weight="bold" text-anchor="middle" fill="#000">7740</text>
<line x1="280.9" y1="412.4" x2="280.9" y2="410.9" stroke="#444" stroke-width="0.6" stroke-linecap="butt"/>
<text x="300.7" y="418.6" font-size="5.6" font-weight="bold" text-anchor="middle" fill="#000">7750</text>
<line x1="300.7" y1="412.4" x2="300.7" y2="410.9" stroke="#444" stroke-width="0.6" stroke-linecap="butt"/>
<text x="253.5" y="425.5" font-size="6.2" font-weight="bold" text-anchor="middle" fill="#000">Energy (eV)</text>
<text x="192.5" y="377" font-size="5.9" font-weight="bold" text-anchor="middle" fill="#000" transform="rotate(-90 192.5 377)">Normalized Adsorption (a.u.)</text>
<rect x="81.7" y="239.75" width="237.9" height="189.85" stroke="#000" stroke-width="1.8" fill="none"/>
<line x1="81.7" y1="424.6" x2="84.7" y2="424.6" stroke="#000" stroke-width="1.4" stroke-linecap="butt"/>
<line x1="81.7" y1="409.2" x2="83.5" y2="409.2" stroke="#000" stroke-width="1.4" stroke-linecap="butt"/>
<line x1="81.7" y1="393.79" x2="84.7" y2="393.79" stroke="#000" stroke-width="1.4" stroke-linecap="butt"/>
<line x1="81.7" y1="378.39" x2="83.5" y2="378.39" stroke="#000" stroke-width="1.4" stroke-linecap="butt"/>
<line x1="81.7" y1="362.98" x2="84.7" y2="362.98" stroke="#000" stroke-width="1.4" stroke-linecap="butt"/>
<line x1="81.7" y1="347.58" x2="83.5" y2="347.58" stroke="#000" stroke-width="1.4" stroke-linecap="butt"/>
<line x1="81.7" y1="332.17" x2="84.7" y2="332.17" stroke="#000" stroke-width="1.4" stroke-linecap="butt"/>
<line x1="81.7" y1="316.76" x2="83.5" y2="316.76" stroke="#000" stroke-width="1.4" stroke-linecap="butt"/>
<line x1="81.7" y1="301.36" x2="84.7" y2="301.36" stroke="#000" stroke-width="1.4" stroke-linecap="butt"/>
<line x1="81.7" y1="285.96" x2="83.5" y2="285.96" stroke="#000" stroke-width="1.4" stroke-linecap="butt"/>
<line x1="81.7" y1="270.55" x2="84.7" y2="270.55" stroke="#000" stroke-width="1.4" stroke-linecap="butt"/>
<line x1="81.7" y1="255.15" x2="83.5" y2="255.15" stroke="#000" stroke-width="1.4" stroke-linecap="butt"/>
<text x="77.8" y="428.9" font-size="12.6" font-weight="bold" text-anchor="end" fill="#000">0.0</text>
<text x="77.8" y="398.09" font-size="12.6" font-weight="bold" text-anchor="end" fill="#000">0.3</text>
<text x="77.8" y="367.28" font-size="12.6" font-weight="bold" text-anchor="end" fill="#000">0.6</text>
<text x="77.8" y="336.47" font-size="12.6" font-weight="bold" text-anchor="end" fill="#000">0.9</text>
<text x="77.8" y="305.66" font-size="12.6" font-weight="bold" text-anchor="end" fill="#000">1.2</text>
<text x="77.8" y="274.85" font-size="12.6" font-weight="bold" text-anchor="end" fill="#000">1.5</text>
<text x="77.8" y="244.04" font-size="12.6" font-weight="bold" text-anchor="end" fill="#000">1.8</text>
<line x1="81.5" y1="429.6" x2="81.5" y2="426.6" stroke="#000" stroke-width="1.4" stroke-linecap="butt"/>
<line x1="101.31" y1="429.6" x2="101.31" y2="427.8" stroke="#000" stroke-width="1.4" stroke-linecap="butt"/>
<line x1="121.12" y1="429.6" x2="121.12" y2="426.6" stroke="#000" stroke-width="1.4" stroke-linecap="butt"/>
<line x1="140.93" y1="429.6" x2="140.93" y2="427.8" stroke="#000" stroke-width="1.4" stroke-linecap="butt"/>
<line x1="160.74" y1="429.6" x2="160.74" y2="426.6" stroke="#000" stroke-width="1.4" stroke-linecap="butt"/>
<line x1="180.55" y1="429.6" x2="180.55" y2="427.8" stroke="#000" stroke-width="1.4" stroke-linecap="butt"/>
<line x1="200.36" y1="429.6" x2="200.36" y2="426.6" stroke="#000" stroke-width="1.4" stroke-linecap="butt"/>
<line x1="220.17" y1="429.6" x2="220.17" y2="427.8" stroke="#000" stroke-width="1.4" stroke-linecap="butt"/>
<line x1="239.98" y1="429.6" x2="239.98" y2="426.6" stroke="#000" stroke-width="1.4" stroke-linecap="butt"/>
<line x1="259.79" y1="429.6" x2="259.79" y2="427.8" stroke="#000" stroke-width="1.4" stroke-linecap="butt"/>
<line x1="279.6" y1="429.6" x2="279.6" y2="426.6" stroke="#000" stroke-width="1.4" stroke-linecap="butt"/>
<line x1="299.41" y1="429.6" x2="299.41" y2="427.8" stroke="#000" stroke-width="1.4" stroke-linecap="butt"/>
<line x1="319.22" y1="429.6" x2="319.22" y2="426.6" stroke="#000" stroke-width="1.4" stroke-linecap="butt"/>
<text x="81.5" y="443.9" font-size="12.7" font-weight="bold" text-anchor="middle" fill="#000">7600</text>
<text x="121.12" y="443.9" font-size="12.7" font-weight="bold" text-anchor="middle" fill="#000">7700</text>
<text x="160.74" y="443.9" font-size="12.7" font-weight="bold" text-anchor="middle" fill="#000">7800</text>
<text x="200.36" y="443.9" font-size="12.7" font-weight="bold" text-anchor="middle" fill="#000">7900</text>
<text x="239.98" y="443.9" font-size="12.7" font-weight="bold" text-anchor="middle" fill="#000">8000</text>
<text x="279.6" y="443.9" font-size="12.7" font-weight="bold" text-anchor="middle" fill="#000">8100</text>
<text x="319.22" y="443.9" font-size="12.7" font-weight="bold" text-anchor="middle" fill="#000">8200</text>
<text x="201.1" y="460.3" font-size="12.4" font-weight="bold" text-anchor="middle" fill="#000">Energy (eV)</text>
<text x="58.5" y="334.2" font-size="12.7" font-weight="bold" text-anchor="middle" fill="#000" transform="rotate(-90 58.5 334.2)">Normalized Adsorption (a.u.)</text>
<text x="8.9" y="251.9" font-size="24.7" font-weight="normal" text-anchor="start" fill="#000" transform="translate(8.9 0) scale(0.88 1) translate(-8.9 0)">(d)</text>
<path d="M402.5,291 C404.08,291.05 408.25,291.38 412,291.3 C415.75,291.22 421.67,290.88 425,290.5 C428.33,290.12 429.85,289.6 432,289 C434.15,288.4 436.4,287.15 437.9,286.9 C439.4,286.65 439.98,288.65 441,287.5 C442.02,286.35 442.83,284.25 444,280 C445.17,275.75 446.75,266.75 448,262 C449.25,257.25 450.32,253.67 451.5,251.5 C452.68,249.33 453.93,249.08 455.1,249 C456.27,248.92 457.35,249.5 458.5,251 C459.65,252.5 460.75,254.5 462,258 C463.25,261.5 464.4,267.47 466,272 C467.6,276.53 469.6,283.12 471.6,285.2 C473.6,287.28 475.67,284.72 478,284.5 C480.33,284.28 483.6,283.82 485.6,283.9 C487.6,283.98 488.63,284.58 490,285 C491.37,285.42 492.47,287.07 493.8,286.4 C495.13,285.73 496.63,282.9 498,281 C499.37,279.1 500.37,276.42 502,275 C503.63,273.58 506.13,272.5 507.8,272.5 C509.47,272.5 510.63,273.42 512,275 C513.37,276.58 514.67,279.67 516,282 C517.33,284.33 518.75,287.42 520,289 C521.25,290.58 521.83,291.33 523.5,291.5 C525.17,291.67 527.25,290.25 530,290 C532.75,289.75 536.45,290.17 540,290 C543.55,289.83 548.3,288.92 551.3,289 C554.3,289.08 555.73,290.1 558,290.5 C560.27,290.9 562.07,291.4 564.9,291.4 C567.73,291.4 571.65,290.82 575,290.5 C578.35,290.18 581.03,289.83 585,289.5 C588.97,289.17 595.13,288.42 598.8,288.5 C602.47,288.58 604.17,289.63 607,290 C609.83,290.37 612.8,290.7 615.8,290.7 C618.8,290.7 621.03,289.87 625,290 C628.97,290.13 637.17,291.25 639.6,291.5" stroke="#f36a6a" stroke-width="1.7" fill="none" stroke-linejoin="round" stroke-linecap="round"/>
<path d="M402.5,330.1 C404.58,330.15 411.75,330.67 415,330.4 C418.25,330.13 419.57,329.45 422,328.5 C424.43,327.55 427.65,325.2 429.6,324.7 C431.55,324.2 432.47,325.95 433.7,325.5 C434.93,325.05 435.75,323.37 437,322 C438.25,320.63 439.87,317.47 441.2,317.3 C442.53,317.13 443.5,319 445,321 C446.5,323 448.7,328.63 450.2,329.3 C451.7,329.97 452.7,327.88 454,325 C455.3,322.12 456.83,315.58 458,312 C459.17,308.42 459.97,305.3 461,303.5 C462.03,301.7 463.12,301.28 464.2,301.2 C465.28,301.12 466.37,301.37 467.5,303 C468.63,304.63 469.75,308 471,311 C472.25,314 473.38,318.03 475,321 C476.62,323.97 479.03,328.13 480.7,328.8 C482.37,329.47 483.63,326.23 485,325 C486.37,323.77 487.23,321.9 488.9,321.4 C490.57,320.9 492.82,321.8 495,322 C497.18,322.2 499.83,322.68 502,322.6 C504.17,322.52 505.8,322.1 508,321.5 C510.2,320.9 513.2,318.75 515.2,319 C517.2,319.25 518.35,321.23 520,323 C521.65,324.77 523.6,329.27 525.1,329.6 C526.6,329.93 527.48,326.37 529,325 C530.52,323.63 532.62,321.57 534.2,321.4 C535.78,321.23 537,322.55 538.5,324 C540,325.45 541.63,329.52 543.2,330.1 C544.77,330.68 546.43,327.68 547.9,327.5 C549.37,327.32 550.58,328.43 552,329 C553.42,329.57 553.4,330.82 556.4,330.9 C559.4,330.98 565.75,329.92 570,329.5 C574.25,329.08 577.1,328.53 581.9,328.4 C586.7,328.27 592.45,328.47 598.8,328.7 C605.15,328.93 613.2,329.48 620,329.8 C626.8,330.12 636.33,330.47 639.6,330.6" stroke="#8cc26b" stroke-width="1.7" fill="none" stroke-linejoin="round" stroke-linecap="round"/>
<path d="M402.5,370.3 C403.25,370.17 405.37,369.3 407,369.5 C408.63,369.7 410.8,371.75 412.3,371.5 C413.8,371.25 414.62,369.08 416,368 C417.38,366.92 419.02,365.02 420.6,365 C422.18,364.98 424.1,368.4 425.5,367.9 C426.9,367.4 427.92,364.32 429,362 C430.08,359.68 430.98,356.03 432,354 C433.02,351.97 434.02,350.13 435.1,349.8 C436.18,349.47 437.35,350.47 438.5,352 C439.65,353.53 440.92,356.83 442,359 C443.08,361.17 443.9,363.47 445,365 C446.1,366.53 447.43,368.37 448.6,368.2 C449.77,368.03 450.77,366.2 452,364 C453.23,361.8 454.83,357.5 456,355 C457.17,352.5 457.97,350.28 459,349 C460.03,347.72 461.03,347.22 462.2,347.3 C463.37,347.38 464.37,348.05 466,349.5 C467.63,350.95 469.83,353.75 472,356 C474.17,358.25 476.6,360.47 479,363 C481.4,365.53 484.57,370.03 486.4,371.2 C488.23,372.37 488.77,370.37 490,370 C491.23,369.63 492.33,368.75 493.8,369 C495.27,369.25 497.27,371.83 498.8,371.5 C500.33,371.17 501.63,368.58 503,367 C504.37,365.42 505.52,363.17 507,362 C508.48,360.83 510.4,359.92 511.9,360 C513.4,360.08 514.65,361.33 516,362.5 C517.35,363.67 518.5,365.63 520,367 C521.5,368.37 523.18,370.42 525,370.7 C526.82,370.98 528.63,368.55 530.9,368.7 C533.17,368.85 536.58,371.55 538.6,371.6 C540.62,371.65 541.45,369.65 543,369 C544.55,368.35 546.23,367.7 547.9,367.7 C549.57,367.7 551.02,368.55 553,369 C554.98,369.45 557.8,370.65 559.8,370.4 C561.8,370.15 563.02,368.38 565,367.5 C566.98,366.62 569.2,365.18 571.7,365.1 C574.2,365.02 576.05,366.07 580,367 C583.95,367.93 591.23,370.03 595.4,370.7 C599.57,371.37 601.88,370.85 605,371 C608.12,371.15 610.88,371.78 614.1,371.6 C617.32,371.42 621.32,370 624.3,369.9 C627.28,369.8 629.45,370.72 632,371 C634.55,371.28 638.33,371.5 639.6,371.6" stroke="#f2826f" stroke-width="1.7" fill="none" stroke-linejoin="round" stroke-linecap="round"/>
<path d="M402.5,412.8 C404.58,412.75 410.48,412.45 415,412.5 C419.52,412.55 426.6,413.27 429.6,413.1 C432.6,412.93 431.77,411.97 433,411.5 C434.23,411.03 435.63,410.22 437,410.3 C438.37,410.38 439.87,412.88 441.2,412 C442.53,411.12 443.7,408.83 445,405 C446.3,401.17 447.83,393 449,389 C450.17,385 451.17,382.6 452,381 C452.83,379.4 453.25,379.48 454,379.4 C454.75,379.32 455.5,378.73 456.5,380.5 C457.5,382.27 458.75,386.25 460,390 C461.25,393.75 462.75,399.47 464,403 C465.25,406.53 466.33,410.03 467.5,411.2 C468.67,412.37 469.63,410.42 471,410 C472.37,409.58 474.2,408.78 475.7,408.7 C477.2,408.62 478.77,409.17 480,409.5 C481.23,409.83 481.77,411.12 483.1,410.7 C484.43,410.28 486.52,408.03 488,407 C489.48,405.97 490.62,405.12 492,404.5 C493.38,403.88 494.63,403.38 496.3,403.3 C497.97,403.22 499.62,403.57 502,404 C504.38,404.43 507.93,405.15 510.6,405.9 C513.27,406.65 515.77,407.57 518,408.5 C520.23,409.43 522.27,410.75 524,411.5 C525.73,412.25 526.3,412.95 528.4,413 C530.5,413.05 533.35,411.77 536.6,411.8 C539.85,411.83 544,413.13 547.9,413.2 C551.8,413.27 555.62,412.57 560,412.2 C564.38,411.83 569.2,410.95 574.2,411 C579.2,411.05 584.48,412.13 590,412.5 C595.52,412.87 599.03,413.08 607.3,413.2 C615.57,413.32 634.22,413.2 639.6,413.2" stroke="#4a8fd2" stroke-width="1.7" fill="none" stroke-linejoin="round" stroke-linecap="round"/>
<line x1="454.3" y1="241.6" x2="454.3" y2="275.3" stroke="#333" stroke-width="1.3" stroke-dasharray="4 3" stroke-linecap="butt"/>
<line x1="453.5" y1="366.2" x2="453.5" y2="400.8" stroke="#333" stroke-width="1.3" stroke-dasharray="4 3" stroke-linecap="butt"/>
<line x1="435.4" y1="264.8" x2="435.4" y2="305" stroke="#c85050" stroke-width="1.3" stroke-dasharray="4 3" stroke-linecap="butt"/>
<line x1="441.1" y1="302.3" x2="441.1" y2="337.1" stroke="#c85050" stroke-width="1.3" stroke-dasharray="4 3" stroke-linecap="butt"/>
<line x1="435.4" y1="338" x2="435.4" y2="373.8" stroke="#c85050" stroke-width="1.3" stroke-dasharray="4 3" stroke-linecap="butt"/>
<text x="464.7" y="254.8" font-size="10.7" font-weight="bold" text-anchor="start" fill="#000">Co-Co/Fe</text>
<text x="544.2" y="283.9" font-size="10.8" font-weight="bold" text-anchor="start" fill="#000">CoFe/CoFe<tspan font-size="7.13" dy="2.81">2</tspan><tspan dy="-2.81">O</tspan><tspan font-size="7.13" dy="2.81">4</tspan><tspan dy="-2.81">@NC</tspan></text>
<text x="592.9" y="325.8" font-size="10.8" font-weight="bold" text-anchor="start" fill="#000">CoO</text>
<text x="592.5" y="365.6" font-size="10.8" font-weight="bold" text-anchor="start" fill="#000">Co<tspan font-size="7.13" dy="2.81">3</tspan><tspan dy="-2.81">O</tspan><tspan font-size="7.13" dy="2.81">4</tspan></text>
<text x="592.5" y="407.2" font-size="10.8" font-weight="bold" text-anchor="start" fill="#000">Co-foil</text>
<text x="409.8" y="312.1" font-size="10.5" font-weight="bold" text-anchor="start" fill="#c23b3b">Co-O</text>
<text x="406.8" y="343.9" font-size="10.5" font-weight="bold" text-anchor="start" fill="#c23b3b">Co-O</text>
<text x="462.6" y="379.4" font-size="10.7" font-weight="bold" text-anchor="start" fill="#000">Co-Co</text>
<rect x="402.4" y="240" width="237.5" height="189.5" stroke="#000" stroke-width="1.8" fill="none"/>
<line x1="402.4" y1="429.5" x2="402.4" y2="426.5" stroke="#000" stroke-width="1.4" stroke-linecap="butt"/>
<line x1="426.14" y1="429.5" x2="426.14" y2="427.7" stroke="#000" stroke-width="1.4" stroke-linecap="butt"/>
<line x1="449.88" y1="429.5" x2="449.88" y2="426.5" stroke="#000" stroke-width="1.4" stroke-linecap="butt"/>
<line x1="473.62" y1="429.5" x2="473.62" y2="427.7" stroke="#000" stroke-width="1.4" stroke-linecap="butt"/>
<line x1="497.36" y1="429.5" x2="497.36" y2="426.5" stroke="#000" stroke-width="1.4" stroke-linecap="butt"/>
<line x1="521.1" y1="429.5" x2="521.1" y2="427.7" stroke="#000" stroke-width="1.4" stroke-linecap="butt"/>
<line x1="544.84" y1="429.5" x2="544.84" y2="426.5" stroke="#000" stroke-width="1.4" stroke-linecap="butt"/>
<line x1="568.58" y1="429.5" x2="568.58" y2="427.7" stroke="#000" stroke-width="1.4" stroke-linecap="butt"/>
<line x1="592.32" y1="429.5" x2="592.32" y2="426.5" stroke="#000" stroke-width="1.4" stroke-linecap="butt"/>
<line x1="616.06" y1="429.5" x2="616.06" y2="427.7" stroke="#000" stroke-width="1.4" stroke-linecap="butt"/>
<line x1="639.8" y1="429.5" x2="639.8" y2="426.5" stroke="#000" stroke-width="1.4" stroke-linecap="butt"/>
<text x="402.4" y="443.7" font-size="12" font-weight="bold" text-anchor="middle" fill="#000">0</text>
<text x="449.88" y="443.7" font-size="12" font-weight="bold" text-anchor="middle" fill="#000">2</text>
<text x="497.36" y="443.7" font-size="12" font-weight="bold" text-anchor="middle" fill="#000">4</text>
<text x="544.84" y="443.7" font-size="12" font-weight="bold" text-anchor="middle" fill="#000">6</text>
<text x="592.32" y="443.7" font-size="12" font-weight="bold" text-anchor="middle" fill="#000">8</text>
<text x="639.8" y="443.7" font-size="12" font-weight="bold" text-anchor="middle" fill="#000">10</text>
<text x="521.2" y="458.3" font-size="12.2" font-weight="bold" text-anchor="middle" fill="#000">R (Å)</text>
<text x="394.2" y="334.7" font-size="12" font-weight="bold" text-anchor="middle" fill="#000" transform="rotate(-90 394.2 334.7)" textLength="103" lengthAdjust="spacingAndGlyphs">|FT (k<tspan font-size="8.16" dy="-4.56">3</tspan><tspan dy="4.56"> </tspan><tspan font-style="italic">χ</tspan>(k))| (a.u.)</text>
<text x="343" y="251.9" font-size="24.7" font-weight="normal" text-anchor="start" fill="#000" transform="translate(343 0) scale(0.88 1) translate(-343 0)">(e)</text>
<g clip-path="url(#clipf)">
<g filter="url(#hotf)">
<rect x="701.8" y="216.8" width="285.8" height="233.8" stroke="none" stroke-width="0" fill="#000"/>
<path d="M774,412 L924,412 L906,372 L894,322 L891,230 L812,230 L806,322 L794,372 Z" stroke="none" stroke-width="1" fill="#292929" stroke-linejoin="round" stroke-linecap="round"/>
<path d="M788,405 L910,405 L899,376 L887,332 L885,230 L818,230 L813,300 L803,348 Z" stroke="none" stroke-width="1" fill="#474747" stroke-linejoin="round" stroke-linecap="round"/>
<ellipse cx="845" cy="357" rx="48" ry="36" fill="#737373"/>
<ellipse cx="840" cy="390" rx="50" ry="16" fill="#6b6b6b"/>
<path d="M828,230 L876,230 L880,300 L874,335 L824,335 L822,300 Z" stroke="none" stroke-width="1" fill="#707070" stroke-linejoin="round" stroke-linecap="round"/>
<ellipse cx="846" cy="353" rx="38" ry="27" fill="#878787" transform="rotate(-10 846 353)"/>
<ellipse cx="836" cy="388" rx="36" ry="12.5" fill="#858585"/>
<ellipse cx="845" cy="285" rx="15" ry="36" fill="#8c8c8c" transform="rotate(-22 845 285)"/>
<ellipse cx="862" cy="257" rx="9" ry="22" fill="#8c8c8c"/>
<ellipse cx="839" cy="250" rx="7" ry="16" fill="#878787"/>
<ellipse cx="870" cy="300" rx="6" ry="18" fill="#787878"/>
<ellipse cx="848" cy="351" rx="33" ry="21" fill="#a1a1a1" transform="rotate(-15 848 351)"/>
<ellipse cx="834.5" cy="385.5" rx="24" ry="8.5" fill="#a3a3a3"/>
<ellipse cx="845" cy="286" rx="11" ry="27" fill="#ababab" transform="rotate(-22 845 286)"/>
<ellipse cx="862" cy="259" rx="6" ry="15" fill="#a3a3a3"/>
<ellipse cx="848" cy="350.5" rx="30" ry="19.5" fill="#bdbdbd" transform="rotate(-15 848 350.5)"/>
<ellipse cx="845" cy="287" rx="7" ry="19" fill="#bfbfbf" transform="rotate(-22 845 287)"/>
<ellipse cx="834" cy="384.8" rx="19" ry="7" fill="#bababa"/>
<ellipse cx="848" cy="350.5" rx="23.5" ry="15" fill="#d9d9d9" transform="rotate(-15 848 350.5)"/>
<ellipse cx="834" cy="384.8" rx="13" ry="4.5" fill="#c9c9c9"/>
<ellipse cx="848.5" cy="350.5" rx="19" ry="12" fill="#f0f0f0" transform="rotate(-15 848.5 350.5)"/>
<ellipse cx="849" cy="350.8" rx="13.5" ry="7.5" fill="#ffffff" transform="rotate(-15 849 350.8)"/>
</g>
<g filter="url(#bl15)" fill="#1e0000">
<ellipse cx="830.4" cy="370.8" rx="5.5" ry="2.8" opacity="0.9"/>
<ellipse cx="864.4" cy="366.5" rx="4.5" ry="2.4" opacity="0.9"/>
<ellipse cx="875.8" cy="388" rx="7" ry="2.4" opacity="0.85"/>
<ellipse cx="860" cy="398" rx="14" ry="2.2" opacity="0.8"/>
<ellipse cx="888.5" cy="362.7" rx="4" ry="3" opacity="0.6"/>
<ellipse cx="850.5" cy="260" rx="2" ry="6" opacity="0.8"/>
<ellipse cx="860" cy="289" rx="2.5" ry="5.5" opacity="0.85"/>
<ellipse cx="832.9" cy="308.9" rx="3.2" ry="3.5" opacity="0.75"/>
<ellipse cx="874.3" cy="276" rx="2.5" ry="5" opacity="0.6"/>
<ellipse cx="884.3" cy="297.4" rx="2.5" ry="5" opacity="0.6"/>
<ellipse cx="823.8" cy="264" rx="2" ry="4.5" opacity="0.5"/>
<ellipse cx="850" cy="323" rx="3.5" ry="2.5" opacity="0.7"/>
</g>
<ellipse cx="849" cy="350.8" rx="10" ry="5.8" fill="none" stroke="#4a4a4a" stroke-width="0.7" stroke-dasharray="2 1.3" transform="rotate(-15 849 350.8)" opacity="0.85"/>
<ellipse cx="848.5" cy="350.5" rx="15" ry="9.5" fill="none" stroke="#4a4a4a" stroke-width="0.7" stroke-dasharray="2 1.3" transform="rotate(-15 848.5 350.5)" opacity="0.85"/>
<ellipse cx="848" cy="350.5" rx="20" ry="13" fill="none" stroke="#4a4a4a" stroke-width="0.7" stroke-dasharray="2 1.3" transform="rotate(-15 848 350.5)" opacity="0.85"/>
<ellipse cx="848" cy="351" rx="26" ry="17" fill="none" stroke="#4a4a4a" stroke-width="0.7" stroke-dasharray="2 1.3" transform="rotate(-15 848 351)" opacity="0.85"/>
<ellipse cx="834" cy="384.8" rx="12" ry="4.5" fill="none" stroke="#4a4a4a" stroke-width="0.7" stroke-dasharray="2 1.3" transform="rotate(0 834 384.8)" opacity="0.85"/>
<ellipse cx="834" cy="385.5" rx="19" ry="7.5" fill="none" stroke="#4a4a4a" stroke-width="0.7" stroke-dasharray="2 1.3" transform="rotate(0 834 385.5)" opacity="0.85"/>
<ellipse cx="845" cy="287" rx="5" ry="12" fill="none" stroke="#4a4a4a" stroke-width="0.7" stroke-dasharray="2 1.3" transform="rotate(-22 845 287)" opacity="0.85"/>
<ellipse cx="845" cy="286" rx="10" ry="26" fill="none" stroke="#4a4a4a" stroke-width="0.7" stroke-dasharray="2 1.3" transform="rotate(-22 845 286)" opacity="0.85"/>
<ellipse cx="862" cy="259" rx="5" ry="14" fill="none" stroke="#4a4a4a" stroke-width="0.7" stroke-dasharray="2 1.3" transform="rotate(0 862 259)" opacity="0.85"/>
<ellipse cx="839" cy="251" rx="4" ry="11" fill="none" stroke="#4a4a4a" stroke-width="0.7" stroke-dasharray="2 1.3" transform="rotate(0 839 251)" opacity="0.85"/>
<path d="M771,236 C770.6,238.32 769.75,244.02 768.6,249.9 C767.45,255.78 765.88,264.47 764.1,271.3 C762.32,278.13 760.43,284.05 757.9,290.9 C755.37,297.75 752.18,305.85 748.9,312.4 C745.62,318.95 742.37,324.25 738.2,330.2 C734.03,336.15 726.93,344.38 723.9,348.1 C720.87,351.82 720.65,351.77 720,352.5 L720,236 Z" stroke="#666" stroke-width="0.6" fill="#000" stroke-linejoin="round" stroke-linecap="round"/>
<path d="M924.9,236 C925.65,239.37 927.58,248.8 929.4,256.2 C931.22,263.6 933.25,272.32 935.8,280.4 C938.35,288.48 941.47,297.17 944.7,304.7 C947.93,312.23 951.57,319.42 955.2,325.6 C958.83,331.78 964.2,338.57 966.5,341.8 C968.8,345.03 968.58,344.47 969,345 L969,236 Z" stroke="#666" stroke-width="0.6" fill="#000" stroke-linejoin="round" stroke-linecap="round"/>
</g>
<rect x="721.8" y="236.8" width="245.8" height="193.8" stroke="#555" stroke-width="1" fill="none"/>
<text x="830" y="331" font-size="12.8" font-weight="bold" text-anchor="start" fill="#fff" transform="translate(830 0) scale(1.2 1) translate(-830 0)">Co-Co/Fe</text>
<text x="844" y="378" font-size="12.8" font-weight="bold" text-anchor="start" fill="#fff" transform="translate(844 0) scale(1.2 1) translate(-844 0)">Co-O</text>
<line x1="718.8" y1="404.8" x2="721.8" y2="404.8" stroke="#333" stroke-width="1.1" stroke-linecap="butt"/>
<line x1="718.8" y1="371.2" x2="721.8" y2="371.2" stroke="#333" stroke-width="1.1" stroke-linecap="butt"/>
<line x1="718.8" y1="337.6" x2="721.8" y2="337.6" stroke="#333" stroke-width="1.1" stroke-linecap="butt"/>
<line x1="718.8" y1="304" x2="721.8" y2="304" stroke="#333" stroke-width="1.1" stroke-linecap="butt"/>
<line x1="718.8" y1="270.4" x2="721.8" y2="270.4" stroke="#333" stroke-width="1.1" stroke-linecap="butt"/>
<line x1="718.8" y1="236.8" x2="721.8" y2="236.8" stroke="#333" stroke-width="1.1" stroke-linecap="butt"/>
<text x="711" y="375.6" font-size="13" font-weight="bold" text-anchor="middle" fill="#000" transform="translate(711 0) scale(1.15 1) translate(-711 0)">2</text>
<text x="711" y="308.4" font-size="13" font-weight="bold" text-anchor="middle" fill="#000" transform="translate(711 0) scale(1.15 1) translate(-711 0)">4</text>
<text x="711" y="241.2" font-size="13" font-weight="bold" text-anchor="middle" fill="#000" transform="translate(711 0) scale(1.15 1) translate(-711 0)">6</text>
<line x1="730.85" y1="430.6" x2="730.85" y2="433.6" stroke="#333" stroke-width="1.1" stroke-linecap="butt"/>
<line x1="745.6" y1="430.6" x2="745.6" y2="433.6" stroke="#333" stroke-width="1.1" stroke-linecap="butt"/>
<line x1="760.35" y1="430.6" x2="760.35" y2="433.6" stroke="#333" stroke-width="1.1" stroke-linecap="butt"/>
<line x1="775.1" y1="430.6" x2="775.1" y2="433.6" stroke="#333" stroke-width="1.1" stroke-linecap="butt"/>
<line x1="789.85" y1="430.6" x2="789.85" y2="433.6" stroke="#333" stroke-width="1.1" stroke-linecap="butt"/>
<line x1="804.6" y1="430.6" x2="804.6" y2="433.6" stroke="#333" stroke-width="1.1" stroke-linecap="butt"/>
<line x1="819.35" y1="430.6" x2="819.35" y2="433.6" stroke="#333" stroke-width="1.1" stroke-linecap="butt"/>
<line x1="834.1" y1="430.6" x2="834.1" y2="433.6" stroke="#333" stroke-width="1.1" stroke-linecap="butt"/>
<line x1="848.85" y1="430.6" x2="848.85" y2="433.6" stroke="#333" stroke-width="1.1" stroke-linecap="butt"/>
<line x1="863.6" y1="430.6" x2="863.6" y2="433.6" stroke="#333" stroke-width="1.1" stroke-linecap="butt"/>
<line x1="878.35" y1="430.6" x2="878.35" y2="433.6" stroke="#333" stroke-width="1.1" stroke-linecap="butt"/>
<line x1="893.1" y1="430.6" x2="893.1" y2="433.6" stroke="#333" stroke-width="1.1" stroke-linecap="butt"/>
<line x1="907.85" y1="430.6" x2="907.85" y2="433.6" stroke="#333" stroke-width="1.1" stroke-linecap="butt"/>
<line x1="922.6" y1="430.6" x2="922.6" y2="433.6" stroke="#333" stroke-width="1.1" stroke-linecap="butt"/>
<line x1="937.35" y1="430.6" x2="937.35" y2="433.6" stroke="#333" stroke-width="1.1" stroke-linecap="butt"/>
<line x1="952.1" y1="430.6" x2="952.1" y2="433.6" stroke="#333" stroke-width="1.1" stroke-linecap="butt"/>
<line x1="966.85" y1="430.6" x2="966.85" y2="433.6" stroke="#333" stroke-width="1.1" stroke-linecap="butt"/>
<text x="745.6" y="448.3" font-size="13" font-weight="bold" text-anchor="middle" fill="#000" transform="translate(745.6 0) scale(1.2 1) translate(-745.6 0)">−10</text>
<text x="775.1" y="448.3" font-size="13" font-weight="bold" text-anchor="middle" fill="#000" transform="translate(775.1 0) scale(1.2 1) translate(-775.1 0)">−5</text>
<text x="804.6" y="448.3" font-size="13" font-weight="bold" text-anchor="middle" fill="#000" transform="translate(804.6 0) scale(1.2 1) translate(-804.6 0)">0</text>
<text x="834.1" y="448.3" font-size="13" font-weight="bold" text-anchor="middle" fill="#000" transform="translate(834.1 0) scale(1.2 1) translate(-834.1 0)">5</text>
<text x="863.6" y="448.3" font-size="13" font-weight="bold" text-anchor="middle" fill="#000" transform="translate(863.6 0) scale(1.2 1) translate(-863.6 0)">10</text>
<text x="893.1" y="448.3" font-size="13" font-weight="bold" text-anchor="middle" fill="#000" transform="translate(893.1 0) scale(1.2 1) translate(-893.1 0)">15</text>
<text x="922.6" y="448.3" font-size="13" font-weight="bold" text-anchor="middle" fill="#000" transform="translate(922.6 0) scale(1.2 1) translate(-922.6 0)">20</text>
<text x="952.1" y="448.3" font-size="13" font-weight="bold" text-anchor="middle" fill="#000" transform="translate(952.1 0) scale(1.2 1) translate(-952.1 0)">25</text>
<text x="702" y="331.2" font-size="13.2" font-weight="bold" text-anchor="middle" fill="#000" transform="translate(702 331.2) scale(1.15 1) rotate(-90) translate(-702 -331.2)">R+<tspan font-style="italic">α</tspan>(Å)</text>
<text x="846" y="465" font-size="13" font-weight="bold" text-anchor="middle" fill="#000" transform="translate(846 0) scale(1.2 1) translate(-846 0)">K (Å<tspan font-size="8.84" dy="-4.94">-1</tspan><tspan dy="4.94">)</tspan></text>
<text x="662.1" y="251.9" font-size="24.7" font-weight="normal" text-anchor="start" fill="#000" transform="translate(662.1 0) scale(0.88 1) translate(-662.1 0)">(f)</text>
<path d="M82,658.5 C85,658.47 92.67,658.38 100,658.3 C107.33,658.22 121.08,659.72 126,658 C130.92,656.28 128.58,656 129.5,648 C130.42,640 130.92,626.33 131.5,610 C132.08,593.67 132.58,563.83 133,550 C133.42,536.17 133.67,530.67 134,527 C134.33,523.33 134.58,525 135,528 C135.42,531 135.83,540 136.5,545 C137.17,550 137.92,554.5 139,558 C140.08,561.5 141.67,564.33 143,566 C144.33,567.67 145.67,569 147,568 C148.33,567 149.67,562.67 151,560 C152.33,557.33 153.5,552.83 155,552 C156.5,551.17 157.83,554 160,555 C162.17,556 165.17,557.83 168,558 C170.83,558.17 173.83,556.17 177,556 C180.17,555.83 183.83,557.17 187,557 C190.17,556.83 192.67,555 196,555 C199.33,555 203,556.83 207,557 C211,557.17 214.5,556.17 220,556 C225.5,555.83 233,556.33 240,556 C247,555.67 255.33,554 262,554 C268.67,554 273.67,555.75 280,556 C286.33,556.25 293.42,555.5 300,555.5 C306.58,555.5 316.25,555.92 319.5,556" stroke="#e8a5b6" stroke-width="2" fill="none" stroke-linejoin="round" stroke-linecap="round"/>
<path d="M82,658.5 C85,658.47 92.67,658.38 100,658.3 C107.33,658.22 121.08,659.38 126,658 C130.92,656.62 128.58,656.33 129.5,650 C130.42,643.67 130.83,635 131.5,620 C132.17,605 133,574.17 133.5,560 C134,545.83 134.23,540.87 134.5,535 C134.77,529.13 134.82,525.63 135.1,524.8 C135.38,523.97 135.7,526.48 136.2,530 C136.7,533.52 137.18,540.85 138.1,545.9 C139.02,550.95 140.4,555.85 141.7,560.3 C143,564.75 144.52,572.08 145.9,572.6 C147.28,573.12 148.47,567.08 150,563.4 C151.53,559.72 153.22,551.97 155.1,550.5 C156.98,549.03 159.07,553.32 161.3,554.6 C163.53,555.88 165.93,557.93 168.5,558.2 C171.07,558.47 173.62,556.37 176.7,556.2 C179.78,556.03 183.92,557.55 187,557.2 C190.08,556.85 191.77,554.1 195.2,554.1 C198.63,554.1 203.47,556.88 207.6,557.2 C211.73,557.52 214.6,556.12 220,556 C225.4,555.88 233,556.92 240,556.5 C247,556.08 255.33,553.58 262,553.5 C268.67,553.42 273.67,555.75 280,556 C286.33,556.25 293.42,555 300,555 C306.58,555 316.25,555.83 319.5,556" stroke="#f4876e" stroke-width="2" fill="none" stroke-linejoin="round" stroke-linecap="round"/>
<path d="M82,658.5 C85,658.52 93,658.63 100,658.6 C107,658.57 119.5,658.9 124,658.3 C128.5,657.7 126.25,658.05 127,655 C127.75,651.95 128,649.17 128.5,640 C129,630.83 129.5,612.5 130,600 C130.5,587.5 130.92,572.65 131.5,565 C132.08,557.35 132.82,553.52 133.5,554.1 C134.18,554.68 134.93,566.35 135.6,568.5 C136.27,570.65 136.82,567.68 137.5,567 C138.18,566.32 138.65,565.87 139.7,564.4 C140.75,562.93 142.43,558.88 143.8,558.2 C145.17,557.52 146.27,558.93 147.9,560.3 C149.53,561.67 151.72,566.92 153.6,566.4 C155.48,565.88 157.4,557.37 159.2,557.2 C161,557.03 162.6,567.28 164.4,565.4 C166.2,563.52 167.95,545.9 170,545.9 C172.05,545.9 174.55,563 176.7,565.4 C178.85,567.8 180.67,562.02 182.9,560.3 C185.13,558.58 187.87,557.08 190.1,555.1 C192.33,553.12 194.25,547.88 196.3,548.4 C198.35,548.92 200.52,556.57 202.4,558.2 C204.28,559.83 205.38,558.07 207.6,558.2 C209.82,558.33 213.3,560.03 215.7,559 C218.1,557.97 219.92,553.7 222,552 C224.08,550.3 225.8,547.72 228.2,548.8 C230.6,549.88 232.73,557.25 236.4,558.5 C240.07,559.75 245.8,557.38 250.2,556.3 C254.6,555.22 258.2,551.97 262.8,552 C267.4,552.03 272.93,556 277.8,556.5 C282.67,557 287.18,555.45 292,555 C296.82,554.55 302.12,553.72 306.7,553.8 C311.28,553.88 317.37,555.22 319.5,555.5" stroke="#555555" stroke-width="2" fill="none" stroke-linejoin="round" stroke-linecap="round"/>
<path d="M82,658.5 C85,658.55 92.83,658.8 100,658.8 C107.17,658.8 120.33,659.3 125,658.5 C129.67,657.7 127.25,658.75 128,654 C128.75,649.25 129,642.33 129.5,630 C130,617.67 130.53,595 131,580 C131.47,565 131.92,549.2 132.3,540 C132.68,530.8 132.97,525.63 133.3,524.8 C133.63,523.97 133.92,530.12 134.3,535 C134.68,539.88 135.15,550.27 135.6,554.1 C136.05,557.93 136.48,557.48 137,558 C137.52,558.52 138.12,556.7 138.7,557.2 C139.28,557.7 139.82,559.55 140.5,561 C141.18,562.45 141.82,566.02 142.8,565.9 C143.78,565.78 145.37,562.78 146.4,560.3 C147.43,557.82 148.15,553.07 149,551 C149.85,548.93 150.67,547.73 151.5,547.9 C152.33,548.07 153.22,550.62 154,552 C154.78,553.38 155.15,555.08 156.2,556.2 C157.25,557.32 158.93,558.62 160.3,558.7 C161.67,558.78 162.68,557.38 164.4,556.7 C166.12,556.02 168.55,554.27 170.6,554.6 C172.65,554.93 174.82,558.7 176.7,558.7 C178.58,558.7 179.83,555.45 181.9,554.6 C183.97,553.75 187.22,553.6 189.1,553.6 C190.98,553.6 191.48,553.92 193.2,554.6 C194.92,555.28 197,557.7 199.4,557.7 C201.8,557.7 204.17,555.05 207.6,554.6 C211.03,554.15 214.6,554.85 220,555 C225.4,555.15 233.33,555.58 240,555.5 C246.67,555.42 253.33,554.53 260,554.5 C266.67,554.47 273.33,555.22 280,555.3 C286.67,555.38 293.42,554.97 300,555 C306.58,555.03 316.25,555.42 319.5,555.5" stroke="#4a88cc" stroke-width="2" fill="none" stroke-linejoin="round" stroke-linecap="round"/>
<path d="M82,658.5 C83.33,658.75 87,659.98 90,660 C93,660.02 94.33,658.88 100,658.6 C105.67,658.32 119.5,658.9 124,658.3 C128.5,657.7 126.25,658.05 127,655 C127.75,651.95 128,649.17 128.5,640 C129,630.83 129.5,612.5 130,600 C130.5,587.5 130.92,572.83 131.5,565 C132.08,557.17 132.82,552.83 133.5,553 C134.18,553.17 134.93,564.33 135.6,566 C136.27,567.67 136.82,563.83 137.5,563 C138.18,562.17 138.65,562 139.7,561 C140.75,560 142.43,557.42 143.8,557 C145.17,556.58 146.27,557.42 147.9,558.5 C149.53,559.58 151.72,563.92 153.6,563.5 C155.48,563.08 157.4,556.08 159.2,556 C161,555.92 162.6,564.78 164.4,563 C166.2,561.22 167.95,545.3 170,545.3 C172.05,545.3 174.55,560.72 176.7,563 C178.85,565.28 180.67,560.5 182.9,559 C185.13,557.5 187.87,555.67 190.1,554 C192.33,552.33 194.25,548.5 196.3,549 C198.35,549.5 200.52,555.58 202.4,557 C204.28,558.42 205.38,557.2 207.6,557.5 C209.82,557.8 213.3,559.63 215.7,558.8 C218.1,557.97 219.92,554.07 222,552.5 C224.08,550.93 225.8,548.45 228.2,549.4 C230.6,550.35 232.73,557.05 236.4,558.2 C240.07,559.35 245.8,557.23 250.2,556.3 C254.6,555.37 258.2,552.6 262.8,552.6 C267.4,552.6 272.93,555.9 277.8,556.3 C282.67,556.7 287.18,555.37 292,555 C296.82,554.63 302.12,554.05 306.7,554.1 C311.28,554.15 317.37,555.1 319.5,555.3" stroke="#ff6e6e" stroke-width="2" fill="none" stroke-linejoin="round" stroke-linecap="round"/>
<line x1="190.1" y1="480.1" x2="211" y2="480.1" stroke="#e8a5b6" stroke-width="2.2" stroke-linecap="butt"/>
<line x1="190.1" y1="496.9" x2="211" y2="496.9" stroke="#f4876e" stroke-width="2.2" stroke-linecap="butt"/>
<line x1="190.1" y1="514" x2="211" y2="514" stroke="#555555" stroke-width="2.2" stroke-linecap="butt"/>
<line x1="190.1" y1="528.9" x2="211" y2="528.9" stroke="#4a88cc" stroke-width="2.2" stroke-linecap="butt"/>
<line x1="190.1" y1="543.4" x2="211" y2="543.4" stroke="#ff6e6e" stroke-width="2.2" stroke-linecap="butt"/>
<text x="216.6" y="483.7" font-size="11.6" font-weight="bold" text-anchor="start" fill="#000">Fe<tspan font-size="7.66" dy="3.02">3</tspan><tspan dy="-3.02">O</tspan><tspan font-size="7.66" dy="3.02">4</tspan></text>
<text x="216.6" y="500.6" font-size="11.6" font-weight="bold" text-anchor="start" fill="#000">Fe<tspan font-size="7.66" dy="3.02">2</tspan><tspan dy="-3.02">O</tspan><tspan font-size="7.66" dy="3.02">3</tspan></text>
<text x="216.6" y="517.4" font-size="11.6" font-weight="bold" text-anchor="start" fill="#000">Fe-foil</text>
<text x="216.6" y="531.9" font-size="11.6" font-weight="bold" text-anchor="start" fill="#000">FeO</text>
<text x="216.6" y="547.3" font-size="11.6" font-weight="bold" text-anchor="start" fill="#000">CoFe/CoFe<tspan font-size="7.66" dy="3.02">2</tspan><tspan dy="-3.02">O</tspan><tspan font-size="7.66" dy="3.02">4</tspan><tspan dy="-3.02">@NC</tspan></text>
<text x="95" y="490" font-size="12.5" font-weight="bold" text-anchor="start" fill="#000">Fe K-edge</text>
<rect x="209.2" y="576.5" width="92.0" height="70.20000000000005" fill="#fff"/>
<line x1="249.5" y1="646.7" x2="252" y2="576.5" stroke="#4a88cc" stroke-width="0.9" stroke-linecap="butt"/>
<line x1="251" y1="646.7" x2="253.5" y2="576.5" stroke="#555555" stroke-width="0.9" stroke-linecap="butt"/>
<line x1="253.3" y1="646.7" x2="257.4" y2="576.5" stroke="#ff6e6e" stroke-width="0.9" stroke-linecap="butt"/>
<line x1="252.5" y1="646.7" x2="256" y2="576.5" stroke="#e8a5b6" stroke-width="0.9" stroke-linecap="butt"/>
<line x1="260.7" y1="646.7" x2="263.5" y2="576.5" stroke="#f4876e" stroke-width="0.9" stroke-linecap="butt"/>
<rect x="209.2" y="576.5" width="92" height="70.2" stroke="#444" stroke-width="0.9" fill="none"/>
<line x1="209.2" y1="576.5" x2="301.2" y2="576.5" stroke="#777" stroke-width="1.6" stroke-linecap="butt"/>
<text x="207.3" y="579.1" font-size="5.4" font-weight="bold" text-anchor="end" fill="#000">0.62</text>
<line x1="209.2" y1="577.1" x2="210.7" y2="577.1" stroke="#444" stroke-width="0.6" stroke-linecap="butt"/>
<text x="207.3" y="589.9" font-size="5.4" font-weight="bold" text-anchor="end" fill="#000">0.60</text>
<line x1="209.2" y1="587.9" x2="210.7" y2="587.9" stroke="#444" stroke-width="0.6" stroke-linecap="butt"/>
<text x="207.3" y="600.9" font-size="5.4" font-weight="bold" text-anchor="end" fill="#000">0.58</text>
<line x1="209.2" y1="598.9" x2="210.7" y2="598.9" stroke="#444" stroke-width="0.6" stroke-linecap="butt"/>
<text x="207.3" y="611.6" font-size="5.4" font-weight="bold" text-anchor="end" fill="#000">0.56</text>
<line x1="209.2" y1="609.6" x2="210.7" y2="609.6" stroke="#444" stroke-width="0.6" stroke-linecap="butt"/>
<text x="207.3" y="622.5" font-size="5.4" font-weight="bold" text-anchor="end" fill="#000">0.54</text>
<line x1="209.2" y1="620.5" x2="210.7" y2="620.5" stroke="#444" stroke-width="0.6" stroke-linecap="butt"/>
<text x="207.3" y="633.3" font-size="5.4" font-weight="bold" text-anchor="end" fill="#000">0.52</text>
<line x1="209.2" y1="631.3" x2="210.7" y2="631.3" stroke="#444" stroke-width="0.6" stroke-linecap="butt"/>
<text x="207.3" y="644.2" font-size="5.4" font-weight="bold" text-anchor="end" fill="#000">0.50</text>
<line x1="209.2" y1="642.2" x2="210.7" y2="642.2" stroke="#444" stroke-width="0.6" stroke-linecap="butt"/>
<text x="209.2" y="652.1" font-size="5.6" font-weight="bold" text-anchor="middle" fill="#000">7100</text>
<line x1="209.2" y1="646.7" x2="209.2" y2="645.2" stroke="#444" stroke-width="0.6" stroke-linecap="butt"/>
<text x="230.2" y="652.1" font-size="5.6" font-weight="bold" text-anchor="middle" fill="#000">7110</text>
<line x1="230.2" y1="646.7" x2="230.2" y2="645.2" stroke="#444" stroke-width="0.6" stroke-linecap="butt"/>
<text x="251.2" y="652.1" font-size="5.6" font-weight="bold" text-anchor="middle" fill="#000">7120</text>
<line x1="251.2" y1="646.7" x2="251.2" y2="645.2" stroke="#444" stroke-width="0.6" stroke-linecap="butt"/>
<text x="273" y="652.1" font-size="5.6" font-weight="bold" text-anchor="middle" fill="#000">7130</text>
<line x1="273" y1="646.7" x2="273" y2="645.2" stroke="#444" stroke-width="0.6" stroke-linecap="butt"/>
<text x="293.3" y="652.1" font-size="5.6" font-weight="bold" text-anchor="middle" fill="#000">7140</text>
<line x1="293.3" y1="646.7" x2="293.3" y2="645.2" stroke="#444" stroke-width="0.6" stroke-linecap="butt"/>
<text x="255.6" y="658.9" font-size="6.2" font-weight="bold" text-anchor="middle" fill="#000">Energy (eV)</text>
<text x="195" y="611.7" font-size="5.9" font-weight="bold" text-anchor="middle" fill="#000" transform="rotate(-90 195 611.7)">Normalized Adsorption (a.u.)</text>
<rect x="81.7" y="472.7" width="238.2" height="189.7" stroke="#000" stroke-width="1.8" fill="none"/>
<line x1="81.7" y1="658.4" x2="84.7" y2="658.4" stroke="#000" stroke-width="1.4" stroke-linecap="butt"/>
<line x1="81.7" y1="637.8" x2="83.5" y2="637.8" stroke="#000" stroke-width="1.4" stroke-linecap="butt"/>
<line x1="81.7" y1="617.2" x2="84.7" y2="617.2" stroke="#000" stroke-width="1.4" stroke-linecap="butt"/>
<line x1="81.7" y1="596.6" x2="83.5" y2="596.6" stroke="#000" stroke-width="1.4" stroke-linecap="butt"/>
<line x1="81.7" y1="576" x2="84.7" y2="576" stroke="#000" stroke-width="1.4" stroke-linecap="butt"/>
<line x1="81.7" y1="555.4" x2="83.5" y2="555.4" stroke="#000" stroke-width="1.4" stroke-linecap="butt"/>
<line x1="81.7" y1="534.8" x2="84.7" y2="534.8" stroke="#000" stroke-width="1.4" stroke-linecap="butt"/>
<line x1="81.7" y1="514.2" x2="83.5" y2="514.2" stroke="#000" stroke-width="1.4" stroke-linecap="butt"/>
<line x1="81.7" y1="493.6" x2="84.7" y2="493.6" stroke="#000" stroke-width="1.4" stroke-linecap="butt"/>
<text x="77.8" y="662.7" font-size="12.6" font-weight="bold" text-anchor="end" fill="#000">0.0</text>
<text x="77.8" y="621.5" font-size="12.6" font-weight="bold" text-anchor="end" fill="#000">0.4</text>
<text x="77.8" y="580.3" font-size="12.6" font-weight="bold" text-anchor="end" fill="#000">0.8</text>
<text x="77.8" y="539.1" font-size="12.6" font-weight="bold" text-anchor="end" fill="#000">1.2</text>
<text x="77.8" y="497.9" font-size="12.6" font-weight="bold" text-anchor="end" fill="#000">1.6</text>
<line x1="81.5" y1="662.4" x2="81.5" y2="659.4" stroke="#000" stroke-width="1.4" stroke-linecap="butt"/>
<line x1="101.35" y1="662.4" x2="101.35" y2="660.6" stroke="#000" stroke-width="1.4" stroke-linecap="butt"/>
<line x1="121.2" y1="662.4" x2="121.2" y2="659.4" stroke="#000" stroke-width="1.4" stroke-linecap="butt"/>
<line x1="141.05" y1="662.4" x2="141.05" y2="660.6" stroke="#000" stroke-width="1.4" stroke-linecap="butt"/>
<line x1="160.9" y1="662.4" x2="160.9" y2="659.4" stroke="#000" stroke-width="1.4" stroke-linecap="butt"/>
<line x1="180.75" y1="662.4" x2="180.75" y2="660.6" stroke="#000" stroke-width="1.4" stroke-linecap="butt"/>
<line x1="200.6" y1="662.4" x2="200.6" y2="659.4" stroke="#000" stroke-width="1.4" stroke-linecap="butt"/>
<line x1="220.45" y1="662.4" x2="220.45" y2="660.6" stroke="#000" stroke-width="1.4" stroke-linecap="butt"/>
<line x1="240.3" y1="662.4" x2="240.3" y2="659.4" stroke="#000" stroke-width="1.4" stroke-linecap="butt"/>
<line x1="260.15" y1="662.4" x2="260.15" y2="660.6" stroke="#000" stroke-width="1.4" stroke-linecap="butt"/>
<line x1="280" y1="662.4" x2="280" y2="659.4" stroke="#000" stroke-width="1.4" stroke-linecap="butt"/>
<line x1="299.85" y1="662.4" x2="299.85" y2="660.6" stroke="#000" stroke-width="1.4" stroke-linecap="butt"/>
<line x1="319.7" y1="662.4" x2="319.7" y2="659.4" stroke="#000" stroke-width="1.4" stroke-linecap="butt"/>
<text x="81.5" y="677.3" font-size="12.7" font-weight="bold" text-anchor="middle" fill="#000">7000</text>
<text x="121.2" y="677.3" font-size="12.7" font-weight="bold" text-anchor="middle" fill="#000">7100</text>
<text x="160.9" y="677.3" font-size="12.7" font-weight="bold" text-anchor="middle" fill="#000">7200</text>
<text x="200.6" y="677.3" font-size="12.7" font-weight="bold" text-anchor="middle" fill="#000">7300</text>
<text x="240.3" y="677.3" font-size="12.7" font-weight="bold" text-anchor="middle" fill="#000">7400</text>
<text x="280" y="677.3" font-size="12.7" font-weight="bold" text-anchor="middle" fill="#000">7500</text>
<text x="319.7" y="677.3" font-size="12.7" font-weight="bold" text-anchor="middle" fill="#000">7600</text>
<text x="200.8" y="691.3" font-size="12.4" font-weight="bold" text-anchor="middle" fill="#000">Energy (eV)</text>
<text x="58.5" y="567.5" font-size="12.7" font-weight="bold" text-anchor="middle" fill="#000" transform="rotate(-90 58.5 567.5)">Normalized Adsorption (a.u.)</text>
<text x="8.9" y="489.4" font-size="24.7" font-weight="normal" text-anchor="start" fill="#000" transform="translate(8.9 0) scale(0.88 1) translate(-8.9 0)">(g)</text>
<path d="M402.5,511.2 C404.58,511.17 410.48,511.28 415,511 C419.52,510.72 426.27,510.08 429.6,509.5 C432.93,508.92 433.35,508 435,507.5 C436.65,507 438.17,507.25 439.5,506.5 C440.83,505.75 441.75,504.92 443,503 C444.25,501.08 445.67,497.42 447,495 C448.33,492.58 449.65,489.92 451,488.5 C452.35,487.08 453.77,486.5 455.1,486.5 C456.43,486.5 457.68,487.08 459,488.5 C460.32,489.92 461.67,492.42 463,495 C464.33,497.58 465.7,501.45 467,504 C468.3,506.55 469.13,509.47 470.8,510.3 C472.47,511.13 475.13,509.63 477,509 C478.87,508.37 480.3,507.1 482,506.5 C483.7,505.9 485.53,505.23 487.2,505.4 C488.87,505.57 490.35,506.82 492,507.5 C493.65,508.18 495.43,510.42 497.1,509.5 C498.77,508.58 500.6,504 502,502 C503.4,500 504.4,498.45 505.5,497.5 C506.6,496.55 507.52,496.13 508.6,496.3 C509.68,496.47 510.77,497.22 512,498.5 C513.23,499.78 514.37,502.17 516,504 C517.63,505.83 519.47,508.58 521.8,509.5 C524.13,510.42 526.22,509.3 530,509.5 C533.78,509.7 540.1,510.78 544.5,510.7 C548.9,510.62 551.32,509 556.4,509 C561.48,509 567.93,510.75 575,510.7 C582.07,510.65 592,508.75 598.8,508.7 C605.6,508.65 609,510.07 615.8,510.4 C622.6,510.73 635.63,510.65 639.6,510.7" stroke="#f36a6a" stroke-width="1.7" fill="none" stroke-linejoin="round" stroke-linecap="round"/>
<path d="M402.5,539.1 C403.75,539.17 407.12,539.5 410,539.5 C412.88,539.5 417.08,539.57 419.8,539.1 C422.52,538.63 424.25,536.92 426.3,536.7 C428.35,536.48 430.48,538.17 432.1,537.8 C433.72,537.43 434.63,535.43 436,534.5 C437.37,533.57 438.8,532.12 440.3,532.2 C441.8,532.28 443.07,533.85 445,535 C446.93,536.15 450.07,539.1 451.9,539.1 C453.73,539.1 454.65,536.85 456,535 C457.35,533.15 458.83,529.67 460,528 C461.17,526.33 461.97,525.55 463,525 C464.03,524.45 465.12,524.37 466.2,524.7 C467.28,525.03 468.37,525.62 469.5,527 C470.63,528.38 471.68,531.3 473,533 C474.32,534.7 475.3,536.12 477.4,537.2 C479.5,538.28 483.13,539.58 485.6,539.5 C488.07,539.42 489.8,537.12 492.2,536.7 C494.6,536.28 496.17,537.2 500,537 C503.83,536.8 511.53,535.5 515.2,535.5 C518.87,535.5 519.67,536.55 522,537 C524.33,537.45 526.87,538.28 529.2,538.2 C531.53,538.12 532.88,536.4 536,536.5 C539.12,536.6 543.9,538.3 547.9,538.8 C551.9,539.3 554.65,539.42 560,539.5 C565.35,539.58 573.33,539.28 580,539.3 C586.67,539.32 590.07,539.55 600,539.6 C609.93,539.65 633,539.6 639.6,539.6" stroke="#4a8fd2" stroke-width="1.7" fill="none" stroke-linejoin="round" stroke-linecap="round"/>
<path d="M402.5,572.9 C403.75,572.83 407.4,573.05 410,572.5 C412.6,571.95 415.65,570.22 418.1,569.6 C420.55,568.98 422.88,569.23 424.7,568.8 C426.52,568.37 427.62,567.8 429,567 C430.38,566.2 431.58,565 433,564 C434.42,563 436.17,561 437.5,561 C438.83,561 439.58,562.5 441,564 C442.42,565.5 444.05,568.58 446,570 C447.95,571.42 451.03,572.83 452.7,572.5 C454.37,572.17 454.87,570.08 456,568 C457.13,565.92 458.27,562 459.5,560 C460.73,558 462.15,556.42 463.4,556 C464.65,555.58 465.5,556.7 467,557.5 C468.5,558.3 470.67,560.15 472.4,560.8 C474.13,561.45 475.8,560.7 477.4,561.4 C479,562.1 480.63,563.73 482,565 C483.37,566.27 484.27,567.92 485.6,569 C486.93,570.08 488.38,570.88 490,571.5 C491.62,572.12 493.3,572.83 495.3,572.7 C497.3,572.57 499.88,571.15 502,570.7 C504.12,570.25 505.73,570.32 508,570 C510.27,569.68 513.43,568.8 515.6,568.8 C517.77,568.8 519.3,569.48 521,570 C522.7,570.52 523.47,571.48 525.8,571.9 C528.13,572.32 531.88,572.37 535,572.5 C538.12,572.63 540.33,572.78 544.5,572.7 C548.67,572.62 554.08,572.03 560,572 C565.92,571.97 573.33,572.42 580,572.5 C586.67,572.58 590.07,572.47 600,572.5 C609.93,572.53 633,572.67 639.6,572.7" stroke="#f2826f" stroke-width="1.7" fill="none" stroke-linejoin="round" stroke-linecap="round"/>
<path d="M402.5,609.4 C403.75,609.42 407.12,609.63 410,609.5 C412.88,609.37 417.3,609.02 419.8,608.6 C422.3,608.18 423.3,607.77 425,607 C426.7,606.23 428.18,605.03 430,604 C431.82,602.97 434.23,600.97 435.9,600.8 C437.57,600.63 438.48,601.97 440,603 C441.52,604.03 443.17,606.07 445,607 C446.83,607.93 449.33,608.77 451,608.6 C452.67,608.43 453.67,607.6 455,606 C456.33,604.4 457.47,600.77 459,599 C460.53,597.23 462.53,595.65 464.2,595.4 C465.87,595.15 467.35,597.03 469,597.5 C470.65,597.97 472.6,597.62 474.1,598.2 C475.6,598.78 476.68,599.7 478,601 C479.32,602.3 480.73,604.6 482,606 C483.27,607.4 483.9,608.97 485.6,609.4 C487.3,609.83 489.8,608.83 492.2,608.6 C494.6,608.37 496.37,608.47 500,608 C503.63,607.53 509.83,605.88 514,605.8 C518.17,605.72 519.92,606.87 525,607.5 C530.08,608.13 537.85,609.25 544.5,609.6 C551.15,609.95 555.65,609.63 564.9,609.6 C574.15,609.57 587.55,609.47 600,609.4 C612.45,609.33 633,609.23 639.6,609.2" stroke="#e6a3b3" stroke-width="1.7" fill="none" stroke-linejoin="round" stroke-linecap="round"/>
<path d="M402.5,650.5 C404.58,650.42 411.25,650 415,650 C418.75,650 421.18,650.97 425,650.5 C428.82,650.03 434.93,647.52 437.9,647.2 C440.87,646.88 441.45,649.8 442.8,648.6 C444.15,647.4 444.8,643.93 446,640 C447.2,636.07 448.83,628.5 450,625 C451.17,621.5 452.15,620.1 453,619 C453.85,617.9 454.35,618.32 455.1,618.4 C455.85,618.48 456.52,618.07 457.5,619.5 C458.48,620.93 459.75,623.58 461,627 C462.25,630.42 463.37,636.08 465,640 C466.63,643.92 468.8,649.17 470.8,650.5 C472.8,651.83 475.13,648.92 477,648 C478.87,647.08 480.3,645.53 482,645 C483.7,644.47 485.53,644.47 487.2,644.8 C488.87,645.13 490.35,646.18 492,647 C493.65,647.82 495.43,650.53 497.1,649.7 C498.77,648.87 500.6,644.62 502,642 C503.4,639.38 504.4,635.73 505.5,634 C506.6,632.27 507.52,631.6 508.6,631.6 C509.68,631.6 510.77,632.27 512,634 C513.23,635.73 514.37,639.25 516,642 C517.63,644.75 519.97,649.5 521.8,650.5 C523.63,651.5 525.08,648.77 527,648 C528.92,647.23 531.47,645.82 533.3,645.9 C535.13,645.98 536.62,647.67 538,648.5 C539.38,649.33 539.6,650.73 541.6,650.9 C543.6,651.07 545.55,649.88 550,649.5 C554.45,649.12 563.27,648.38 568.3,648.6 C573.33,648.82 575.12,651 580.2,650.8 C585.28,650.6 593.43,647.4 598.8,647.4 C604.17,647.4 608.15,650.6 612.4,650.8 C616.65,651 619.77,648.53 624.3,648.6 C628.83,648.67 637.05,650.77 639.6,651.2" stroke="#585858" stroke-width="1.7" fill="none" stroke-linejoin="round" stroke-linecap="round"/>
<line x1="454.9" y1="479.5" x2="454.9" y2="513.1" stroke="#333" stroke-width="1.3" stroke-dasharray="4 3" stroke-linecap="butt"/>
<line x1="455.1" y1="608.4" x2="455.1" y2="642.3" stroke="#333" stroke-width="1.3" stroke-dasharray="4 3" stroke-linecap="butt"/>
<line x1="435.2" y1="489.3" x2="435.2" y2="526.6" stroke="#c85050" stroke-width="1.3" stroke-dasharray="4 3" stroke-linecap="butt"/>
<line x1="440.4" y1="518.3" x2="440.4" y2="552.5" stroke="#c85050" stroke-width="1.3" stroke-dasharray="4 3" stroke-linecap="butt"/>
<line x1="437.9" y1="548.3" x2="437.9" y2="583.5" stroke="#c85050" stroke-width="1.3" stroke-dasharray="4 3" stroke-linecap="butt"/>
<line x1="436.2" y1="581.5" x2="436.2" y2="616.7" stroke="#c85050" stroke-width="1.3" stroke-dasharray="4 3" stroke-linecap="butt"/>
<text x="465.8" y="490.1" font-size="10.7" font-weight="bold" text-anchor="start" fill="#000">Fe-Fe/Co</text>
<text x="543.1" y="499.7" font-size="10.8" font-weight="bold" text-anchor="start" fill="#000">CoFe/CoFe<tspan font-size="7.13" dy="2.81">2</tspan><tspan dy="-2.81">O</tspan><tspan font-size="7.13" dy="2.81">4</tspan><tspan dy="-2.81">@NC</tspan></text>
<text x="592.9" y="532.8" font-size="10.8" font-weight="bold" text-anchor="start" fill="#000">FeO</text>
<text x="592.9" y="565.4" font-size="10.8" font-weight="bold" text-anchor="start" fill="#000">Fe<tspan font-size="7.13" dy="2.81">2</tspan><tspan dy="-2.81">O</tspan><tspan font-size="7.13" dy="2.81">3</tspan></text>
<text x="592.9" y="600.4" font-size="10.8" font-weight="bold" text-anchor="start" fill="#000">Fe<tspan font-size="7.13" dy="2.81">3</tspan><tspan dy="-2.81">O</tspan><tspan font-size="7.13" dy="2.81">4</tspan></text>
<text x="592.9" y="642.8" font-size="10.8" font-weight="bold" text-anchor="start" fill="#000">Fe-foil</text>
<text x="409" y="526" font-size="10.5" font-weight="bold" text-anchor="start" fill="#c23b3b">Fe-O</text>
<text x="407.9" y="588.8" font-size="10.5" font-weight="bold" text-anchor="start" fill="#c23b3b">Fe-O</text>
<text x="465.8" y="623.9" font-size="10.7" font-weight="bold" text-anchor="start" fill="#000">Fe-Fe</text>
<rect x="402.5" y="473.2" width="237.4" height="190" stroke="#000" stroke-width="1.8" fill="none"/>
<line x1="402.5" y1="663.2" x2="402.5" y2="660.2" stroke="#000" stroke-width="1.4" stroke-linecap="butt"/>
<line x1="426.25" y1="663.2" x2="426.25" y2="661.4" stroke="#000" stroke-width="1.4" stroke-linecap="butt"/>
<line x1="450" y1="663.2" x2="450" y2="660.2" stroke="#000" stroke-width="1.4" stroke-linecap="butt"/>
<line x1="473.75" y1="663.2" x2="473.75" y2="661.4" stroke="#000" stroke-width="1.4" stroke-linecap="butt"/>
<line x1="497.5" y1="663.2" x2="497.5" y2="660.2" stroke="#000" stroke-width="1.4" stroke-linecap="butt"/>
<line x1="521.25" y1="663.2" x2="521.25" y2="661.4" stroke="#000" stroke-width="1.4" stroke-linecap="butt"/>
<line x1="545" y1="663.2" x2="545" y2="660.2" stroke="#000" stroke-width="1.4" stroke-linecap="butt"/>
<line x1="568.75" y1="663.2" x2="568.75" y2="661.4" stroke="#000" stroke-width="1.4" stroke-linecap="butt"/>
<line x1="592.5" y1="663.2" x2="592.5" y2="660.2" stroke="#000" stroke-width="1.4" stroke-linecap="butt"/>
<line x1="616.25" y1="663.2" x2="616.25" y2="661.4" stroke="#000" stroke-width="1.4" stroke-linecap="butt"/>
<line x1="640" y1="663.2" x2="640" y2="660.2" stroke="#000" stroke-width="1.4" stroke-linecap="butt"/>
<text x="402.5" y="677.5" font-size="12" font-weight="bold" text-anchor="middle" fill="#000">0</text>
<text x="450" y="677.5" font-size="12" font-weight="bold" text-anchor="middle" fill="#000">2</text>
<text x="497.5" y="677.5" font-size="12" font-weight="bold" text-anchor="middle" fill="#000">4</text>
<text x="545" y="677.5" font-size="12" font-weight="bold" text-anchor="middle" fill="#000">6</text>
<text x="592.5" y="677.5" font-size="12" font-weight="bold" text-anchor="middle" fill="#000">8</text>
<text x="640" y="677.5" font-size="12" font-weight="bold" text-anchor="middle" fill="#000">10</text>
<text x="523" y="692.5" font-size="12.2" font-weight="bold" text-anchor="middle" fill="#000">R (Å)</text>
<text x="393.5" y="568.4" font-size="12" font-weight="bold" text-anchor="middle" fill="#000" transform="rotate(-90 393.5 568.4)" textLength="101.4" lengthAdjust="spacingAndGlyphs">|FT (k<tspan font-size="8.16" dy="-4.56">3</tspan><tspan dy="4.56"> </tspan><tspan font-style="italic">χ</tspan>(k))| (a.u.)</text>
<text x="343" y="489.4" font-size="24.7" font-weight="normal" text-anchor="start" fill="#000" transform="translate(343 0) scale(0.88 1) translate(-343 0)">(h)</text>
<g clip-path="url(#clipi)">
<g filter="url(#hoti)">
<rect x="703.5" y="451.4" width="283.8" height="230.6" stroke="none" stroke-width="0" fill="#000"/>
<path d="M762,652 L932,652 L925,630 L897,600 L880,560 L871,465 L827,465 L815,540 L795,600 L770,628 Z" stroke="none" stroke-width="1" fill="#292929" stroke-linejoin="round" stroke-linecap="round"/>
<path d="M784,644 L918,644 L895,614 L876,566 L867,465 L832,465 L822,540 L800,605 Z" stroke="none" stroke-width="1" fill="#474747" stroke-linejoin="round" stroke-linecap="round"/>
<ellipse cx="846" cy="580" rx="43" ry="35" fill="#737373"/>
<ellipse cx="840" cy="623" rx="50" ry="17" fill="#6e6e6e"/>
<ellipse cx="856" cy="512" rx="18" ry="44" fill="#707070" transform="rotate(10 856 512)"/>
<ellipse cx="846" cy="579" rx="33" ry="29" fill="#878787"/>
<ellipse cx="839" cy="622" rx="40" ry="13" fill="#878787"/>
<ellipse cx="857" cy="511" rx="11" ry="30" fill="#878787" transform="rotate(10 857 511)"/>
<ellipse cx="846" cy="574" rx="27" ry="27" fill="#a1a1a1"/>
<ellipse cx="839" cy="621" rx="31" ry="10.5" fill="#a3a3a3"/>
<ellipse cx="857" cy="511" rx="5.5" ry="15" fill="#9c9c9c" transform="rotate(10 857 511)"/>
<ellipse cx="846" cy="577" rx="21" ry="20" fill="#bdbdbd"/>
<ellipse cx="839" cy="620.5" rx="25" ry="7.5" fill="#bababa"/>
<ellipse cx="846.3" cy="577" rx="16" ry="16.5" fill="#d6d6d6"/>
<ellipse cx="839" cy="620.5" rx="15" ry="4.5" fill="#cccccc"/>
<ellipse cx="846.5" cy="577.3" rx="11" ry="12.5" fill="#ebebeb"/>
<ellipse cx="846.6" cy="577.4" rx="6.5" ry="7.5" fill="#ffffff"/>
</g>
<g filter="url(#bl15)" fill="#1e0000">
<ellipse cx="836" cy="603.8" rx="5.5" ry="2.5" opacity="0.9"/>
<ellipse cx="875.4" cy="576.7" rx="4.5" ry="3.5" opacity="0.85"/>
<ellipse cx="873.7" cy="599.5" rx="5.5" ry="2.4" opacity="0.8"/>
<ellipse cx="816" cy="568" rx="3" ry="3" opacity="0.6"/>
<ellipse cx="850" cy="540" rx="3" ry="4" opacity="0.85"/>
<ellipse cx="862.9" cy="540" rx="3" ry="4" opacity="0.85"/>
<ellipse cx="877.9" cy="495.7" rx="2.2" ry="6.5" opacity="0.6"/>
<ellipse cx="876.4" cy="528.6" rx="2.2" ry="4" opacity="0.6"/>
<ellipse cx="848.6" cy="478.6" rx="1.8" ry="5" opacity="0.5"/>
</g>
<ellipse cx="846.6" cy="577.4" rx="7.5" ry="8.5" fill="none" stroke="#4a4a4a" stroke-width="0.7" stroke-dasharray="2 1.3" transform="rotate(0 846.6 577.4)" opacity="0.85"/>
<ellipse cx="846.5" cy="577.3" rx="11.5" ry="12.5" fill="none" stroke="#4a4a4a" stroke-width="0.7" stroke-dasharray="2 1.3" transform="rotate(0 846.5 577.3)" opacity="0.85"/>
<ellipse cx="846.3" cy="577" rx="15.5" ry="16" fill="none" stroke="#4a4a4a" stroke-width="0.7" stroke-dasharray="2 1.3" transform="rotate(0 846.3 577)" opacity="0.85"/>
<ellipse cx="846" cy="577" rx="20" ry="20.5" fill="none" stroke="#4a4a4a" stroke-width="0.7" stroke-dasharray="2 1.3" transform="rotate(0 846 577)" opacity="0.85"/>
<ellipse cx="839" cy="620.5" rx="14" ry="4.2" fill="none" stroke="#4a4a4a" stroke-width="0.7" stroke-dasharray="2 1.3" transform="rotate(0 839 620.5)" opacity="0.85"/>
<ellipse cx="839" cy="620.5" rx="24" ry="8" fill="none" stroke="#4a4a4a" stroke-width="0.7" stroke-dasharray="2 1.3" transform="rotate(0 839 620.5)" opacity="0.85"/>
<ellipse cx="857" cy="511" rx="3" ry="6" fill="none" stroke="#4a4a4a" stroke-width="0.7" stroke-dasharray="2 1.3" transform="rotate(10 857 511)" opacity="0.85"/>
<ellipse cx="857" cy="511" rx="9" ry="24" fill="none" stroke="#4a4a4a" stroke-width="0.7" stroke-dasharray="2 1.3" transform="rotate(10 857 511)" opacity="0.85"/>
<path d="M766.3,470 C765.68,472.72 764.03,480.3 762.6,486.3 C761.17,492.3 759.62,499.7 757.7,506 C755.78,512.3 753.57,518.08 751.1,524.1 C748.63,530.12 745.63,536.63 742.9,542.1 C740.17,547.57 737.72,552.52 734.7,556.9 C731.68,561.28 727.08,565.8 724.8,568.4 C722.52,571 721.63,571.82 721,572.5 L721,470 Z" stroke="#666" stroke-width="0.6" fill="#000" stroke-linejoin="round" stroke-linecap="round"/>
<path d="M930.6,470 C931.42,472.92 933.68,481.08 935.5,487.5 C937.32,493.92 939.25,501.75 941.5,508.5 C943.75,515.25 946.25,521.98 949,528 C951.75,534.02 955.12,539.58 958,544.6 C960.88,549.62 964.3,555.03 966.3,558.1 C968.3,561.17 969.38,562.18 970,563 L970,470 Z" stroke="#666" stroke-width="0.6" fill="#000" stroke-linejoin="round" stroke-linecap="round"/>
</g>
<rect x="723.5" y="471.4" width="243.8" height="190.6" stroke="#555" stroke-width="1" fill="none"/>
<text x="854.6" y="554.3" font-size="12.5" font-weight="bold" text-anchor="start" fill="#fff" transform="translate(854.6 0) scale(1.2 1) translate(-854.6 0)">Fe-Fe/Co</text>
<text x="853.4" y="611.4" font-size="12.5" font-weight="bold" text-anchor="start" fill="#fff" transform="translate(853.4 0) scale(1.2 1) translate(-853.4 0)">Fe-O</text>
<line x1="720.5" y1="637.4" x2="723.5" y2="637.4" stroke="#333" stroke-width="1.1" stroke-linecap="butt"/>
<line x1="720.5" y1="604.2" x2="723.5" y2="604.2" stroke="#333" stroke-width="1.1" stroke-linecap="butt"/>
<line x1="720.5" y1="571" x2="723.5" y2="571" stroke="#333" stroke-width="1.1" stroke-linecap="butt"/>
<line x1="720.5" y1="537.8" x2="723.5" y2="537.8" stroke="#333" stroke-width="1.1" stroke-linecap="butt"/>
<line x1="720.5" y1="504.6" x2="723.5" y2="504.6" stroke="#333" stroke-width="1.1" stroke-linecap="butt"/>
<line x1="720.5" y1="471.4" x2="723.5" y2="471.4" stroke="#333" stroke-width="1.1" stroke-linecap="butt"/>
<text x="713.5" y="608" font-size="11" font-weight="bold" text-anchor="middle" fill="#000" transform="translate(713.5 0) scale(1.2 1) translate(-713.5 0)">2</text>
<text x="713.5" y="541.6" font-size="11" font-weight="bold" text-anchor="middle" fill="#000" transform="translate(713.5 0) scale(1.2 1) translate(-713.5 0)">4</text>
<text x="713.5" y="475.2" font-size="11" font-weight="bold" text-anchor="middle" fill="#000" transform="translate(713.5 0) scale(1.2 1) translate(-713.5 0)">6</text>
<line x1="737.3" y1="662" x2="737.3" y2="665" stroke="#333" stroke-width="1.1" stroke-linecap="butt"/>
<line x1="754.3" y1="662" x2="754.3" y2="665" stroke="#333" stroke-width="1.1" stroke-linecap="butt"/>
<line x1="771.3" y1="662" x2="771.3" y2="665" stroke="#333" stroke-width="1.1" stroke-linecap="butt"/>
<line x1="788.3" y1="662" x2="788.3" y2="665" stroke="#333" stroke-width="1.1" stroke-linecap="butt"/>
<line x1="805.3" y1="662" x2="805.3" y2="665" stroke="#333" stroke-width="1.1" stroke-linecap="butt"/>
<line x1="822.3" y1="662" x2="822.3" y2="665" stroke="#333" stroke-width="1.1" stroke-linecap="butt"/>
<line x1="839.3" y1="662" x2="839.3" y2="665" stroke="#333" stroke-width="1.1" stroke-linecap="butt"/>
<line x1="856.3" y1="662" x2="856.3" y2="665" stroke="#333" stroke-width="1.1" stroke-linecap="butt"/>
<line x1="873.3" y1="662" x2="873.3" y2="665" stroke="#333" stroke-width="1.1" stroke-linecap="butt"/>
<line x1="890.3" y1="662" x2="890.3" y2="665" stroke="#333" stroke-width="1.1" stroke-linecap="butt"/>
<line x1="907.3" y1="662" x2="907.3" y2="665" stroke="#333" stroke-width="1.1" stroke-linecap="butt"/>
<line x1="924.3" y1="662" x2="924.3" y2="665" stroke="#333" stroke-width="1.1" stroke-linecap="butt"/>
<line x1="941.3" y1="662" x2="941.3" y2="665" stroke="#333" stroke-width="1.1" stroke-linecap="butt"/>
<line x1="958.3" y1="662" x2="958.3" y2="665" stroke="#333" stroke-width="1.1" stroke-linecap="butt"/>
<text x="737.3" y="678.8" font-size="11.8" font-weight="bold" text-anchor="middle" fill="#000" transform="translate(737.3 0) scale(1.3 1) translate(-737.3 0)">−10</text>
<text x="771.3" y="678.8" font-size="11.8" font-weight="bold" text-anchor="middle" fill="#000" transform="translate(771.3 0) scale(1.3 1) translate(-771.3 0)">−5</text>
<text x="805.3" y="678.8" font-size="11.8" font-weight="bold" text-anchor="middle" fill="#000" transform="translate(805.3 0) scale(1.3 1) translate(-805.3 0)">0</text>
<text x="839.3" y="678.8" font-size="11.8" font-weight="bold" text-anchor="middle" fill="#000" transform="translate(839.3 0) scale(1.3 1) translate(-839.3 0)">5</text>
<text x="873.3" y="678.8" font-size="11.8" font-weight="bold" text-anchor="middle" fill="#000" transform="translate(873.3 0) scale(1.3 1) translate(-873.3 0)">10</text>
<text x="907.3" y="678.8" font-size="11.8" font-weight="bold" text-anchor="middle" fill="#000" transform="translate(907.3 0) scale(1.3 1) translate(-907.3 0)">15</text>
<text x="941.3" y="678.8" font-size="11.8" font-weight="bold" text-anchor="middle" fill="#000" transform="translate(941.3 0) scale(1.3 1) translate(-941.3 0)">20</text>
<text x="700" y="569" font-size="12.5" font-weight="bold" text-anchor="middle" fill="#000" transform="translate(700 569) scale(1.15 1) rotate(-90) translate(-700 -569)">R+<tspan font-style="italic">α</tspan>(Å)</text>
<text x="846" y="694.2" font-size="12.5" font-weight="bold" text-anchor="middle" fill="#000" transform="translate(846 0) scale(1.2 1) translate(-846 0)">K(Å<tspan font-size="8.5" dy="-4.75">-1</tspan><tspan dy="4.75">)</tspan></text>
<text x="662.1" y="489.4" font-size="24.7" font-weight="normal" text-anchor="start" fill="#000" transform="translate(662.1 0) scale(0.88 1) translate(-662.1 0)">(i)</text>
</svg></body></html>
